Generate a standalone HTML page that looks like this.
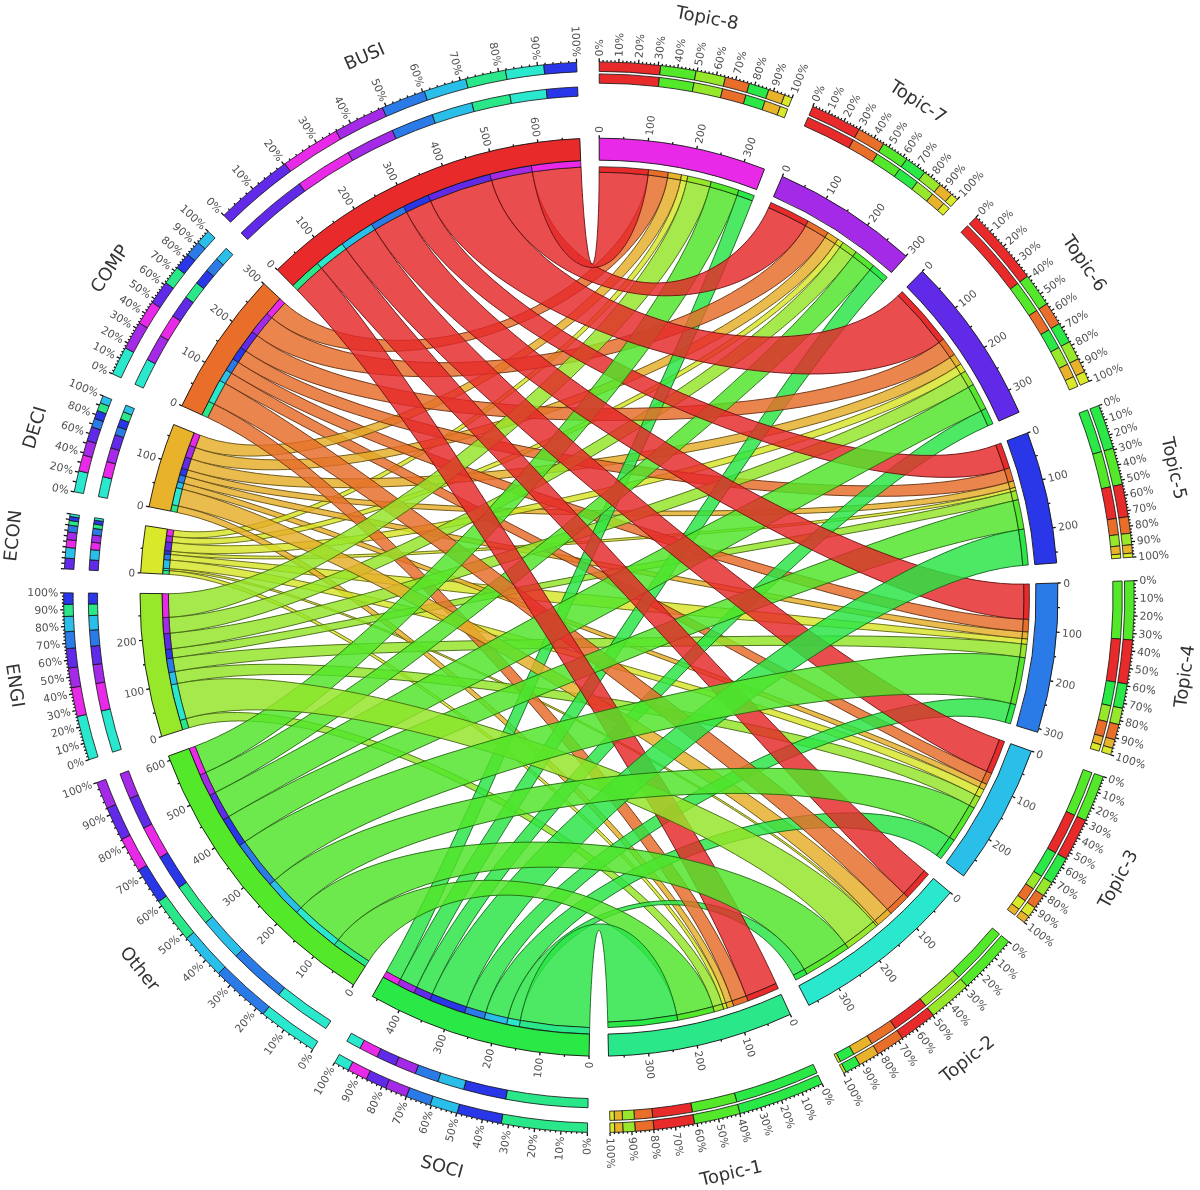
<!DOCTYPE html>
<html><head><meta charset="utf-8"><title>Chord diagram</title><style>html,body{margin:0;padding:0;background:#fff;}svg{display:block;}</style></head><body>
<svg width="1200" height="1190" viewBox="0 0 1200 1190">
<rect width="100%" height="100%" fill="#fff"/>
<g stroke-width="1" stroke-linejoin="round">
<path d="M169.3,570.7 A430.5,430.5 0 0 1 169.4,568.7 L182.5,569.8 195.9,571.5 209.7,573.8 223.7,576.5 238,579.8 252.5,583.5 267.4,587.6 282.5,592.1 297.8,597.1 313.3,602.3 329,607.9 344.9,613.9 361,620.1 377.3,626.6 393.6,633.3 410.1,640.3 426.7,647.5 443.4,654.9 460.1,662.5 476.9,670.3 493.7,678.2 510.6,686.2 527.4,694.4 544.1,702.7 560.9,711.1 577.5,719.7 594,728.3 610.5,736.9 626.7,745.7 642.8,754.5 658.7,763.4 674.4,772.3 689.9,781.3 705.1,790.3 720,799.3 734.5,808.4 748.8,817.6 762.6,826.7 776.1,835.9 789.1,845.2 801.7,854.4 813.8,863.7 825.4,873.1 836.5,882.5 847,891.9 856.8,901.4 866.1,911 L874.7,920.7 A425,425 0 0 1 873.2,921.9 L864.6,912.3 855.5,902.7 845.6,893.2 835.2,883.8 824.2,874.3 812.7,865 800.6,855.7 788.1,846.4 775.1,837.2 761.7,828 747.9,818.8 733.7,809.7 719.1,800.6 704.3,791.5 689.1,782.5 673.7,773.5 658,764.6 642.1,755.7 626,746.9 609.8,738.1 593.4,729.5 576.9,720.9 560.2,712.3 543.5,703.9 526.8,695.6 510,687.5 493.2,679.4 476.4,671.5 459.6,663.8 442.9,656.2 426.2,648.8 409.6,641.6 393.1,634.7 376.8,628 360.6,621.5 344.5,615.3 328.6,609.4 312.9,603.9 297.4,598.6 282.1,593.7 267,589.3 252.2,585.2 237.7,581.5 223.4,578.3 209.4,575.6 195.7,573.4 182.4,571.8Z" fill="#d7e429" fill-opacity="0.83" stroke="#606612" stroke-opacity="0.9"/>
<path d="M170.6,554.5 A430.5,430.5 0 0 1 171,551.2 L186.2,552.7 201.7,553.9 217.5,554.8 233.6,555.5 249.9,555.9 266.5,556.2 283.3,556.2 300.4,556.1 317.6,555.8 335.1,555.4 352.7,554.8 370.5,554.1 388.5,553.4 406.6,552.5 424.8,551.5 443.2,550.5 461.7,549.4 480.2,548.3 498.9,547 517.6,545.8 536.4,544.5 555.2,543.2 574,541.8 592.8,540.4 611.7,539 630.5,537.6 649.3,536.1 668,534.6 686.7,533.1 705.3,531.5 723.8,529.9 742.2,528.2 760.5,526.5 778.7,524.8 796.7,523 814.5,521.1 832.2,519.1 849.6,517.1 866.9,514.9 883.9,512.7 900.7,510.3 917.2,507.7 933.4,505.1 949.4,502.2 965,499.2 980.3,496 995.3,492.5 L1010,488.8 A425,425 0 0 1 1010.8,492 L996,495.6 981,499 965.6,502.1 949.8,505.1 933.8,507.8 917.5,510.4 900.9,512.9 884.1,515.2 867.1,517.4 849.8,519.6 832.3,521.6 814.6,523.5 796.8,525.3 778.7,527.1 760.6,528.8 742.3,530.5 723.9,532.1 705.4,533.7 686.8,535.3 668.1,536.8 649.4,538.3 630.6,539.7 611.8,541.2 593,542.6 574.1,544 555.3,545.3 536.5,546.7 517.8,548 499.1,549.2 480.5,550.5 461.9,551.6 443.4,552.8 425.1,553.8 406.8,554.8 388.7,555.7 370.7,556.5 352.9,557.3 335.3,557.9 317.8,558.4 300.5,558.7 283.4,558.9 266.6,558.9 249.9,558.7 233.6,558.4 217.4,557.8 201.5,557 185.9,555.9Z" fill="#d7e429" fill-opacity="0.83" stroke="#606612" stroke-opacity="0.9"/>
<path d="M169.1,574.4 A430.5,430.5 0 0 1 169.3,570.7 L180.5,571.7 192,573.5 203.8,575.9 215.8,578.9 228.1,582.6 240.7,586.8 253.5,591.6 266.5,597 279.7,602.8 293.1,609.2 306.7,615.9 320.4,623.2 334.2,630.8 348.1,638.8 362.1,647.2 376.2,655.9 390.4,664.9 404.5,674.3 418.7,683.9 432.9,693.7 447,703.8 461,714.1 475,724.6 488.9,735.3 502.7,746.1 516.3,757.1 529.7,768.2 543,779.4 556,790.7 568.8,802 581.3,813.4 593.5,824.9 605.4,836.4 616.9,847.9 628,859.3 638.8,870.8 649.1,882.2 658.9,893.6 668.3,905 677.2,916.3 685.5,927.5 693.2,938.6 700.3,949.6 706.8,960.5 712.6,971.3 717.7,982 722.1,992.5 L725.7,1002.9 A425,425 0 0 1 722.1,1004 L718.6,993.6 714.3,983.1 709.3,972.5 703.6,961.8 697.3,950.9 690.3,939.9 682.6,928.8 674.4,917.6 665.7,906.4 656.4,895.1 646.7,883.7 636.4,872.3 625.8,860.8 614.7,849.4 603.2,837.9 591.4,826.5 579.3,815.1 566.9,803.7 554.2,792.4 541.2,781.1 528.1,770 514.7,758.9 501.1,748 487.4,737.2 473.6,726.6 459.7,716.1 445.7,705.9 431.6,695.8 417.5,686 403.4,676.5 389.2,667.2 375.2,658.3 361.1,649.6 347.1,641.3 333.3,633.4 319.5,625.8 305.8,618.7 292.3,612 279,605.7 265.8,600 252.9,594.7 240.1,590 227.6,585.8 215.3,582.3 203.3,579.3 191.6,577 180.2,575.4Z" fill="#d7e429" fill-opacity="0.83" stroke="#606612" stroke-opacity="0.9"/>
<path d="M170.1,560.1 A430.5,430.5 0 0 1 170.6,554.5 L187.6,556.2 204.5,557.9 221.5,559.5 238.5,561.2 255.6,562.8 272.6,564.5 289.8,566.1 306.9,567.7 324.2,569.4 341.4,571 358.8,572.7 376.2,574.3 393.7,576 411.2,577.6 428.8,579.3 446.5,581 464.2,582.7 482,584.4 499.9,586.2 517.8,587.9 535.8,589.6 553.8,591.4 571.9,593.2 590.1,595 608.3,596.8 626.6,598.6 644.9,600.4 663.2,602.2 681.5,604.1 699.9,605.9 718.3,607.8 736.6,609.6 755,611.5 773.3,613.4 791.7,615.2 810,617.1 828.2,619 846.4,620.8 864.5,622.7 882.5,624.5 900.4,626.4 918.2,628.2 935.9,630 953.5,631.7 970.9,633.5 988.1,635.2 1005.2,636.9 L1022,638.5 A425,425 0 0 1 1021.4,643.9 L1004.7,642.1 987.8,640.4 970.7,638.7 953.5,637.1 936.2,635.6 918.7,634.1 901.1,632.6 883.4,631.2 865.5,629.7 847.7,628.3 829.7,626.8 811.6,625.4 793.5,624 775.4,622.5 757.2,621 739,619.5 720.7,618 702.4,616.4 684.2,614.9 665.9,613.2 647.6,611.6 629.3,609.9 611.1,608.1 592.9,606.4 574.6,604.5 556.5,602.7 538.3,600.8 520.2,598.9 502.2,596.9 484.1,594.9 466.2,592.9 448.3,590.9 430.4,588.8 412.6,586.8 394.9,584.7 377.2,582.6 359.6,580.5 342.1,578.5 324.6,576.4 307.2,574.4 289.8,572.4 272.5,570.4 255.3,568.5 238.1,566.7 221,564.9 204,563.2 187,561.6Z" fill="#d7e429" fill-opacity="0.83" stroke="#606612" stroke-opacity="0.9"/>
<path d="M182.3,489.1 A430.5,430.5 0 0 1 183.8,483.3 L199.5,487.7 215.2,492.3 231.1,497.2 247,502.3 263.1,507.6 279.3,513 295.7,518.6 312.1,524.4 328.6,530.2 345.3,536.2 362,542.3 378.8,548.5 395.7,554.8 412.7,561.1 429.8,567.5 446.9,574 464.1,580.4 481.4,586.9 498.7,593.5 516.1,600 533.5,606.6 550.9,613.1 568.3,619.7 585.8,626.2 603.3,632.8 620.7,639.3 638.2,645.8 655.6,652.3 673,658.7 690.3,665.2 707.6,671.6 724.9,678 742,684.4 759.1,690.8 776.1,697.2 792.9,703.6 809.7,710 826.3,716.3 842.7,722.7 859,729.1 875.1,735.6 891,742 906.7,748.5 922.2,755.1 937.5,761.7 952.5,768.4 967.2,775.2 L981.7,782 A425,425 0 0 1 979.1,787.3 L964.9,780.3 950.3,773.4 935.5,766.6 920.4,759.9 905,753.2 889.4,746.6 873.6,740.1 857.6,733.6 841.4,727.1 825,720.6 808.5,714.1 791.8,707.7 775,701.3 758,694.8 741,688.4 723.8,681.9 706.6,675.4 689.3,669 671.9,662.5 654.5,656 637,649.4 619.5,642.9 602,636.4 584.5,629.8 567,623.2 549.5,616.7 532,610.1 514.6,603.6 497.2,597.1 479.8,590.6 462.5,584.1 445.3,577.6 428.1,571.2 411,564.9 393.9,558.6 377,552.4 360.2,546.3 343.4,540.3 326.8,534.4 310.2,528.7 293.8,523.1 277.5,517.6 261.3,512.3 245.2,507.2 229.3,502.3 213.5,497.7 197.8,493.3Z" fill="#e4af29" fill-opacity="0.83" stroke="#664e12" stroke-opacity="0.9"/>
<path d="M172,542.5 A430.5,430.5 0 0 1 172.8,536.4 L184.3,537.7 196.3,538.4 208.7,538.5 221.5,538.1 234.7,537.2 248.3,535.7 262.2,533.8 276.4,531.4 291,528.6 305.8,525.3 320.9,521.7 336.2,517.7 351.8,513.3 367.5,508.6 383.4,503.6 399.5,498.3 415.6,492.8 431.9,486.9 448.3,480.8 464.7,474.5 481.1,467.9 497.5,461.1 513.9,454.2 530.3,447 546.6,439.7 562.7,432.3 578.8,424.7 594.7,416.9 610.4,409 625.8,401 641.1,393 656.1,384.8 670.7,376.5 685.1,368.1 699.1,359.6 712.7,351.1 725.9,342.5 738.7,333.8 751,325 762.7,316.2 774,307.4 784.6,298.4 794.7,289.5 804.2,280.4 812.9,271.3 821,262.2 828.4,253 L835,243.7 A425,425 0 0 1 840,247.1 L833.2,256.4 825.6,265.6 817.4,274.8 808.4,283.9 798.8,292.9 788.5,301.9 777.7,310.8 766.3,319.7 754.4,328.5 741.9,337.2 729,345.9 715.7,354.5 701.9,363 687.8,371.5 673.3,379.9 658.5,388.2 643.4,396.4 628.1,404.5 612.5,412.5 596.7,420.4 580.7,428.2 564.5,435.9 548.3,443.4 531.9,450.7 515.5,457.9 499,464.9 482.5,471.7 465.9,478.3 449.4,484.7 433,490.9 416.6,496.8 400.4,502.5 384.2,507.9 368.2,513 352.4,517.8 336.8,522.3 321.4,526.4 306.2,530.1 291.2,533.5 276.6,536.4 262.3,538.9 248.2,541 234.6,542.6 221.2,543.6 208.3,544.2 195.8,544.2 183.7,543.7Z" fill="#d7e429" fill-opacity="0.83" stroke="#606612" stroke-opacity="0.9"/>
<path d="M172.8,536.4 A430.5,430.5 0 0 1 173.8,530.2 L183.5,531.3 193.7,531.8 204.2,531.7 215.1,531 226.4,529.6 237.9,527.7 249.8,525.2 261.9,522.2 274.2,518.7 286.7,514.7 299.5,510.2 312.4,505.3 325.5,499.9 338.6,494.1 351.9,488 365.3,481.4 378.7,474.5 392.1,467.2 405.5,459.7 418.9,451.8 432.3,443.6 445.6,435.2 458.8,426.6 471.8,417.7 484.8,408.6 497.5,399.3 510,389.8 522.4,380.2 534.4,370.4 546.2,360.6 557.7,350.6 568.8,340.5 579.6,330.3 590,320.1 600.1,309.9 609.6,299.6 618.7,289.3 627.3,279 635.4,268.8 643,258.6 650,248.4 656.4,238.3 662.1,228.3 667.2,218.4 671.7,208.6 675.4,199 678.4,189.5 L680.6,180.1 A425,425 0 0 1 686.8,181.4 L684.4,190.8 681.3,200.4 677.4,210.1 672.8,220 667.5,230 661.6,240 655,250.2 647.8,260.4 640.1,270.7 631.8,281 623,291.3 613.8,301.7 604,312 593.8,322.3 583.2,332.6 572.3,342.8 561,353 549.3,363.1 537.4,373 525.1,382.9 512.7,392.6 500,402.2 487.1,411.5 474,420.7 460.8,429.7 447.5,438.5 434,447 420.5,455.3 407,463.3 393.4,471 379.9,478.4 366.3,485.4 352.8,492.1 339.4,498.4 326.1,504.3 312.9,509.9 299.9,514.9 287,519.6 274.4,523.7 261.9,527.4 249.7,530.5 237.8,533.1 226.1,535.2 214.7,536.7 203.7,537.6 193,537.8 182.7,537.4Z" fill="#d7e429" fill-opacity="0.83" stroke="#606612" stroke-opacity="0.9"/>
<path d="M176.9,512.4 A430.5,430.5 0 0 1 178.3,505.9 L189.9,508.8 201.8,512.3 213.9,516.6 226.1,521.4 238.6,526.9 251.3,532.9 264.1,539.5 277.1,546.6 290.2,554.2 303.5,562.3 316.9,570.8 330.4,579.7 344,589 357.7,598.6 371.4,608.6 385.2,618.9 399.1,629.5 412.9,640.4 426.7,651.5 440.6,662.8 454.4,674.4 468.1,686.1 481.8,698 495.3,710 508.8,722.2 522.1,734.4 535.3,746.8 548.3,759.2 561,771.7 573.6,784.2 585.9,796.7 597.9,809.3 609.7,821.8 621.1,834.3 632.2,846.8 642.9,859.3 653.2,871.6 663.1,883.9 672.5,896.2 681.4,908.3 689.8,920.3 697.7,932.2 705,944 711.7,955.7 717.8,967.2 723.2,978.6 727.9,989.8 L731.9,1000.9 A425,425 0 0 1 725.7,1002.9 L721.9,991.9 717.4,980.7 712.2,969.4 706.3,958 699.7,946.4 692.6,934.6 684.9,922.8 676.6,910.8 667.9,898.7 658.6,886.5 648.9,874.2 638.7,861.9 628.2,849.5 617.2,837.1 605.9,824.6 594.3,812.1 582.4,799.6 570.2,787.1 557.7,774.6 545,762.2 532.1,749.8 519.1,737.6 505.8,725.4 492.4,713.3 478.9,701.3 465.3,689.5 451.7,677.9 437.9,666.4 424.2,655.1 410.4,644.1 396.6,633.4 382.8,622.9 369.1,612.7 355.4,602.8 341.7,593.3 328.2,584.1 314.7,575.3 301.4,567 288.2,559.1 275.1,551.6 262.2,544.7 249.4,538.3 236.8,532.4 224.4,527.1 212.2,522.4 200.2,518.4 188.5,515.1Z" fill="#e4af29" fill-opacity="0.83" stroke="#664e12" stroke-opacity="0.9"/>
<path d="M185.8,476.4 A430.5,430.5 0 0 1 187.7,469.9 L201.4,473.9 215.5,477.6 230.1,481 245,484.1 260.3,486.9 276,489.5 292,491.9 308.3,494.1 325,496.1 341.9,497.9 359.1,499.6 376.6,501 394.3,502.4 412.1,503.6 430.2,504.7 448.5,505.7 466.9,506.6 485.4,507.5 504.1,508.2 522.8,508.8 541.7,509.3 560.5,509.8 579.5,510.2 598.4,510.5 617.3,510.8 636.3,511 655.1,511.1 674,511.1 692.7,511 711.4,510.8 729.9,510.6 748.3,510.3 766.5,509.8 784.6,509.2 802.5,508.6 820.1,507.7 837.5,506.8 854.7,505.6 871.6,504.3 888.2,502.9 904.5,501.2 920.5,499.3 936.1,497.2 951.3,494.8 966.2,492.1 980.6,489.2 994.6,486 L1008.2,482.4 A425,425 0 0 1 1010,488.8 L996.2,492.2 982,495.3 967.4,498.1 952.4,500.6 937,502.8 921.2,504.8 905.1,506.6 888.7,508.2 872,509.6 855.1,510.8 837.8,511.8 820.3,512.7 802.6,513.4 784.7,514 766.6,514.5 748.3,514.9 729.9,515.2 711.4,515.4 692.7,515.6 673.9,515.6 655.1,515.6 636.2,515.4 617.3,515.3 598.3,515 579.4,514.7 560.5,514.3 541.6,513.9 522.7,513.3 504,512.7 485.3,512.1 466.7,511.3 448.3,510.5 430,509.5 411.9,508.5 393.9,507.3 376.2,506 358.7,504.6 341.4,503.1 324.4,501.4 307.6,499.5 291.2,497.4 275.1,495.2 259.2,492.7 243.8,490 228.7,487 214,483.8 199.7,480.2Z" fill="#e4af29" fill-opacity="0.83" stroke="#664e12" stroke-opacity="0.9"/>
<path d="M183.8,483.3 A430.5,430.5 0 0 1 185.8,476.4 L201.3,480.8 217,485.1 233,489.2 249.2,493.2 265.7,497.1 282.3,500.9 299.1,504.6 316.1,508.2 333.2,511.7 350.5,515.3 368,518.7 385.6,522.1 403.3,525.6 421.1,528.9 439.1,532.3 457.1,535.7 475.2,539 493.3,542.4 511.6,545.8 529.8,549.1 548.1,552.5 566.5,555.9 584.9,559.3 603.2,562.7 621.6,566.1 640,569.5 658.3,572.9 676.6,576.3 694.9,579.8 713.1,583.1 731.3,586.5 749.4,589.9 767.4,593.2 785.3,596.5 803.2,599.7 820.9,602.9 838.5,606 856,609 873.4,611.9 890.7,614.7 907.7,617.4 924.7,620 941.5,622.4 958.1,624.6 974.5,626.7 990.7,628.6 1006.8,630.2 L1022.6,631.6 A425,425 0 0 1 1022,638.5 L1006,636.9 989.8,635 973.5,632.9 957,630.6 940.3,628.2 923.4,625.6 906.4,622.9 889.3,620 872,617.1 854.6,614 837.1,610.9 819.5,607.7 801.8,604.4 784,601.1 766,597.8 748.1,594.4 730,591 711.9,587.6 693.7,584.2 675.5,580.7 657.2,577.3 638.9,573.9 620.6,570.5 602.3,567.1 584,563.7 565.7,560.3 547.4,557 529.1,553.6 510.9,550.3 492.7,547 474.6,543.7 456.5,540.4 438.5,537.1 420.6,533.8 402.8,530.5 385,527.2 367.4,523.9 349.9,520.5 332.6,517.1 315.3,513.7 298.3,510.2 281.4,506.7 264.6,503 248.1,499.3 231.7,495.5 215.5,491.6 199.6,487.5Z" fill="#e4af29" fill-opacity="0.83" stroke="#664e12" stroke-opacity="0.9"/>
<path d="M169.4,568.7 A430.5,430.5 0 0 1 170.1,560.1 L185.3,561.5 200.7,563.4 216.3,565.5 232.2,568 248.2,570.7 264.5,573.7 281,576.9 297.6,580.4 314.5,584 331.5,587.8 348.6,591.8 366,596 383.4,600.3 401,604.7 418.7,609.2 436.5,613.8 454.4,618.6 472.4,623.4 490.4,628.2 508.5,633.2 526.6,638.1 544.8,643.2 563,648.2 581.2,653.3 599.4,658.4 617.6,663.6 635.7,668.8 653.8,674 671.8,679.2 689.7,684.4 707.5,689.7 725.2,695 742.8,700.3 760.3,705.6 777.5,711 794.6,716.4 811.5,721.9 828.2,727.4 844.6,733 860.8,738.6 876.8,744.3 892.4,750.1 907.7,756 922.7,762 937.4,768.1 951.7,774.4 965.6,780.8 L979.1,787.3 A425,425 0 0 1 975.2,794.9 L962,788.1 948.4,781.6 934.4,775.2 919.9,768.9 905.1,762.8 890,756.8 874.5,750.8 858.8,745 842.7,739.3 826.4,733.6 809.8,728 793,722.4 776,716.9 758.7,711.5 741.3,706.1 723.8,700.7 706.1,695.3 688.3,690 670.4,684.7 652.4,679.5 634.3,674.2 616.1,669 597.9,663.9 579.7,658.7 561.5,653.6 543.3,648.6 525.1,643.6 506.9,638.6 488.8,633.7 470.7,628.9 452.7,624.2 434.8,619.5 417,615 399.3,610.6 381.7,606.2 364.2,602.1 346.9,598 329.8,594.2 312.8,590.5 296,587 279.4,583.8 263,580.7 246.9,578 230.9,575.5 215.2,573.3 199.7,571.4 184.4,569.8Z" fill="#d7e429" fill-opacity="0.83" stroke="#606612" stroke-opacity="0.9"/>
<path d="M171,551.2 A430.5,430.5 0 0 1 172,542.5 L185.5,544 199.5,545 213.8,545.6 228.5,545.8 243.6,545.6 259,545.1 274.7,544.2 290.8,543.1 307.1,541.6 323.7,539.9 340.6,537.9 357.7,535.7 375,533.2 392.5,530.6 410.2,527.7 428.1,524.7 446,521.5 464.2,518.2 482.4,514.7 500.7,511 519,507.3 537.4,503.4 555.8,499.5 574.2,495.4 592.6,491.2 611,486.9 629.2,482.6 647.4,478.1 665.5,473.6 683.4,469 701.2,464.3 718.8,459.5 736.2,454.6 753.4,449.7 770.3,444.6 786.9,439.5 803.3,434.2 819.3,428.8 835,423.3 850.3,417.7 865.2,412 879.6,406.1 893.7,400 907.2,393.8 920.3,387.4 932.8,380.8 944.8,374 L956.2,366.9 A425,425 0 0 1 960.7,374.1 L949,381 936.8,387.7 924,394.2 910.7,400.5 896.9,406.7 882.6,412.6 868,418.4 852.9,424.1 837.4,429.6 821.6,435 805.4,440.3 789,445.5 772.2,450.6 755.2,455.6 737.9,460.5 720.5,465.3 702.8,470.1 684.9,474.7 666.9,479.3 648.8,483.8 630.6,488.3 612.3,492.6 593.9,496.9 575.5,501.1 557,505.2 538.6,509.1 520.2,513 501.8,516.8 483.4,520.5 465.2,524.1 447,527.5 429,530.7 411.1,533.9 393.3,536.8 375.8,539.6 358.4,542.1 341.2,544.5 324.3,546.6 307.6,548.5 291.1,550.1 275,551.5 259.1,552.5 243.5,553.2 228.3,553.6 213.4,553.6 198.9,553.2 184.7,552.5Z" fill="#d7e429" fill-opacity="0.83" stroke="#606612" stroke-opacity="0.9"/>
<path d="M172.8,658 A430.5,430.5 0 0 1 171.6,648.8 L188,646.7 204.4,644.5 221.1,642.1 237.8,639.5 254.7,636.7 271.7,633.9 288.8,630.9 306,627.8 323.3,624.7 340.7,621.5 358.2,618.2 375.8,614.8 393.5,611.4 411.3,608 429.2,604.5 447.1,601.1 465.1,597.6 483.1,594.1 501.2,590.6 519.3,587.1 537.5,583.6 555.7,580.2 573.9,576.8 592.1,573.3 610.3,569.9 628.6,566.6 646.8,563.2 665,559.9 683.2,556.6 701.3,553.3 719.4,550 737.5,546.8 755.5,543.6 773.4,540.3 791.2,537.1 808.9,533.9 826.6,530.6 844.1,527.4 861.5,524.1 878.8,520.8 895.9,517.5 912.9,514.1 929.7,510.6 946.3,507.1 962.7,503.5 979,499.8 995,495.9 L1010.8,492 A425,425 0 0 1 1012.9,500.9 L996.9,504.6 980.6,508.1 964.1,511.6 947.5,515 930.6,518.3 913.7,521.6 896.6,524.8 879.3,528 861.9,531.1 844.5,534.2 826.9,537.4 809.2,540.5 791.4,543.6 773.6,546.7 755.7,549.8 737.7,553 719.7,556.2 701.6,559.3 683.5,562.6 665.4,565.8 647.3,569.1 629.1,572.4 611,575.8 592.8,579.1 574.7,582.5 556.6,586 538.5,589.4 520.4,592.9 502.4,596.4 484.4,600 466.4,603.5 448.6,607.1 430.7,610.6 413,614.1 395.2,617.7 377.6,621.2 360.1,624.7 342.6,628.1 325.2,631.5 307.9,634.8 290.6,638.1 273.5,641.3 256.5,644.4 239.5,647.4 222.7,650.2 206,653 189.3,655.6Z" fill="#94e429" fill-opacity="0.83" stroke="#426612" stroke-opacity="0.9"/>
<path d="M188.8,727.9 A430.5,430.5 0 0 1 186,718.6 L195.4,716.2 205.3,714.4 215.7,713.2 226.4,712.6 237.6,712.5 249.2,712.9 261.1,713.9 273.3,715.4 285.8,717.3 298.6,719.7 311.6,722.6 324.9,725.9 338.4,729.6 352,733.7 365.7,738.2 379.6,743.1 393.6,748.3 407.6,753.8 421.7,759.7 435.8,765.9 449.8,772.3 463.8,779.1 477.8,786.1 491.6,793.3 505.3,800.8 518.9,808.5 532.3,816.4 545.4,824.4 558.4,832.7 571,841.1 583.4,849.6 595.5,858.3 607.2,867.1 618.5,876 629.5,885 640,894 650,903.1 659.6,912.3 668.7,921.5 677.2,930.7 685.1,940 692.4,949.2 699.1,958.5 705.1,967.7 710.5,976.8 715.1,985.9 719,995 L722.1,1004 A425,425 0 0 1 712.8,1006.7 L709.9,997.8 706.3,988.8 701.9,979.8 696.9,970.7 691.1,961.6 684.7,952.5 677.6,943.3 670,934.1 661.8,925 653,915.8 643.7,906.7 634,897.7 623.8,888.7 613.1,879.8 602,871 590.6,862.3 578.8,853.7 566.7,845.3 554.3,837 541.7,828.9 528.8,820.9 515.7,813.2 502.4,805.6 488.9,798.3 475.3,791.2 461.7,784.3 447.9,777.7 434.1,771.4 420.3,765.4 406.4,759.7 392.7,754.4 378.9,749.3 365.3,744.7 351.7,740.4 338.4,736.4 325.1,732.9 312.1,729.8 299.3,727.2 286.7,725 274.4,723.2 262.4,721.9 250.7,721.2 239.4,720.9 228.4,721.2 217.8,722 207.7,723.4 198,725.3Z" fill="#94e429" fill-opacity="0.83" stroke="#426612" stroke-opacity="0.9"/>
<path d="M187.7,469.9 A430.5,430.5 0 0 1 191.3,458.8 L203.3,462.6 215.8,465.9 228.8,468.7 242.3,471.2 256.2,473.3 270.6,475 285.5,476.4 300.7,477.4 316.3,478.1 332.2,478.6 348.5,478.8 365.1,478.7 382,478.3 399.1,477.8 416.4,477 434,476 451.7,474.8 469.6,473.4 487.6,471.8 505.8,470.1 524,468.1 542.2,466.1 560.5,463.8 578.8,461.5 597.1,458.9 615.3,456.3 633.5,453.5 651.6,450.5 669.5,447.4 687.3,444.2 704.9,440.9 722.2,437.4 739.4,433.7 756.3,429.9 772.9,426 789.2,421.9 805.1,417.6 820.7,413.2 835.9,408.6 850.7,403.8 865,398.8 878.8,393.6 892.1,388.2 904.9,382.6 917.1,376.7 928.7,370.6 939.6,364.2 L950,357.5 A425,425 0 0 1 956.2,366.9 L945.5,373.5 934.1,379.7 922.2,385.7 909.7,391.5 896.6,397 883,402.3 868.9,407.3 854.3,412.2 839.3,416.9 823.9,421.4 808.1,425.7 792,429.9 775.5,433.9 758.7,437.8 741.6,441.5 724.3,445.1 706.8,448.5 689,451.9 671.1,455.1 653,458.1 634.9,461 616.6,463.9 598.2,466.5 579.8,469.1 561.4,471.5 543,473.7 524.6,475.9 506.3,477.8 488,479.7 469.9,481.3 451.8,482.8 434,484.1 416.3,485.2 398.8,486.2 381.5,486.9 364.5,487.3 347.7,487.6 331.3,487.6 315.1,487.3 299.3,486.8 283.9,485.9 268.8,484.7 254.1,483.2 239.9,481.3 226.1,479.1 212.8,476.5 200,473.4Z" fill="#e4af29" fill-opacity="0.83" stroke="#664e12" stroke-opacity="0.9"/>
<path d="M225.3,383.5 A430.5,430.5 0 0 1 231.4,373.1 L245.6,381.6 259.9,390.1 274.5,398.5 289.3,406.8 304.2,415.1 319.3,423.4 334.6,431.7 350,440 365.5,448.2 381.2,456.5 397,464.8 412.9,473.1 428.8,481.4 444.9,489.7 461,498.1 477.2,506.5 493.5,514.9 509.8,523.4 526.1,531.9 542.5,540.4 558.9,548.9 575.3,557.5 591.7,566.1 608.1,574.8 624.5,583.4 640.9,592.1 657.2,600.8 673.6,609.5 689.8,618.2 706.1,626.9 722.3,635.6 738.5,644.2 754.6,652.9 770.6,661.5 786.6,670 802.5,678.5 818.3,686.9 834.1,695.3 849.7,703.6 865.3,711.7 880.8,719.7 896.2,727.6 911.5,735.4 926.8,743 941.9,750.4 956.9,757.6 971.9,764.6 L986.7,771.3 A425,425 0 0 1 981.7,782 L966.8,774.8 951.8,767.3 936.7,759.6 921.6,751.8 906.3,743.9 891,735.8 875.6,727.6 860.1,719.3 844.5,710.9 828.9,702.4 813.1,693.9 797.4,685.3 781.5,676.7 765.6,668 749.6,659.3 733.6,650.6 717.5,641.9 701.4,633.1 685.3,624.4 669.1,615.7 652.9,607 636.6,598.4 620.3,589.8 604,581.2 587.7,572.6 571.4,564.1 555.1,555.6 538.8,547.1 522.6,538.7 506.3,530.3 490.1,522 473.9,513.7 457.7,505.5 441.6,497.3 425.5,489.1 409.5,481 393.6,472.8 377.7,464.7 361.9,456.7 346.3,448.6 330.7,440.5 315.2,432.4 299.9,424.4 284.7,416.3 269.6,408.1 254.7,400 239.9,391.8Z" fill="#e46c29" fill-opacity="0.83" stroke="#663012" stroke-opacity="0.9"/>
<path d="M191.3,458.8 A430.5,430.5 0 0 1 195.4,447.5 L205.4,450.8 215.9,453.6 227,455.9 238.6,457.6 250.6,458.8 263.1,459.6 276,459.9 289.3,459.8 303,459.3 317,458.3 331.4,457 346,455.2 360.9,453.1 376,450.7 391.3,447.9 406.8,444.9 422.5,441.5 438.3,437.8 454.2,433.8 470.1,429.5 486.1,425 502.1,420.3 518.1,415.3 534,410.1 549.9,404.6 565.6,399 581.3,393.2 596.7,387.1 612,380.9 627,374.6 641.8,368 656.3,361.3 670.5,354.5 684.4,347.5 697.9,340.4 710.9,333.1 723.6,325.7 735.8,318.2 747.5,310.6 758.6,302.9 769.2,295 779.2,287.1 788.6,279 797.3,270.9 805.4,262.6 812.7,254.3 819.3,245.8 L825,237.3 A425,425 0 0 1 835,243.7 L828.8,252.3 821.9,260.8 814.2,269.1 805.8,277.4 796.7,285.6 787,293.6 776.7,301.6 765.7,309.4 754.2,317.1 742.2,324.8 729.7,332.3 716.8,339.7 703.4,346.9 689.6,354.1 675.4,361.1 660.9,367.9 646.1,374.7 631.1,381.3 615.7,387.7 600.2,393.9 584.4,400 568.5,405.9 552.5,411.6 536.4,417.2 520.2,422.5 504,427.6 487.7,432.4 471.4,437.1 455.2,441.5 439.1,445.6 423.1,449.4 407.2,453 391.4,456.2 375.8,459.2 360.4,461.8 345.3,464.1 330.4,466 315.8,467.5 301.5,468.7 287.6,469.5 274,469.8 260.8,469.7 248.1,469.1 235.7,468.1 223.9,466.6 212.5,464.5 201.6,462Z" fill="#e4af29" fill-opacity="0.83" stroke="#664e12" stroke-opacity="0.9"/>
<path d="M177.3,683.6 A430.5,430.5 0 0 1 175,671.5 L188.6,669.3 202.7,667.6 217.2,666.3 232,665.3 247.3,664.6 262.9,664.3 278.8,664.3 295,664.5 311.5,665.1 328.3,665.8 345.4,666.8 362.7,668 380.2,669.4 397.9,671 415.8,672.7 433.9,674.6 452.1,676.7 470.5,678.9 488.9,681.2 507.5,683.6 526.1,686.1 544.7,688.8 563.4,691.5 582.1,694.4 600.7,697.3 619.4,700.3 637.9,703.4 656.4,706.6 674.8,709.9 693.1,713.2 711.2,716.7 729.2,720.2 746.9,723.8 764.5,727.6 781.8,731.4 798.9,735.3 815.7,739.4 832.2,743.6 848.3,747.9 864.1,752.4 879.6,757 894.6,761.8 909.3,766.8 923.4,771.9 937.2,777.3 950.4,782.9 963.1,788.8 L975.2,794.9 A425,425 0 0 1 969.4,805.5 L957.7,799.2 945.4,793.2 932.5,787.4 919.1,781.9 905.3,776.5 890.9,771.4 876.2,766.4 861,761.7 845.4,757 829.4,752.6 813.1,748.3 796.5,744.1 779.6,740.1 762.4,736.1 745,732.3 727.3,728.6 709.5,725 691.4,721.5 673.3,718.1 654.9,714.8 636.5,711.6 618,708.4 599.4,705.4 580.8,702.5 562.2,699.7 543.6,697 525,694.4 506.5,691.9 488,689.5 469.6,687.3 451.3,685.2 433.2,683.2 415.2,681.5 397.4,679.9 379.7,678.4 362.3,677.2 345.1,676.2 328.2,675.4 311.6,674.8 295.2,674.5 279.2,674.5 263.5,674.7 248.1,675.3 233.1,676.2 218.5,677.5 204.3,679.1 190.6,681.2Z" fill="#94e429" fill-opacity="0.83" stroke="#426612" stroke-opacity="0.9"/>
<path d="M520.3,1020.4 A430.5,430.5 0 0 1 507.9,1018 L509.7,1011 511.9,1004.2 514.5,997.4 517.6,990.6 521.1,984 525,977.6 529.3,971.2 533.9,965.1 538.9,959.1 544.2,953.4 549.8,947.9 555.7,942.6 561.9,937.6 568.4,932.9 575.1,928.4 582,924.3 589.1,920.4 596.4,916.9 603.9,913.7 611.5,910.8 619.3,908.3 627.2,906.1 635.1,904.3 643.1,902.8 651.2,901.7 659.3,901 667.5,900.6 675.6,900.6 683.7,900.9 691.7,901.6 699.7,902.7 707.6,904.1 715.3,905.9 723,908.1 730.5,910.6 737.8,913.4 744.9,916.5 751.8,920 758.5,923.7 764.9,927.8 771,932.2 776.9,936.8 782.4,941.7 787.5,946.8 792.3,952.1 796.7,957.7 800.7,963.4 L804.2,969.4 A425,425 0 0 1 793.3,975.2 L790,969.2 786.3,963.5 782.2,957.9 777.8,952.5 773,947.3 767.8,942.3 762.4,937.6 756.7,933.2 750.7,929 744.5,925.1 738.1,921.6 731.5,918.3 724.7,915.4 717.7,912.8 710.6,910.6 703.4,908.7 696.1,907.1 688.7,905.9 681.2,905.1 673.8,904.7 666.2,904.6 658.7,904.8 651.2,905.5 643.8,906.5 636.3,907.9 629,909.6 621.8,911.7 614.6,914.2 607.6,917 600.7,920.1 594,923.6 587.4,927.4 581.1,931.5 575,935.9 569,940.6 563.4,945.6 558,950.8 552.8,956.3 548,962 543.5,967.9 539.3,974 535.4,980.3 531.9,986.7 528.8,993.3 526,1000 523.7,1006.8 521.8,1013.6Z" fill="#29e444" fill-opacity="0.83" stroke="#12661e" stroke-opacity="0.9"/>
<path d="M231.4,373.1 A430.5,430.5 0 0 1 238.3,362.3 L250.5,370 263.2,377.6 276.4,385 290.1,392.2 304.1,399.3 318.6,406.4 333.4,413.3 348.6,420.1 364.1,426.8 379.9,433.4 396,440 412.3,446.5 428.9,453 445.7,459.4 462.8,465.7 480,472 497.3,478.3 514.9,484.5 532.5,490.7 550.3,496.8 568.1,502.9 586,508.9 604,514.9 622,520.8 640,526.7 658,532.4 676,538.2 694,543.8 711.9,549.4 729.8,554.8 747.6,560.1 765.3,565.3 782.8,570.4 800.3,575.4 817.6,580.1 834.7,584.7 851.7,589.1 868.5,593.3 885.1,597.3 901.5,601 917.7,604.4 933.6,607.6 949.3,610.4 964.7,612.9 979.8,615.1 994.6,616.9 1009.2,618.3 L1023.4,619.2 A425,425 0 0 1 1022.6,631.6 L1008.1,630.2 993.3,628.5 978.3,626.3 962.9,623.8 947.4,620.9 931.5,617.8 915.5,614.4 899.2,610.6 882.7,606.7 866.1,602.5 849.2,598.1 832.2,593.6 815,588.8 797.6,583.9 780.2,578.8 762.6,573.7 744.9,568.3 727.1,562.9 709.3,557.4 691.3,551.8 673.4,546.1 655.4,540.4 637.4,534.6 619.3,528.7 601.3,522.8 583.4,516.9 565.5,510.9 547.6,504.9 529.8,498.8 512.1,492.7 494.6,486.6 477.1,480.4 459.8,474.2 442.7,468 425.8,461.7 409,455.4 392.5,449 376.3,442.5 360.3,436 344.6,429.5 329.2,422.8 314.1,416.1 299.3,409.2 284.9,402.3 270.9,395.2 257.3,388 244.1,380.6Z" fill="#e46c29" fill-opacity="0.83" stroke="#663012" stroke-opacity="0.9"/>
<path d="M195.4,447.5 A430.5,430.5 0 0 1 200.1,435.2 L208.5,438.2 217.3,440.7 226.6,442.6 236.2,444 246.3,444.8 256.7,445.2 267.5,445 278.5,444.4 289.9,443.3 301.4,441.7 313.3,439.7 325.3,437.3 337.4,434.4 349.8,431.1 362.2,427.4 374.7,423.3 387.3,418.9 400,414.1 412.6,409 425.3,403.5 437.8,397.7 450.4,391.7 462.8,385.3 475.1,378.7 487.3,371.8 499.2,364.6 511,357.3 522.6,349.7 533.9,341.9 545,334 555.7,325.8 566.1,317.6 576.2,309.1 585.8,300.6 595.1,292 604,283.3 612.4,274.5 620.3,265.6 627.7,256.7 634.6,247.8 640.9,238.9 646.6,230 651.8,221.1 656.3,212.3 660.1,203.5 663.3,194.8 665.8,186.2 L667.5,177.8 A425,425 0 0 1 680.6,180.1 L678.5,188.7 675.7,197.5 672.2,206.3 668,215.2 663.1,224.1 657.6,233.2 651.5,242.2 644.7,251.2 637.5,260.3 629.6,269.3 621.3,278.3 612.5,287.2 603.2,296.1 593.5,304.9 583.4,313.6 572.9,322.2 562.1,330.6 550.9,338.9 539.5,347 527.7,355 515.8,362.8 503.5,370.4 491.1,377.7 478.6,384.8 465.9,391.7 453,398.3 440.1,404.6 427.1,410.6 414.1,416.4 401.1,421.8 388.1,426.8 375.1,431.5 362.2,435.9 349.4,439.8 336.8,443.4 324.2,446.5 311.9,449.3 299.8,451.6 287.8,453.4 276.2,454.8 264.8,455.7 253.7,456.1 243,456 232.6,455.4 222.7,454.3 213.1,452.6 204,450.3Z" fill="#e4af29" fill-opacity="0.83" stroke="#664e12" stroke-opacity="0.9"/>
<path d="M238.3,362.3 A430.5,430.5 0 0 1 245.8,351 L256.3,358 267.4,364.6 279.2,371 291.5,377.2 304.4,383.1 317.8,388.8 331.7,394.3 346,399.6 360.8,404.8 376.1,409.7 391.7,414.5 407.7,419.1 424,423.5 440.6,427.8 457.5,432 474.7,436 492,439.8 509.6,443.6 527.4,447.2 545.3,450.6 563.3,454 581.5,457.2 599.7,460.2 617.9,463.1 636.2,465.9 654.5,468.5 672.7,471 690.9,473.3 709,475.5 727,477.5 744.8,479.3 762.5,480.9 780,482.3 797.4,483.5 814.4,484.4 831.3,485.2 847.8,485.6 864,485.8 880,485.8 895.5,485.4 910.7,484.7 925.5,483.7 939.8,482.4 953.7,480.7 967.2,478.5 980.1,476 992.5,473.1 L1004.4,469.6 A425,425 0 0 1 1008.2,482.4 L995.9,485.5 983.2,488.2 969.9,490.5 956.1,492.4 941.9,493.8 927.3,494.9 912.2,495.7 896.8,496.2 881,496.3 864.9,496.2 848.4,495.8 831.7,495.2 814.7,494.3 797.4,493.1 779.9,491.8 762.3,490.3 744.4,488.6 726.4,486.7 708.3,484.6 690,482.4 671.7,480 653.3,477.5 634.9,474.8 616.5,472 598.1,469.1 579.8,466 561.5,462.9 543.3,459.5 525.3,456.1 507.3,452.6 489.6,448.9 472,445.1 454.7,441.2 437.6,437.1 420.7,432.9 404.2,428.6 388,424.1 372.1,419.4 356.6,414.6 341.5,409.7 326.8,404.5 312.6,399.1 298.9,393.6 285.6,387.8 272.9,381.8 260.8,375.6 249.2,369.1Z" fill="#e46c29" fill-opacity="0.83" stroke="#663012" stroke-opacity="0.9"/>
<path d="M175,671.5 A430.5,430.5 0 0 1 172.8,658 L188.5,655.9 204.5,654 220.7,652.3 237.2,650.8 253.9,649.4 270.7,648.2 287.8,647.1 305.1,646.2 322.5,645.3 340.1,644.6 357.8,643.9 375.7,643.3 393.7,642.7 411.9,642.2 430.2,641.8 448.5,641.3 467,640.9 485.5,640.6 504.1,640.2 522.7,639.9 541.4,639.5 560.1,639.2 578.9,638.9 597.6,638.6 616.4,638.3 635.1,638 653.9,637.7 672.6,637.4 691.2,637.1 709.8,636.9 728.3,636.6 746.7,636.4 765.1,636.2 783.3,636.1 801.5,635.9 819.5,635.9 837.3,635.9 855.1,636 872.6,636.2 890,636.5 907.2,636.9 924.2,637.4 941,638 957.6,638.8 973.9,639.8 990,641 1005.9,642.3 L1021.4,643.9 A425,425 0 0 1 1019.8,657.1 L1004.6,655.1 989,653.3 973.2,651.8 957.2,650.5 940.8,649.4 924.2,648.4 907.4,647.6 890.4,647 873.1,646.5 855.6,646.1 838,645.8 820.2,645.6 802.2,645.5 784.1,645.4 765.8,645.4 747.5,645.5 729,645.6 710.4,645.8 691.8,646 673.1,646.2 654.3,646.4 635.5,646.7 616.7,647 597.9,647.3 579,647.6 560.2,648 541.4,648.4 522.6,648.7 503.9,649.2 485.3,649.6 466.7,650.1 448.2,650.6 429.9,651.1 411.6,651.7 393.5,652.4 375.5,653.1 357.6,653.9 339.9,654.8 322.4,655.8 305.1,656.9 288,658.1 271.1,659.5 254.4,661 238,662.7 221.8,664.6 205.9,666.6 190.3,668.9Z" fill="#94e429" fill-opacity="0.83" stroke="#426612" stroke-opacity="0.9"/>
<path d="M207.7,417.6 A430.5,430.5 0 0 1 214.3,404.1 L226.1,410.3 238,417.2 250,424.6 262,432.6 274.2,441.2 286.4,450.2 298.7,459.8 311.1,469.8 323.5,480.2 336.1,491 348.6,502.2 361.3,513.7 374,525.6 386.7,537.7 399.5,550.2 412.2,562.8 425.1,575.7 437.9,588.9 450.7,602.2 463.5,615.6 476.2,629.2 488.9,643 501.6,656.8 514.2,670.8 526.7,684.8 539.1,698.9 551.4,713 563.6,727.1 575.6,741.3 587.4,755.4 599.1,769.5 610.5,783.6 621.7,797.7 632.7,811.6 643.4,825.5 653.7,839.4 663.8,853.1 673.5,866.8 682.9,880.3 691.9,893.7 700.4,907 708.5,920.2 716.1,933.2 723.2,946 729.8,958.8 735.8,971.3 741.3,983.7 L746.1,995.9 A425,425 0 0 1 731.9,1000.9 L727.7,988.8 722.7,976.6 717.2,964.1 711.1,951.6 704.4,938.8 697.2,925.9 689.4,912.8 681.3,899.6 672.6,886.2 663.6,872.8 654.1,859.2 644.4,845.5 634.2,831.7 623.8,817.8 613,803.9 602,789.9 590.7,775.8 579.3,761.8 567.6,747.7 555.7,733.6 543.6,719.5 531.5,705.4 519.1,691.5 506.7,677.5 494.2,663.7 481.6,649.9 468.9,636.3 456.2,622.8 443.4,609.5 430.6,596.3 417.9,583.4 405.1,570.6 392.3,558.2 379.6,546 366.8,534 354.2,522.4 341.5,511.2 329,500.3 316.5,489.8 304,479.7 291.7,470.1 279.4,461 267.2,452.3 255.1,444.2 243.2,436.6 231.2,429.7 219.4,423.3Z" fill="#e46c29" fill-opacity="0.83" stroke="#663012" stroke-opacity="0.9"/>
<path d="M171.6,648.8 A430.5,430.5 0 0 1 170,633.2 L184.7,631.7 199.7,629.9 214.9,627.7 230.4,625.2 246.1,622.3 262,619.1 278.2,615.6 294.5,611.9 311.1,607.9 327.8,603.7 344.7,599.3 361.8,594.7 379.1,589.9 396.4,585 413.9,579.9 431.5,574.7 449.2,569.4 467,563.9 484.9,558.4 502.8,552.8 520.8,547.1 538.8,541.3 556.8,535.5 574.8,529.6 592.8,523.7 610.8,517.7 628.7,511.7 646.6,505.7 664.3,499.6 682,493.5 699.5,487.3 716.9,481.1 734.2,474.9 751.2,468.7 768.1,462.4 784.8,456.1 801.2,449.7 817.4,443.3 833.3,436.8 848.9,430.2 864.2,423.6 879.2,416.8 893.8,410 908.1,403.1 921.9,396.1 935.3,388.9 948.3,381.6 L960.7,374.1 A425,425 0 0 1 968.5,387.3 L955.5,394.5 942,401.5 928.1,408.5 913.8,415.3 899.2,422 884.2,428.6 868.9,435.1 853.4,441.6 837.5,447.9 821.3,454.3 805,460.5 788.4,466.8 771.6,472.9 754.6,479.1 737.4,485.2 720.1,491.3 702.6,497.4 685.1,503.5 667.4,509.5 649.6,515.5 631.8,521.5 613.9,527.5 595.9,533.4 578,539.4 560,545.2 542,551.1 524.1,556.9 506.1,562.6 488.3,568.3 470.4,573.9 452.7,579.5 435,584.9 417.4,590.3 399.9,595.5 382.5,600.7 365.3,605.7 348.2,610.5 331.2,615.2 314.4,619.7 297.7,624 281.3,628 265,631.9 248.9,635.5 233,638.8 217.3,641.8 201.9,644.5 186.6,646.8Z" fill="#94e429" fill-opacity="0.83" stroke="#426612" stroke-opacity="0.9"/>
<path d="M170,633.2 A430.5,430.5 0 0 1 169,617.3 L181.5,616.4 194.3,614.9 207.5,612.8 221,610.2 234.8,607 248.8,603.3 263.2,599.2 277.7,594.7 292.6,589.7 307.6,584.3 322.9,578.5 338.3,572.4 353.9,565.9 369.6,559.2 385.5,552.1 401.5,544.8 417.6,537.2 433.8,529.4 450,521.4 466.3,513.2 482.6,504.8 498.9,496.2 515.1,487.5 531.3,478.7 547.5,469.7 563.5,460.6 579.4,451.4 595.2,442.1 610.8,432.7 626.2,423.2 641.4,413.7 656.3,404.2 671,394.5 685.4,384.9 699.5,375.2 713.2,365.5 726.5,355.7 739.4,345.9 751.9,336.1 764,326.3 775.5,316.5 786.6,306.6 797,296.8 806.9,286.9 816.2,277 824.8,267.1 832.8,257.1 L840,247.1 A425,425 0 0 1 852.8,256.3 L845,266.3 836.5,276.3 827.4,286.2 817.6,296.1 807.3,305.9 796.4,315.8 784.9,325.6 773,335.4 760.6,345.2 747.7,355 734.5,364.7 720.8,374.5 706.8,384.2 692.5,393.9 677.8,403.5 662.9,413.1 647.7,422.7 632.3,432.2 616.7,441.7 600.9,451.1 585,460.5 568.9,469.7 552.7,478.9 536.4,488 520.1,496.9 503.7,505.7 487.3,514.4 470.9,522.9 454.5,531.3 438.2,539.5 421.9,547.5 405.7,555.2 389.5,562.8 373.5,570 357.6,577 341.9,583.7 326.3,590.1 310.9,596.2 295.7,601.9 280.7,607.2 266,612.2 251.4,616.7 237.2,620.7 223.1,624.3 209.4,627.3 196,629.8 182.8,631.8Z" fill="#94e429" fill-opacity="0.83" stroke="#426612" stroke-opacity="0.9"/>
<path d="M400.5,979.2 A430.5,430.5 0 0 1 386.4,971.5 L394.3,957.4 402.1,943 409.8,928.3 417.5,913.4 425.1,898.3 432.7,883 440.3,867.5 447.8,851.8 455.3,835.9 462.8,819.9 470.2,803.7 477.7,787.5 485.2,771.1 492.7,754.5 500.2,737.9 507.8,721.2 515.3,704.5 522.9,687.6 530.5,670.8 538.1,653.8 545.7,636.9 553.3,619.9 561,602.9 568.7,585.9 576.4,568.9 584,551.9 591.7,534.9 599.4,518 607.1,501.1 614.8,484.2 622.4,467.4 630,450.7 637.5,434 645,417.4 652.5,400.9 659.8,384.4 667.1,368 674.3,351.8 681.3,335.6 688.2,319.5 695,303.6 701.7,287.7 708.1,272 714.4,256.4 720.4,240.9 726.2,225.6 731.8,210.3 L737.1,195.3 A425,425 0 0 1 752.3,200.8 L746.3,216 740.1,231.4 733.7,246.9 727.1,262.4 720.4,278.1 713.5,293.9 706.4,309.7 699.3,325.7 692,341.7 684.7,357.9 677.3,374.1 669.8,390.4 662.2,406.8 654.6,423.2 647,439.7 639.3,456.3 631.6,472.9 623.9,489.6 616.2,506.3 608.5,523.1 600.8,539.9 593.2,556.7 585.5,573.6 577.9,590.4 570.3,607.3 562.7,624.2 555.1,641 547.6,657.9 540.1,674.7 532.7,691.5 525.3,708.3 517.9,725 510.5,741.7 503.2,758.3 495.9,774.8 488.6,791.3 481.3,807.7 474.1,823.9 466.8,840.1 459.6,856.2 452.3,872.1 445,887.9 437.7,903.5 430.4,919 423,934.4 415.6,949.5 408.1,964.5Z" fill="#29e444" fill-opacity="0.83" stroke="#12661e" stroke-opacity="0.9"/>
<path d="M432.3,994.1 A430.5,430.5 0 0 1 416.7,987.2 L422.8,974.9 429.4,962.5 436.6,949.9 444.3,937.3 452.5,924.6 461.2,911.7 470.3,898.8 479.8,885.8 489.8,872.6 500.1,859.4 510.7,846.1 521.7,832.8 533,819.3 544.5,805.9 556.3,792.3 568.3,778.7 580.6,765.1 593,751.5 605.6,737.8 618.3,724.2 631.2,710.5 644.2,696.9 657.3,683.4 670.4,669.8 683.7,656.4 697,643 710.3,629.8 723.7,616.6 737,603.6 750.4,590.8 763.8,578.1 777.1,565.6 790.4,553.3 803.7,541.3 816.9,529.5 830,518 843.1,506.8 856.1,495.9 869,485.4 881.9,475.3 894.6,465.5 907.3,456.2 919.8,447.4 932.3,439 944.6,431.1 956.9,423.8 969,417.1 L981,410.9 A425,425 0 0 1 987.9,425.9 L976.1,431.4 964.1,437.6 951.9,444.4 939.7,451.7 927.3,459.6 914.8,468 902.2,476.9 889.5,486.3 876.7,496.1 863.8,506.2 850.8,516.8 837.7,527.7 824.6,538.9 811.4,550.5 798.2,562.3 784.9,574.4 771.6,586.7 758.2,599.2 744.9,611.9 731.6,624.8 718.2,637.9 705,651 691.7,664.3 678.5,677.7 665.5,691.2 652.5,704.7 639.6,718.3 626.8,731.9 614.2,745.5 601.8,759.1 589.5,772.8 577.5,786.4 565.7,800 554.1,813.5 542.8,827 531.9,840.4 521.2,853.8 510.9,867 500.9,880.2 491.3,893.3 482.2,906.3 473.5,919.2 465.3,932 457.6,944.7 450.4,957.2 443.8,969.6 437.8,982Z" fill="#29e444" fill-opacity="0.83" stroke="#12661e" stroke-opacity="0.9"/>
<path d="M178.3,505.9 A430.5,430.5 0 0 1 182.3,489.1 L196,492.9 210,497.2 224.1,502 238.5,507.2 253,512.8 267.7,518.8 282.6,525.2 297.7,532 312.9,539 328.2,546.4 343.8,554 359.4,561.9 375.2,570 391,578.4 407,587 423.1,595.7 439.2,604.6 455.4,613.6 471.7,622.8 487.9,632.1 504.3,641.6 520.6,651.1 536.9,660.7 553.2,670.4 569.4,680.1 585.6,689.9 601.7,699.7 617.8,709.6 633.7,719.5 649.5,729.4 665.1,739.3 680.6,749.3 695.9,759.2 711,769.2 725.8,779.1 740.4,789.1 754.8,799.1 768.8,809.1 782.5,819 795.9,829 808.9,839 821.5,849 833.7,859 845.4,869 856.7,879 867.5,889.1 877.7,899.2 L887.4,909.4 A425,425 0 0 1 874.7,920.7 L865.7,910.4 856,900.3 845.8,890.1 835.1,880 823.8,869.9 812.1,859.8 799.9,849.7 787.3,839.7 774.3,829.6 760.9,819.5 747.2,809.5 733.1,799.4 718.7,789.4 704.1,779.3 689.2,769.3 674.1,759.3 658.7,749.3 643.2,739.3 627.5,729.4 611.7,719.4 595.7,709.5 579.7,699.7 563.5,689.9 547.3,680.2 531.1,670.6 514.8,661 498.5,651.6 482.2,642.3 465.9,633.1 449.7,624 433.5,615.1 417.3,606.3 401.3,597.8 385.3,589.4 369.5,581.3 353.8,573.4 338.2,565.8 322.7,558.5 307.4,551.5 292.3,544.8 277.3,538.4 262.6,532.5 248,526.9 233.6,521.7 219.4,517 205.5,512.8 191.8,509.1Z" fill="#e4af29" fill-opacity="0.83" stroke="#664e12" stroke-opacity="0.9"/>
<path d="M416.7,987.2 A430.5,430.5 0 0 1 400.5,979.2 L408,965 415.8,950.7 423.9,936.4 432.2,921.9 440.8,907.4 449.6,892.8 458.5,878.2 467.7,863.4 477,848.6 486.5,833.7 496.1,818.7 505.8,803.7 515.6,788.6 525.6,773.4 535.6,758.1 545.7,742.8 555.8,727.5 566,712 576.3,696.6 586.5,681.1 596.8,665.5 607.2,650 617.5,634.4 627.8,618.8 638.1,603.2 648.4,587.6 658.7,572 669,556.5 679.3,541 689.5,525.5 699.7,510.1 709.9,494.8 720,479.5 730.2,464.3 740.3,449.3 750.3,434.3 760.4,419.5 770.4,404.8 780.4,390.3 790.3,376 800.3,361.9 810.2,348 820.2,334.3 830.1,320.8 840.1,307.7 850,294.7 860,282.1 L870,269.9 A425,425 0 0 1 883.5,281.5 L873.3,293 863.1,305 852.9,317.3 842.8,329.9 832.6,342.8 822.5,356.1 812.4,369.6 802.2,383.4 792.1,397.4 781.9,411.6 771.7,426.1 761.5,440.7 751.3,455.5 741,470.4 730.8,485.5 720.5,500.7 710.1,516 699.8,531.4 689.4,546.9 679.1,562.5 668.7,578.1 658.3,593.7 647.9,609.4 637.5,625.1 627.1,640.8 616.8,656.5 606.4,672.2 596.1,687.8 585.9,703.5 575.7,719.1 565.6,734.6 555.5,750.1 545.5,765.6 535.7,780.9 525.9,796.2 516.3,811.5 506.8,826.6 497.5,841.7 488.3,856.7 479.3,871.6 470.6,886.4 462.1,901.1 453.8,915.7 445.7,930.2 438,944.6 430.6,958.9 423.5,973.1Z" fill="#29e444" fill-opacity="0.83" stroke="#12661e" stroke-opacity="0.9"/>
<path d="M245.8,351 A430.5,430.5 0 0 1 257.2,335.5 L266,341.8 275.5,347.8 285.6,353.4 296.4,358.7 307.8,363.7 319.8,368.3 332.3,372.7 345.3,376.8 358.8,380.6 372.8,384.2 387.1,387.4 401.9,390.5 417,393.2 432.5,395.7 448.2,398 464.3,400.1 480.5,401.9 497,403.5 513.7,404.9 530.5,406 547.4,406.9 564.4,407.6 581.5,408.1 598.6,408.4 615.7,408.4 632.8,408.3 649.8,407.9 666.7,407.3 683.6,406.4 700.2,405.4 716.7,404.1 732.9,402.6 748.9,400.9 764.7,398.9 780.1,396.7 795.2,394.2 809.9,391.5 824.3,388.5 838.2,385.2 851.6,381.7 864.6,377.9 877.1,373.8 889,369.4 900.3,364.6 911,359.6 921.1,354.2 930.5,348.5 L939.2,342.4 A425,425 0 0 1 950,357.5 L940.7,363.4 930.7,369 920.1,374.2 908.9,379 897,383.6 884.6,387.8 871.7,391.7 858.2,395.3 844.3,398.7 829.9,401.8 815.1,404.6 800,407.2 784.4,409.5 768.6,411.6 752.4,413.4 736,415.1 719.3,416.5 702.4,417.7 685.4,418.6 668.1,419.4 650.8,420 633.4,420.3 615.9,420.5 598.4,420.4 580.9,420.2 563.4,419.7 546,419.1 528.7,418.2 511.5,417.1 494.4,415.9 477.5,414.4 460.8,412.7 444.4,410.8 428.2,408.7 412.3,406.3 396.7,403.7 381.5,400.8 366.7,397.7 352.3,394.4 338.3,390.8 324.8,386.9 311.8,382.7 299.3,378.2 287.4,373.4 276,368.4 265.3,362.9 255.2,357.2Z" fill="#e46c29" fill-opacity="0.83" stroke="#663012" stroke-opacity="0.9"/>
<path d="M271.6,317.7 A430.5,430.5 0 0 1 284.7,303.1 L290.4,308 296.7,312.7 303.3,317 310.4,321 317.9,324.6 325.7,327.8 333.9,330.7 342.3,333.2 351,335.4 360,337.1 369.2,338.5 378.6,339.5 388.2,340.2 397.9,340.4 407.8,340.3 417.7,339.9 427.7,339 437.8,337.8 447.8,336.2 457.9,334.3 467.9,332 477.9,329.3 487.9,326.4 497.7,323.1 507.4,319.4 516.9,315.5 526.3,311.2 535.5,306.7 544.5,301.8 553.3,296.7 561.8,291.4 570.1,285.7 578,279.9 585.6,273.8 592.9,267.5 599.8,261.1 606.4,254.4 612.6,247.6 618.3,240.7 623.6,233.6 628.5,226.4 632.8,219.2 636.7,211.8 640.1,204.5 642.9,197.1 645.2,189.7 646.9,182.4 L648.1,175 A425,425 0 0 1 667.5,177.8 L666,185.2 663.8,192.8 661.1,200.3 657.7,207.9 653.8,215.4 649.3,222.9 644.3,230.3 638.9,237.6 632.9,244.8 626.5,252 619.6,258.9 612.3,265.8 604.6,272.4 596.6,278.9 588.1,285.2 579.4,291.2 570.4,297.1 561.1,302.7 551.5,308.1 541.7,313.1 531.6,318 521.4,322.5 511,326.7 500.5,330.6 489.9,334.3 479.1,337.5 468.3,340.5 457.5,343.1 446.6,345.4 435.8,347.3 424.9,348.9 414.2,350.1 403.5,350.9 392.9,351.3 382.5,351.4 372.2,351.1 362.1,350.4 352.3,349.4 342.7,347.9 333.3,346.1 324.3,343.9 315.5,341.3 307.2,338.3 299.2,334.9 291.6,331.2 284.5,327 277.8,322.5Z" fill="#e46c29" fill-opacity="0.83" stroke="#663012" stroke-opacity="0.9"/>
<path d="M485.8,1012.6 A430.5,430.5 0 0 1 466.4,1006.8 L469.8,997.4 474,988 478.9,978.6 484.6,969.1 490.9,959.6 497.8,950 505.4,940.5 513.6,930.9 522.4,921.4 531.6,911.8 541.4,902.3 551.7,892.9 562.5,883.5 573.6,874.2 585.2,865 597.1,855.9 609.4,846.8 621.9,837.9 634.8,829.2 647.9,820.6 661.3,812.1 674.8,803.9 688.5,795.8 702.4,787.9 716.4,780.3 730.5,772.9 744.7,765.8 758.9,758.9 773.1,752.3 787.3,746 801.4,740 815.5,734.4 829.5,729.1 843.4,724.1 857.1,719.6 870.6,715.4 884,711.7 897.1,708.4 910,705.6 922.6,703.2 934.9,701.3 946.9,699.9 958.5,699.1 969.8,698.8 980.6,699 991.1,699.9 1001,701.3 L1010.5,703.4 A425,425 0 0 1 1005.2,722.3 L996.1,719.9 986.6,718.1 976.6,716.9 966.2,716.3 955.4,716.2 944.2,716.7 932.7,717.6 920.8,719.1 908.6,721.1 896.2,723.5 883.5,726.4 870.6,729.8 857.5,733.5 844.2,737.7 830.8,742.2 817.3,747.1 803.7,752.4 790,758 776.3,764 762.6,770.3 748.9,776.8 735.2,783.7 721.7,790.8 708.2,798.1 694.8,805.7 681.6,813.5 668.6,821.5 655.8,829.7 643.3,838.1 631,846.7 619,855.4 607.3,864.2 595.9,873.2 584.9,882.2 574.4,891.4 564.2,900.6 554.5,909.9 545.3,919.2 536.6,928.6 528.5,938 520.9,947.4 513.9,956.8 507.5,966.2 501.7,975.6 496.7,984.9 492.3,994.2 488.7,1003.4Z" fill="#29e444" fill-opacity="0.83" stroke="#12661e" stroke-opacity="0.9"/>
<path d="M215.3,792.5 A430.5,430.5 0 0 1 205.8,772.4 L219,766.3 232.3,759.7 245.8,752.6 259.3,745.1 273,737.2 286.8,728.9 300.7,720.2 314.8,711.2 328.9,701.9 343.1,692.3 357.4,682.4 371.9,672.3 386.4,661.9 400.9,651.3 415.6,640.5 430.3,629.6 445.1,618.5 459.9,607.2 474.7,595.8 489.6,584.4 504.4,572.8 519.3,561.1 534.2,549.4 549,537.6 563.8,525.7 578.5,513.8 593.2,501.9 607.8,490 622.3,478.1 636.7,466.2 650.9,454.2 665,442.3 678.9,430.4 692.6,418.6 706.2,406.8 719.4,395 732.5,383.2 745.3,371.5 757.7,359.8 769.9,348.1 781.7,336.5 793.2,325 804.2,313.4 814.9,302 825.1,290.5 834.8,279.1 844.1,267.7 L852.8,256.3 A425,425 0 0 1 870,269.9 L860.4,281.2 850.4,292.5 839.9,303.9 828.9,315.3 817.7,326.7 806,338.1 794,349.5 781.7,361 769.1,372.6 756.2,384.1 743.1,395.8 729.8,407.4 716.2,419.1 702.5,430.8 688.5,442.6 674.5,454.3 660.2,466.1 645.9,478 631.4,489.8 616.9,501.7 602.3,513.5 587.6,525.4 572.8,537.2 558.1,549 543.3,560.8 528.5,572.6 513.6,584.3 498.8,595.9 484.1,607.5 469.3,619 454.6,630.3 439.9,641.6 425.3,652.8 410.7,663.8 396.2,674.6 381.8,685.3 367.4,695.7 353.1,706 338.9,716 324.8,725.8 310.8,735.3 296.9,744.5 283.1,753.4 269.3,762 255.7,770.2 242.1,778.1 228.7,785.5Z" fill="#51e429" fill-opacity="0.83" stroke="#246612" stroke-opacity="0.9"/>
<path d="M507.9,1018 A430.5,430.5 0 0 1 485.8,1012.6 L488.4,1004.5 491.7,996.3 495.6,988.2 500.2,980.1 505.4,972.1 511.2,964.1 517.5,956.1 524.4,948.3 531.9,940.5 539.8,932.8 548.2,925.3 557.1,917.9 566.4,910.7 576.1,903.6 586.1,896.7 596.5,890 607.2,883.5 618.2,877.3 629.5,871.2 641,865.4 652.7,859.8 664.6,854.5 676.7,849.5 688.9,844.7 701.2,840.3 713.6,836.1 726,832.3 738.5,828.8 751,825.6 763.4,822.7 775.8,820.2 788,818.1 800.2,816.3 812.2,814.9 824.1,813.8 835.7,813.2 847.2,812.9 858.3,813 869.2,813.6 879.8,814.5 890,815.9 899.9,817.6 909.4,819.8 918.4,822.5 927,825.5 935.1,829 942.6,833 L949.6,837.4 A425,425 0 0 1 936.6,855.4 L930.1,850.8 923,846.7 915.5,842.9 907.5,839.6 899.1,836.7 890.2,834.2 881,832.1 871.4,830.4 861.5,829.1 851.3,828.2 840.8,827.7 830.1,827.5 819.1,827.8 808,828.5 796.7,829.5 785.3,830.9 773.8,832.7 762.3,834.8 750.6,837.3 739,840.2 727.4,843.3 715.8,846.9 704.2,850.7 692.8,854.8 681.4,859.3 670.2,864 659.1,869 648.3,874.4 637.6,879.9 627.2,885.7 617.1,891.8 607.2,898.1 597.6,904.6 588.4,911.3 579.6,918.2 571.1,925.2 563,932.5 555.4,939.8 548.2,947.3 541.5,955 535.3,962.7 529.7,970.5 524.5,978.3 520,986.2 516,994.2 512.7,1002.1 510,1010Z" fill="#29e444" fill-opacity="0.83" stroke="#12661e" stroke-opacity="0.9"/>
<path d="M257.2,335.5 A430.5,430.5 0 0 1 271.6,317.7 L278.6,323.2 286.3,328.4 294.6,333.2 303.4,337.6 312.8,341.6 322.7,345.3 333,348.6 343.8,351.6 355.1,354.2 366.7,356.4 378.7,358.3 391,359.9 403.6,361.1 416.5,361.9 429.7,362.5 443,362.7 456.5,362.5 470.2,362.1 484,361.3 497.9,360.3 511.9,358.9 525.9,357.2 539.9,355.2 553.9,352.9 567.8,350.3 581.7,347.5 595.4,344.4 609,341 622.4,337.3 635.7,333.4 648.7,329.2 661.4,324.8 673.8,320.1 685.9,315.2 697.7,310.1 709.1,304.7 720.1,299.2 730.7,293.4 740.7,287.4 750.3,281.3 759.4,274.9 767.9,268.4 775.8,261.7 783.1,254.8 789.8,247.8 795.8,240.6 801.1,233.3 L805.6,225.8 A425,425 0 0 1 825,237.3 L819.9,244.8 814,252.2 807.4,259.4 800,266.4 792.1,273.3 783.5,280 774.3,286.6 764.5,292.9 754.2,299 743.4,305 732.1,310.8 720.4,316.3 708.2,321.7 695.7,326.8 682.8,331.7 669.6,336.4 656.1,340.9 642.4,345.1 628.4,349.1 614.2,352.8 599.8,356.3 585.3,359.5 570.7,362.5 556,365.2 541.3,367.7 526.5,369.8 511.7,371.7 497,373.3 482.4,374.5 467.8,375.5 453.4,376.2 439.1,376.6 425.1,376.6 411.2,376.4 397.6,375.8 384.3,374.8 371.3,373.6 358.6,371.9 346.3,370 334.4,367.7 323,365 311.9,361.9 301.4,358.5 291.4,354.7 281.9,350.5 273.1,345.9 264.8,340.9Z" fill="#e46c29" fill-opacity="0.83" stroke="#663012" stroke-opacity="0.9"/>
<path d="M214.3,404.1 A430.5,430.5 0 0 1 225.3,383.5 L239,391.5 252.8,399.8 266.6,408.4 280.5,417.3 294.5,426.5 308.6,435.9 322.7,445.5 336.9,455.3 351.2,465.4 365.6,475.6 380,485.9 394.5,496.4 409.1,507.1 423.7,517.8 438.4,528.7 453.1,539.6 467.9,550.6 482.8,561.7 497.7,572.8 512.6,584 527.6,595.2 542.5,606.5 557.5,617.7 572.5,629 587.5,640.3 602.5,651.6 617.5,662.8 632.4,674.1 647.3,685.3 662.1,696.5 676.9,707.7 691.6,718.8 706.2,729.9 720.7,741 735,752.1 749.3,763.1 763.4,774.1 777.3,785 791,795.9 804.6,806.8 817.9,817.7 831,828.5 843.9,839.4 856.5,850.2 868.8,861 880.8,871.8 892.5,882.6 L903.8,893.4 A425,425 0 0 1 887.4,909.4 L877,898.4 866.2,887.4 855,876.4 843.4,865.5 831.5,854.5 819.3,843.5 806.7,832.4 793.8,821.4 780.7,810.3 767.3,799.2 753.7,788.1 739.9,776.9 725.9,765.7 711.7,754.5 697.3,743.2 682.8,731.9 668.2,720.6 653.5,709.3 638.7,697.9 623.8,686.6 608.8,675.2 593.8,663.8 578.7,652.5 563.6,641.1 548.5,629.8 533.4,618.5 518.3,607.2 503.2,596 488.1,584.9 473,573.8 458,562.8 443.1,551.9 428.2,541.1 413.3,530.5 398.6,520 383.9,509.6 369.2,499.4 354.7,489.4 340.2,479.6 325.9,470.1 311.6,460.7 297.4,451.7 283.3,442.9 269.3,434.4 255.4,426.3 241.6,418.5 227.9,411.1Z" fill="#e46c29" fill-opacity="0.83" stroke="#663012" stroke-opacity="0.9"/>
<path d="M169,617.3 A430.5,430.5 0 0 1 168.5,593.7 L179,593.4 189.9,592.4 201,590.8 212.5,588.5 224.2,585.5 236.2,582 248.4,577.9 260.8,573.3 273.5,568.1 286.3,562.4 299.3,556.3 312.4,549.7 325.7,542.6 339,535.2 352.5,527.4 366,519.2 379.5,510.6 393,501.8 406.6,492.6 420.1,483.2 433.5,473.5 446.9,463.6 460.2,453.4 473.3,443.1 486.4,432.6 499.2,421.9 511.9,411.1 524.3,400.1 536.5,389.1 548.4,377.9 560,366.7 571.3,355.5 582.3,344.2 592.9,332.9 603.1,321.6 612.8,310.3 622.2,299.1 631,287.8 639.3,276.7 647.1,265.6 654.3,254.6 661,243.7 667,233 672.4,222.3 677.1,211.8 681.1,201.5 684.3,191.3 L686.8,181.4 A425,425 0 0 1 709.9,186.9 L706.8,197.2 702.9,207.7 698.2,218.3 692.8,229 686.8,239.9 680.1,250.9 672.9,262 665,273.2 656.6,284.5 647.6,295.9 638.2,307.3 628.3,318.8 617.9,330.3 607.2,341.8 596,353.3 584.5,364.8 572.7,376.3 560.6,387.8 548.1,399.2 535.5,410.5 522.6,421.7 509.5,432.8 496.2,443.8 482.7,454.7 469.1,465.3 455.5,475.9 441.7,486.2 427.8,496.2 414,506.1 400,515.7 386.1,524.9 372.3,533.9 358.4,542.6 344.6,550.9 331,558.9 317.4,566.4 303.9,573.5 290.6,580.2 277.4,586.4 264.4,592.2 251.6,597.4 239,602.1 226.7,606.2 214.6,609.7 202.7,612.6 191.2,614.8 179.9,616.4Z" fill="#94e429" fill-opacity="0.83" stroke="#426612" stroke-opacity="0.9"/>
<path d="M406.5,212.1 A430.5,430.5 0 0 1 430.6,201 L434.7,209.9 439.7,218.8 445.4,227.7 451.8,236.5 458.9,245.4 466.6,254.1 475,262.9 483.9,271.5 493.4,280.1 503.5,288.6 514,297.1 525.1,305.4 536.5,313.6 548.4,321.7 560.7,329.7 573.3,337.5 586.3,345.2 599.6,352.8 613.1,360.2 626.9,367.4 640.9,374.4 655,381.2 669.4,387.7 683.8,394.1 698.4,400.2 713,406.1 727.7,411.7 742.4,417 757,422.1 771.7,426.8 786.2,431.3 800.7,435.4 815,439.2 829.2,442.6 843.2,445.6 856.9,448.3 870.5,450.6 883.8,452.4 896.7,453.8 909.4,454.8 921.7,455.4 933.7,455.4 945.2,455 956.3,454.1 966.9,452.6 977.1,450.7 986.7,448.1 L995.8,445 A425,425 0 0 1 1004.4,469.6 L994.7,472.3 984.4,474.4 973.6,475.9 962.3,476.9 950.6,477.4 938.5,477.3 925.9,476.8 913,475.8 899.8,474.3 886.2,472.4 872.3,470.1 858.2,467.3 843.8,464.2 829.2,460.7 814.4,456.9 799.5,452.7 784.4,448.2 769.3,443.4 754,438.2 738.7,432.8 723.4,427.1 708.1,421.2 692.8,415 677.6,408.6 662.4,402 647.4,395.2 632.6,388.1 617.9,380.9 603.4,373.5 589.2,366 575.2,358.3 561.5,350.4 548.1,342.5 535.1,334.3 522.5,326.1 510.3,317.8 498.5,309.4 487.2,300.9 476.3,292.3 466.1,283.6 456.3,274.8 447.2,266 438.7,257.1 430.8,248.2 423.7,239.3 417.2,230.2 411.5,221.2Z" fill="#e42929" fill-opacity="0.83" stroke="#661212" stroke-opacity="0.9"/>
<path d="M228.7,816.7 A430.5,430.5 0 0 1 215.3,792.5 L230.4,784.8 245.4,776.9 260.5,768.9 275.7,760.8 290.9,752.5 306.1,744.2 321.4,735.8 336.7,727.3 352.1,718.7 367.5,710.1 383,701.4 398.6,692.7 414.2,683.9 429.9,675.1 445.6,666.3 461.4,657.5 477.2,648.7 493.1,639.9 509.1,631.1 525.1,622.3 541.1,613.5 557.2,604.7 573.3,596 589.5,587.3 605.7,578.6 621.9,569.9 638.1,561.3 654.3,552.7 670.6,544.2 686.8,535.7 703.1,527.2 719.3,518.8 735.5,510.4 751.6,502 767.7,493.7 783.8,485.4 799.8,477.2 815.7,468.9 831.6,460.7 847.3,452.5 863,444.4 878.5,436.2 893.9,428.1 909.2,419.9 924.3,411.8 939.2,403.6 954,395.5 L968.5,387.3 A425,425 0 0 1 981,410.9 L966.2,418.2 951.3,425.7 936.3,433.4 921.2,441.3 906,449.3 890.8,457.5 875.4,465.8 860,474.2 844.5,482.7 829,491.2 813.3,499.9 797.6,508.6 781.9,517.4 766,526.1 750.1,535 734.2,543.8 718.2,552.7 702.1,561.6 686,570.4 669.9,579.3 653.8,588.1 637.6,596.9 621.4,605.7 605.1,614.5 588.9,623.3 572.6,632 556.4,640.6 540.2,649.3 523.9,657.8 507.7,666.4 491.6,674.9 475.4,683.4 459.3,691.8 443.3,700.2 427.3,708.6 411.4,716.9 395.5,725.2 379.8,733.5 364.1,741.8 348.5,750.1 333.1,758.3 317.7,766.6 302.5,774.9 287.4,783.1 272.5,791.5 257.7,799.8 243.1,808.2Z" fill="#51e429" fill-opacity="0.83" stroke="#246612" stroke-opacity="0.9"/>
<path d="M205.8,772.4 A430.5,430.5 0 0 1 195.1,746.3 L206.6,741.7 218.3,736.4 230.1,730.5 242,723.9 254,716.7 266.1,709 278.4,700.7 290.7,691.9 303.2,682.7 315.7,672.9 328.3,662.8 341,652.2 353.7,641.3 366.5,630 379.3,618.4 392.1,606.5 404.9,594.3 417.8,581.8 430.6,569.2 443.4,556.3 456.1,543.2 468.8,530 481.4,516.7 493.9,503.2 506.2,489.6 518.5,475.9 530.6,462.2 542.5,448.4 554.3,434.6 565.8,420.8 577.1,407 588.1,393.2 598.9,379.5 609.4,365.8 619.5,352.2 629.3,338.7 638.7,325.2 647.8,311.9 656.4,298.7 664.5,285.6 672.2,272.6 679.3,259.9 685.9,247.2 692,234.8 697.4,222.5 702.3,210.5 706.4,198.6 L709.9,186.9 A425,425 0 0 1 737.1,195.3 L732.7,207.3 727.6,219.5 721.9,231.8 715.6,244.3 708.7,257 701.3,269.9 693.5,282.8 685.1,296 676.3,309.2 667.1,322.6 657.5,336.1 647.5,349.6 637.2,363.3 626.6,377 615.7,390.9 604.5,404.7 593.1,418.6 581.4,432.6 569.6,446.5 557.5,460.5 545.3,474.4 532.9,488.3 520.4,502.2 507.8,516 495.2,529.7 482.4,543.3 469.6,556.7 456.7,570.1 443.8,583.3 430.8,596.3 417.9,609.1 404.9,621.6 392,634 379.1,646 366.3,657.8 353.5,669.3 340.7,680.4 328,691.1 315.4,701.5 302.8,711.4 290.4,720.9 278,729.9 265.7,738.4 253.5,746.4 241.4,753.8 229.4,760.6 217.6,766.9Z" fill="#51e429" fill-opacity="0.83" stroke="#246612" stroke-opacity="0.9"/>
<path d="M244.8,841.9 A430.5,430.5 0 0 1 228.7,816.7 L242.1,808.9 256,801.2 270.2,793.6 284.6,786.1 299.4,778.6 314.5,771.3 329.8,764 345.4,756.8 361.2,749.6 377.2,742.4 393.4,735.3 409.8,728.1 426.4,721 443.1,714 459.9,706.9 476.9,699.8 494,692.7 511.1,685.7 528.4,678.6 545.7,671.5 563.1,664.5 580.5,657.4 598,650.4 615.4,643.3 632.9,636.3 650.4,629.3 667.8,622.3 685.2,615.4 702.6,608.5 719.9,601.6 737.2,594.8 754.4,588.1 771.5,581.4 788.6,574.9 805.5,568.4 822.3,562.1 839,555.9 855.6,549.8 872,543.9 888.4,538.2 904.5,532.6 920.5,527.3 936.4,522.2 952,517.4 967.6,512.8 982.9,508.5 998,504.5 L1012.9,500.9 A425,425 0 0 1 1018.6,529.9 L1004.2,532.4 989.5,535.3 974.5,538.6 959.4,542.3 944,546.3 928.3,550.7 912.5,555.3 896.5,560.2 880.3,565.3 863.9,570.7 847.4,576.3 830.7,582 813.9,588 796.9,594.1 779.8,600.4 762.6,606.8 745.4,613.3 728,620 710.5,626.7 693.1,633.5 675.5,640.4 658,647.3 640.4,654.3 622.8,661.4 605.3,668.5 587.7,675.6 570.3,682.8 552.8,690 535.5,697.2 518.3,704.5 501.1,711.8 484.1,719.1 467.3,726.4 450.6,733.7 434.1,741.1 417.8,748.5 401.7,755.9 385.8,763.4 370.2,770.9 354.9,778.5 339.9,786.1 325.2,793.8 310.8,801.6 296.8,809.4 283.2,817.4 270,825.4 257.2,833.6Z" fill="#51e429" fill-opacity="0.83" stroke="#246612" stroke-opacity="0.9"/>
<path d="M321.4,268.1 A430.5,430.5 0 0 1 345.9,248.9 L355.4,261.7 365.2,274.6 375.3,287.4 385.6,300.3 396.2,313.3 407.1,326.3 418.2,339.3 429.5,352.4 441,365.5 452.7,378.7 464.5,392 476.5,405.3 488.6,418.7 500.9,432.1 513.2,445.5 525.6,459 538.1,472.6 550.7,486.2 563.3,499.8 576,513.5 588.7,527.2 601.5,540.9 614.2,554.6 627,568.3 639.8,582.1 652.5,595.8 665.3,609.5 678,623.1 690.7,636.8 703.4,650.3 716.1,663.9 728.7,677.3 741.2,690.7 753.8,703.9 766.2,717.1 778.7,730.1 791.1,743 803.4,755.8 815.7,768.3 827.9,780.7 840.1,792.9 852.2,804.8 864.3,816.5 876.4,828 888.4,839.1 900.4,850 912.4,860.5 L924.3,870.7 A425,425 0 0 1 903.8,893.4 L892.1,881.9 880.3,870.1 868.5,858.2 856.7,846 844.9,833.7 833.1,821.2 821.2,808.5 809.2,795.7 797.2,782.7 785.2,769.7 773.1,756.5 761,743.3 748.8,730 736.6,716.6 724.4,703.2 712.1,689.7 699.7,676.2 687.3,662.6 674.9,649.1 662.4,635.5 649.9,621.9 637.4,608.4 624.8,594.8 612.2,581.3 599.6,567.8 587,554.3 574.4,540.8 561.8,527.4 549.1,514 536.5,500.7 523.9,487.4 511.3,474.2 498.8,461 486.3,447.8 473.9,434.7 461.5,421.7 449.1,408.7 436.9,395.7 424.8,382.8 412.7,370 400.8,357.1 389,344.3 377.3,331.6 365.8,318.9 354.4,306.2 343.2,293.5 332.2,280.8Z" fill="#e42929" fill-opacity="0.83" stroke="#661212" stroke-opacity="0.9"/>
<path d="M297.3,290.1 A430.5,430.5 0 0 1 321.4,268.1 L331.5,280.3 341.5,292.8 351.5,305.6 361.4,318.7 371.3,332.1 381.2,345.7 391.1,359.6 401,373.8 410.9,388.1 420.7,402.7 430.6,417.4 440.5,432.3 450.5,447.3 460.4,462.5 470.4,477.8 480.4,493.3 490.4,508.8 500.4,524.4 510.4,540.1 520.5,555.8 530.6,571.6 540.6,587.4 550.7,603.2 560.8,619.1 570.9,634.9 580.9,650.8 591,666.6 601,682.4 610.9,698.2 620.9,714 630.7,729.7 640.5,745.3 650.2,760.9 659.9,776.4 669.4,791.8 678.8,807.2 688,822.4 697.1,837.6 706.1,852.7 714.9,867.6 723.4,882.5 731.8,897.3 739.9,911.9 747.7,926.5 755.3,940.9 762.6,955.2 769.5,969.4 L776.1,983.5 A425,425 0 0 1 746.1,995.9 L740.8,982.1 735,968.2 728.9,954 722.4,939.8 715.5,925.3 708.3,910.7 700.7,896 692.9,881.1 684.8,866.2 676.4,851 667.9,835.8 659.1,820.4 650.1,805 640.9,789.4 631.6,773.8 622.1,758 612.5,742.3 602.8,726.4 593,710.5 583.1,694.5 573.1,678.6 563.1,662.6 553,646.6 542.9,630.6 532.7,614.6 522.5,598.7 512.3,582.8 502,567 491.8,551.3 481.5,535.6 471.3,520.1 461.1,504.7 450.8,489.4 440.6,474.3 430.4,459.4 420.1,444.6 409.9,430.1 399.7,415.8 389.6,401.8 379.4,388 369.2,374.5 359,361.4 348.8,348.5 338.5,336 328.3,323.9 318,312.2 307.6,301Z" fill="#e42929" fill-opacity="0.83" stroke="#661212" stroke-opacity="0.9"/>
<path d="M345.9,248.9 A430.5,430.5 0 0 1 374.9,229.6 L382.2,241.2 390.2,252.8 398.7,264.5 407.8,276.2 417.3,287.9 427.4,299.7 437.9,311.6 448.8,323.5 460.1,335.4 471.8,347.4 483.9,359.4 496.2,371.5 508.9,383.6 521.9,395.7 535.1,407.9 548.5,420 562.2,432.2 576.1,444.4 590.1,456.5 604.3,468.7 618.6,480.8 633,492.9 647.5,504.9 662.1,516.9 676.7,528.8 691.4,540.6 706.1,552.3 720.9,563.9 735.6,575.3 750.3,586.6 765,597.8 779.6,608.7 794.2,619.4 808.7,629.9 823.2,640.1 837.5,650.1 851.7,659.8 865.9,669.1 879.9,678.1 893.8,686.8 907.5,695.1 921.1,702.9 934.6,710.3 947.9,717.2 961,723.7 974,729.6 986.8,734.9 L999.4,739.7 A425,425 0 0 1 986.7,771.3 L973.7,765.3 960.6,758.7 947.4,751.7 934.1,744.2 920.6,736.3 907,728 893.3,719.3 879.4,710.2 865.5,700.8 851.4,691.1 837.3,681.2 823,671 808.6,660.5 794.2,649.8 779.7,638.9 765.1,627.9 750.5,616.6 735.8,605.3 721.1,593.7 706.4,582.1 691.7,570.4 676.9,558.6 662.2,546.7 647.5,534.7 632.8,522.7 618.2,510.7 603.6,498.6 589.1,486.6 574.8,474.5 560.5,462.4 546.4,450.3 532.4,438.2 518.6,426.1 505,414.1 491.6,402.1 478.4,390.1 465.5,378.1 452.8,366.2 440.4,354.4 428.4,342.5 416.6,330.7 405.3,318.9 394.3,307.2 383.7,295.5 373.5,283.8 363.8,272.2 354.6,260.6Z" fill="#e42929" fill-opacity="0.83" stroke="#661212" stroke-opacity="0.9"/>
<path d="M374.9,229.6 A430.5,430.5 0 0 1 406.5,212.1 L412,222.3 418.2,232.5 425.1,242.7 432.7,252.9 441,263.1 449.9,273.4 459.4,283.7 469.5,293.9 480,304.2 491.1,314.5 502.7,324.7 514.7,334.9 527.2,345.2 540,355.3 553.1,365.5 566.7,375.5 580.5,385.5 594.6,395.5 608.9,405.3 623.5,415.1 638.2,424.8 653.1,434.3 668.2,443.7 683.4,452.9 698.7,462 714.1,471 729.5,479.7 744.9,488.2 760.3,496.5 775.7,504.5 791.1,512.3 806.3,519.8 821.5,527 836.6,533.8 851.5,540.4 866.3,546.6 880.9,552.3 895.3,557.7 909.5,562.7 923.4,567.2 937,571.2 950.4,574.8 963.5,577.8 976.3,580.3 988.7,582.1 1000.8,583.4 1012.5,584.1 L1023.8,584.1 A425,425 0 0 1 1023.4,619.2 L1011.4,618.3 999,616.7 986.3,614.5 973.2,611.7 959.9,608.4 946.2,604.6 932.3,600.2 918.1,595.4 903.7,590.2 889.1,584.5 874.3,578.4 859.2,572 844,565.2 828.7,558.1 813.2,550.6 797.6,542.9 781.9,534.9 766.2,526.7 750.3,518.2 734.5,509.5 718.6,500.7 702.8,491.6 687,482.4 671.2,473 655.5,463.5 640,453.9 624.5,444.2 609.2,434.3 594.1,424.4 579.1,414.4 564.4,404.4 550,394.3 535.8,384.1 521.9,373.9 508.3,363.7 495.1,353.4 482.3,343.2 469.9,332.9 457.9,322.6 446.4,312.2 435.4,301.9 425,291.6 415.1,281.3 405.7,271 397,260.6 388.9,250.3 381.6,240Z" fill="#e42929" fill-opacity="0.83" stroke="#661212" stroke-opacity="0.9"/>
<path d="M186,718.6 A430.5,430.5 0 0 1 177.3,683.6 L188.9,681.6 201.1,680.1 213.7,679.1 226.7,678.7 240.2,678.7 254,679.2 268.3,680.1 282.9,681.5 297.8,683.3 313.1,685.4 328.6,687.9 344.4,690.7 360.4,693.9 376.7,697.4 393.2,701.2 409.8,705.2 426.5,709.5 443.4,714.1 460.4,718.8 477.5,723.8 494.6,729.1 511.7,734.5 528.8,740.1 545.9,745.8 562.9,751.8 579.8,757.8 596.7,764.1 613.3,770.5 629.8,777 646.2,783.6 662.3,790.4 678.1,797.2 693.7,804.2 708.9,811.3 723.8,818.5 738.4,825.9 752.5,833.3 766.2,840.8 779.5,848.4 792.3,856.1 804.5,864 816.2,871.9 827.4,879.9 837.9,888.1 847.7,896.4 856.9,904.8 865.4,913.3 L873.2,921.9 A425,425 0 0 1 845.1,943.7 L838.5,935.1 831.2,926.5 823.1,918.1 814.3,909.8 804.8,901.6 794.7,893.5 784,885.4 772.7,877.5 760.9,869.7 748.5,862.1 735.6,854.5 722.3,847 708.6,839.7 694.5,832.4 680,825.3 665.2,818.3 650.1,811.5 634.7,804.8 619.1,798.2 603.3,791.8 587.2,785.5 571.1,779.4 554.8,773.5 538.4,767.8 521.9,762.3 505.4,756.9 488.9,751.8 472.3,747 455.9,742.3 439.5,737.9 423.2,733.8 407,729.9 391,726.4 375.1,723.1 359.4,720.1 344,717.5 328.8,715.3 314,713.4 299.4,711.9 285.1,710.8 271.2,710.1 257.7,709.8 244.6,710 231.9,710.7 219.7,711.9 207.9,713.6 196.7,715.8Z" fill="#94e429" fill-opacity="0.83" stroke="#426612" stroke-opacity="0.9"/>
<path d="M466.4,1006.8 A430.5,430.5 0 0 1 432.3,994.1 L437.3,983.1 443,972 449.4,960.8 456.4,949.5 464.1,938.1 472.4,926.6 481.2,915.1 490.5,903.5 500.4,891.8 510.7,880.1 521.5,868.3 532.7,856.5 544.3,844.6 556.2,832.8 568.5,820.9 581.2,809.1 594,797.2 607.2,785.4 620.6,773.6 634.2,761.9 648,750.3 662,738.7 676.1,727.2 690.3,715.8 704.6,704.6 719.1,693.5 733.5,682.6 748,671.9 762.6,661.4 777.1,651 791.6,641 806,631.2 820.4,621.7 834.8,612.5 849,603.6 863.1,595.1 877.1,586.9 891,579.2 904.7,571.9 918.2,565 931.6,558.7 944.7,552.8 957.6,547.5 970.3,542.7 982.8,538.5 995,535 1007,532.1 L1018.6,529.9 A425,425 0 0 1 1022.8,565.4 L1011.8,566.6 1000.4,568.5 988.8,571 976.8,574.2 964.6,578.1 952.1,582.5 939.4,587.5 926.5,593 913.4,599 900.1,605.6 886.6,612.5 873,619.9 859.3,627.8 845.4,636 831.4,644.5 817.4,653.5 803.3,662.7 789.2,672.2 775.1,682 761,692 746.9,702.3 732.8,712.8 718.9,723.5 705,734.3 691.3,745.4 677.7,756.5 664.2,767.8 651,779.2 637.9,790.6 625.2,802.2 612.6,813.7 600.4,825.4 588.5,837 576.9,848.7 565.7,860.4 554.9,872 544.5,883.6 534.6,895.2 525.1,906.8 516.2,918.3 507.8,929.7 499.9,941 492.7,952.2 486.1,963.4 480.1,974.4 474.8,985.3 470.2,996.1Z" fill="#29e444" fill-opacity="0.83" stroke="#12661e" stroke-opacity="0.9"/>
<path d="M368.8,961 A430.5,430.5 0 0 1 338.3,939.8 L343.1,933.9 348.4,928.3 354.2,922.9 360.5,917.9 367.2,913.1 374.3,908.6 381.8,904.4 389.7,900.6 397.9,897 406.4,893.8 415.1,890.9 424.1,888.4 433.4,886.2 442.8,884.3 452.4,882.8 462.2,881.6 472.1,880.8 482.1,880.4 492.2,880.3 502.3,880.6 512.5,881.2 522.7,882.1 532.8,883.5 542.9,885.1 552.9,887.1 562.9,889.5 572.7,892.1 582.4,895.1 592,898.4 601.3,902 610.5,906 619.4,910.2 628.1,914.6 636.4,919.4 644.5,924.4 652.3,929.7 659.7,935.2 666.8,940.9 673.5,946.8 679.8,952.9 685.6,959.2 691,965.7 696,972.3 700.4,979 704.3,985.8 707.7,992.7 710.5,999.7 L712.8,1006.7 A425,425 0 0 1 676.7,1015 L675.2,1008.2 673.2,1001.5 670.7,994.7 667.8,988.1 664.4,981.5 660.6,975.1 656.4,968.7 651.8,962.6 646.9,956.6 641.6,950.8 635.9,945.3 630,939.9 623.7,934.8 617.2,930 610.4,925.4 603.3,921.1 596,917.1 588.6,913.4 580.9,910 573.1,907 565.1,904.3 557,901.9 548.7,899.9 540.4,898.2 532,896.9 523.6,895.9 515.1,895.3 506.7,895.1 498.2,895.2 489.8,895.7 481.4,896.6 473.1,897.8 464.9,899.3 456.9,901.3 448.9,903.5 441.2,906.2 433.6,909.1 426.2,912.4 419,916 412.1,919.9 405.5,924.1 399.2,928.6 393.2,933.4 387.5,938.5 382.2,943.7 377.3,949.3 372.8,955Z" fill="#51e429" fill-opacity="0.83" stroke="#246612" stroke-opacity="0.9"/>
<path d="M301,907.8 A430.5,430.5 0 0 1 274.6,880.2 L283.2,873.2 292.5,866.4 302.5,859.9 313.2,853.7 324.4,847.7 336.3,842 348.7,836.6 361.6,831.3 375.1,826.3 389,821.6 403.3,817 418.1,812.7 433.2,808.5 448.7,804.6 464.5,800.9 480.6,797.3 496.9,794 513.5,790.9 530.2,787.9 547.2,785.2 564.2,782.6 581.4,780.3 598.7,778.1 616,776.2 633.3,774.4 650.6,772.9 667.9,771.6 685.1,770.5 702.2,769.6 719.2,768.9 736,768.5 752.6,768.3 769.1,768.3 785.2,768.6 801.1,769.2 816.7,770.1 832,771.2 846.9,772.6 861.4,774.3 875.4,776.4 889.1,778.7 902.2,781.4 914.9,784.5 927,787.9 938.5,791.7 949.4,795.9 959.8,800.5 L969.4,805.5 A425,425 0 0 1 949.6,837.4 L941.1,832 931.8,826.9 921.9,822.3 911.4,818.1 900.3,814.2 888.7,810.7 876.5,807.5 863.9,804.7 850.7,802.3 837.2,800.1 823.2,798.3 808.8,796.7 794.1,795.5 779.1,794.5 763.9,793.9 748.3,793.5 732.6,793.4 716.6,793.6 700.5,794 684.2,794.7 667.9,795.6 651.5,796.8 635,798.2 618.6,799.8 602.1,801.7 585.8,803.8 569.5,806.2 553.3,808.8 537.2,811.6 521.4,814.6 505.7,817.8 490.3,821.3 475.1,825 460.3,828.9 445.7,833.1 431.6,837.4 417.8,842 404.5,846.8 391.6,851.8 379.1,857.1 367.2,862.6 355.9,868.3 345.1,874.3 334.9,880.5 325.4,887 316.5,893.7 308.4,900.6Z" fill="#51e429" fill-opacity="0.83" stroke="#246612" stroke-opacity="0.9"/>
<path d="M491.5,180.3 A430.5,430.5 0 0 1 532.4,171.9 L533.7,178.6 535.3,185.3 537.3,192 539.6,198.6 542.3,205 545.3,211.3 548.6,217.5 552.2,223.5 556.1,229.3 560.3,234.8 564.7,240.2 569.4,245.2 574.3,250.1 579.4,254.6 584.7,258.8 590.2,262.7 595.9,266.3 601.7,269.6 607.7,272.5 613.8,275.1 619.9,277.3 626.2,279.2 632.6,280.7 639,281.8 645.5,282.6 652,283 658.6,283 665.1,282.6 671.6,281.9 678.1,280.8 684.5,279.3 690.9,277.4 697.1,275.3 703.3,272.7 709.3,269.9 715.2,266.6 721,263.1 726.6,259.3 731.9,255.2 737.1,250.8 742.1,246.1 746.8,241.2 751.2,236.1 755.4,230.7 759.2,225.2 762.7,219.4 765.9,213.6 L768.7,207.6 A425,425 0 0 1 805.6,225.8 L802,231.8 797.9,237.6 793.4,243.2 788.5,248.6 783.1,253.8 777.5,258.7 771.4,263.4 765,267.8 758.4,271.9 751.4,275.7 744.2,279.2 736.8,282.4 729.2,285.3 721.3,287.8 713.3,290 705.2,291.8 696.9,293.3 688.5,294.5 680.1,295.3 671.5,295.7 663,295.8 654.4,295.5 645.9,294.8 637.3,293.8 628.8,292.4 620.4,290.7 612,288.6 603.8,286.2 595.7,283.4 587.7,280.3 579.9,276.8 572.3,273.1 564.9,269 557.7,264.7 550.8,260 544.1,255.1 537.7,249.9 531.6,244.5 525.9,238.8 520.4,232.9 515.4,226.9 510.7,220.6 506.4,214.2 502.5,207.6 499.1,200.9 496.1,194.1 493.6,187.3Z" fill="#e42929" fill-opacity="0.83" stroke="#661212" stroke-opacity="0.9"/>
<path d="M274.6,880.2 A430.5,430.5 0 0 1 244.8,841.9 L256,834.5 267.7,827.4 280.1,820.4 292.9,813.7 306.3,807.1 320.1,800.7 334.4,794.4 349.1,788.3 364.2,782.4 379.7,776.6 395.6,770.9 411.8,765.3 428.3,759.8 445,754.4 462.1,749.2 479.3,744 496.8,738.9 514.5,733.9 532.3,729 550.2,724.2 568.3,719.5 586.4,714.9 604.7,710.4 622.9,706 641.2,701.7 659.5,697.5 677.8,693.4 696.1,689.5 714.2,685.7 732.3,682 750.3,678.5 768.1,675.2 785.8,672 803.4,669.1 820.7,666.3 837.8,663.8 854.7,661.5 871.4,659.4 887.8,657.6 903.8,656.1 919.6,655 935.1,654.1 950.2,653.6 964.9,653.5 979.2,653.7 993.2,654.4 1006.7,655.5 L1019.8,657.1 A425,425 0 0 1 1010.5,703.4 L998.7,700.7 986.4,698.5 973.6,696.7 960.3,695.5 946.6,694.6 932.4,694.2 917.9,694.2 902.9,694.5 887.6,695.2 871.9,696.2 855.9,697.6 839.6,699.2 823.1,701.1 806.3,703.3 789.3,705.7 772.1,708.4 754.7,711.3 737.2,714.5 719.6,717.8 701.9,721.3 684.1,725 666.2,728.9 648.4,732.9 630.5,737.1 612.7,741.5 594.9,746 577.3,750.6 559.7,755.4 542.3,760.3 525.1,765.3 508,770.5 491.2,775.8 474.6,781.2 458.3,786.8 442.3,792.4 426.6,798.3 411.3,804.2 396.3,810.3 381.8,816.5 367.7,822.9 354.1,829.4 341,836.1 328.5,843 316.5,850.1 305,857.3 294.2,864.7 284.1,872.3Z" fill="#51e429" fill-opacity="0.83" stroke="#246612" stroke-opacity="0.9"/>
<path d="M532.4,171.9 A430.5,430.5 0 0 1 581,167.1 L581.3,173.5 581.6,179.8 581.9,186.2 582.3,192.4 582.7,198.5 583.1,204.4 583.5,210.2 583.9,215.7 584.4,221.1 584.9,226.2 585.3,231.1 585.8,235.7 586.3,239.9 586.9,243.9 587.4,247.6 587.9,250.9 588.4,253.8 588.9,256.4 589.5,258.6 590,260.5 590.5,262 591,263.1 591.5,263.7 592,264 592.5,264 593,263.5 593.5,262.6 594,261.3 594.4,259.7 594.9,257.7 595.3,255.3 595.7,252.5 596.1,249.4 596.4,246 596.8,242.2 597.1,238.2 597.4,233.8 597.7,229.2 598,224.3 598.2,219.1 598.4,213.8 598.6,208.2 598.8,202.5 598.9,196.6 599,190.6 599.1,184.5 599.1,178.4 L599.1,172.2 A425,425 0 0 1 648.1,175 L647.3,181.3 646.3,187.5 645.1,193.6 643.7,199.6 642.2,205.5 640.5,211.2 638.7,216.8 636.7,222.2 634.6,227.3 632.4,232.2 630,236.9 627.6,241.3 625,245.4 622.3,249.1 619.6,252.6 616.8,255.7 613.9,258.5 610.9,260.9 607.9,262.9 604.8,264.6 601.7,265.9 598.6,266.8 595.4,267.4 592.3,267.5 589.1,267.3 585.9,266.6 582.7,265.6 579.6,264.2 576.4,262.4 573.3,260.3 570.3,257.8 567.2,254.9 564.3,251.6 561.4,248.1 558.6,244.2 555.8,240 553.2,235.5 550.7,230.7 548.2,225.6 545.9,220.3 543.7,214.8 541.6,209.1 539.7,203.2 537.9,197.1 536.3,191 534.8,184.7 533.5,178.3Z" fill="#e42929" fill-opacity="0.83" stroke="#661212" stroke-opacity="0.9"/>
<path d="M338.3,939.8 A430.5,430.5 0 0 1 301,907.8 L307.4,901.6 314.6,895.7 322.4,890.1 330.8,884.8 339.7,879.8 349.2,875.1 359.3,870.7 369.8,866.7 380.7,862.9 392.1,859.5 403.9,856.4 416.1,853.6 428.6,851.1 441.4,848.9 454.5,847 467.8,845.4 481.4,844.2 495.1,843.2 509,842.5 523,842.2 537.1,842.1 551.3,842.3 565.5,842.8 579.7,843.7 593.9,844.8 608.1,846.1 622.2,847.8 636.1,849.8 649.9,852 663.6,854.6 677,857.3 690.2,860.4 703.1,863.7 715.8,867.4 728.1,871.2 740.1,875.3 751.7,879.7 762.8,884.4 773.5,889.2 783.8,894.4 793.5,899.7 802.8,905.3 811.4,911.2 819.5,917.2 826.9,923.5 833.6,930 839.7,936.8 L845.1,943.7 A425,425 0 0 1 804.2,969.4 L800.1,962.5 795.2,955.8 789.8,949.3 783.7,943 777.1,936.8 769.9,930.9 762.2,925.2 754,919.7 745.4,914.4 736.3,909.4 726.8,904.6 716.9,900.1 706.6,895.8 696,891.8 685.1,888.1 674,884.7 662.6,881.6 650.9,878.8 639.1,876.2 627.1,874 615,872.1 602.8,870.5 590.5,869.2 578.2,868.2 565.8,867.6 553.4,867.2 541,867.2 528.8,867.5 516.6,868.2 504.5,869.1 492.5,870.4 480.7,872.1 469.2,874 457.8,876.3 446.7,878.8 435.9,881.7 425.4,884.9 415.2,888.5 405.4,892.3 396,896.4 387,900.9 378.5,905.6 370.4,910.6 362.9,915.9 355.8,921.5 349.4,927.3 343.5,933.4Z" fill="#51e429" fill-opacity="0.83" stroke="#246612" stroke-opacity="0.9"/>
<path d="M430.6,201 A430.5,430.5 0 0 1 491.5,180.3 L493.8,187.9 496.7,195.4 500.2,202.9 504.2,210.4 508.8,217.8 514,225 519.7,232.2 525.8,239.3 532.5,246.2 539.5,252.9 547,259.5 554.9,265.9 563.2,272 571.8,278 580.8,283.8 590.1,289.3 599.6,294.5 609.4,299.5 619.4,304.2 629.7,308.6 640.1,312.8 650.7,316.6 661.5,320.2 672.3,323.4 683.2,326.3 694.2,328.8 705.2,331 716.3,332.9 727.3,334.5 738.3,335.6 749.2,336.5 760,336.9 770.7,337.1 781.3,336.8 791.6,336.2 801.8,335.2 811.8,333.9 821.5,332.2 830.9,330.1 840,327.7 848.8,324.9 857.2,321.7 865.2,318.2 872.8,314.3 879.9,310.1 886.5,305.6 892.7,300.7 L898.3,295.5 A425,425 0 0 1 939.2,342.4 L932.1,347.3 924.4,351.7 916.2,355.8 907.4,359.4 898.1,362.6 888.3,365.4 878.1,367.8 867.4,369.8 856.4,371.4 845,372.6 833.2,373.4 821.2,373.9 808.9,374 796.3,373.7 783.5,373.1 770.6,372.1 757.5,370.8 744.2,369.2 730.9,367.2 717.5,364.9 704.1,362.2 690.6,359.3 677.2,356 663.8,352.5 650.5,348.7 637.3,344.6 624.2,340.2 611.3,335.5 598.6,330.6 586.1,325.5 573.8,320.1 561.8,314.5 550.2,308.6 538.8,302.6 527.9,296.3 517.3,289.8 507.1,283.2 497.3,276.4 488.1,269.4 479.3,262.3 471.1,255 463.4,247.6 456.3,240.1 449.8,232.5 444,224.7 438.8,216.9 434.3,209Z" fill="#e42929" fill-opacity="0.83" stroke="#661212" stroke-opacity="0.9"/>
<path d="M589.7,1027.6 A430.5,430.5 0 0 1 520.3,1020.4 L521.6,1014 523.2,1007.6 525,1001.2 527,995 529.3,988.9 531.7,983 534.4,977.3 537.2,971.7 540.2,966.4 543.4,961.3 546.7,956.5 550.2,952 553.8,947.8 557.5,943.9 561.3,940.3 565.2,937 569.2,934.1 573.3,931.5 577.4,929.3 581.6,927.5 585.8,926 590.1,924.9 594.4,924.3 598.7,924 603,924 607.3,924.5 611.5,925.3 615.7,926.6 619.9,928.2 624.1,930.2 628.1,932.5 632.1,935.2 636,938.2 639.8,941.6 643.5,945.3 647.1,949.3 650.5,953.6 653.8,958.2 657,963 660,968.1 662.8,973.4 665.4,979 667.9,984.7 670.1,990.5 672.1,996.5 673.9,1002.6 675.4,1008.8 L676.7,1015 A425,425 0 0 1 607.8,1022.1 L607.6,1015.9 607.4,1009.8 607.2,1003.7 607,997.7 606.8,991.8 606.5,986.1 606.2,980.6 605.9,975.2 605.5,970.1 605.2,965.2 604.8,960.6 604.4,956.2 604,952.1 603.5,948.4 603.1,945 602.7,941.9 602.2,939.1 601.7,936.7 601.3,934.7 600.8,933.1 600.3,931.8 599.8,931 599.3,930.5 598.8,930.4 598.3,930.7 597.8,931.4 597.3,932.5 596.8,934 596.3,935.9 595.8,938.1 595.4,940.7 594.9,943.7 594.5,947 594,950.7 593.6,954.7 593.2,958.9 592.8,963.5 592.4,968.4 592,973.5 591.7,978.9 591.3,984.5 591,990.2 590.7,996.2 590.5,1002.3 590.2,1008.5 590,1014.8 589.8,1021.2Z" fill="#29e444" fill-opacity="0.83" stroke="#12661e" stroke-opacity="0.9"/>
</g>
<g stroke="#111" stroke-width="0.8" stroke-opacity="0.85">
<path d="M292.7,285.5 A437,437 0 0 1 317.2,263.2 L321.4,268.1 A430.5,430.5 0 0 0 297.3,290.1 Z" fill="#2ae889"/>
<path d="M778.4,988.5 A430.5,430.5 0 0 1 748,1001.1 L746.1,995.9 A425,425 0 0 0 776.1,983.5 Z" fill="#e82a2a"/>
<path d="M317.2,263.2 A437,437 0 0 1 342.1,243.7 L345.9,248.9 A430.5,430.5 0 0 0 321.4,268.1 Z" fill="#2ae8cd"/>
<path d="M928.5,874.3 A430.5,430.5 0 0 1 907.7,897.2 L903.8,893.4 A425,425 0 0 0 924.3,870.7 Z" fill="#e82a2a"/>
<path d="M342.1,243.7 A437,437 0 0 1 371.5,224.1 L374.9,229.6 A430.5,430.5 0 0 0 345.9,248.9 Z" fill="#2abfe8"/>
<path d="M1004.6,741.5 A430.5,430.5 0 0 1 991.7,773.6 L986.7,771.3 A425,425 0 0 0 999.4,739.7 Z" fill="#e82a2a"/>
<path d="M371.5,224.1 A437,437 0 0 1 403.6,206.3 L406.5,212.1 A430.5,430.5 0 0 0 374.9,229.6 Z" fill="#2a7be8"/>
<path d="M1029.3,583.9 A430.5,430.5 0 0 1 1028.9,619.5 L1023.4,619.2 A425,425 0 0 0 1023.8,584.1 Z" fill="#e82a2a"/>
<path d="M403.6,206.3 A437,437 0 0 1 428,195 L430.6,201 A430.5,430.5 0 0 0 406.5,212.1 Z" fill="#2a37e8"/>
<path d="M1001,443.1 A430.5,430.5 0 0 1 1009.7,468 L1004.4,469.6 A425,425 0 0 0 995.8,445 Z" fill="#e82a2a"/>
<path d="M428,195 A437,437 0 0 1 489.9,174 L491.5,180.3 A430.5,430.5 0 0 0 430.6,201 Z" fill="#602ae8"/>
<path d="M902.2,291.6 A430.5,430.5 0 0 1 943.6,339.1 L939.2,342.4 A425,425 0 0 0 898.3,295.5 Z" fill="#e82a2a"/>
<path d="M489.9,174 A437,437 0 0 1 531.4,165.5 L532.4,171.9 A430.5,430.5 0 0 0 491.5,180.3 Z" fill="#a42ae8"/>
<path d="M770.9,202.5 A430.5,430.5 0 0 1 808.3,221 L805.6,225.8 A425,425 0 0 0 768.7,207.6 Z" fill="#e82a2a"/>
<path d="M531.4,165.5 A437,437 0 0 1 580.7,160.6 L581,167.1 A430.5,430.5 0 0 0 532.4,171.9 Z" fill="#e82ae8"/>
<path d="M599.2,166.7 A430.5,430.5 0 0 1 648.7,169.6 L648.1,175 A425,425 0 0 0 599.1,172.2 Z" fill="#e82a2a"/>
<path d="M201.8,414.9 A437,437 0 0 1 208.4,401.2 L214.3,404.1 A430.5,430.5 0 0 0 207.7,417.6 Z" fill="#2ae889"/>
<path d="M748,1001.1 A430.5,430.5 0 0 1 733.7,1006.1 L731.9,1000.9 A425,425 0 0 0 746.1,995.9 Z" fill="#e86e2a"/>
<path d="M208.4,401.2 A437,437 0 0 1 219.6,380.3 L225.3,383.5 A430.5,430.5 0 0 0 214.3,404.1 Z" fill="#2ae8cd"/>
<path d="M907.7,897.2 A430.5,430.5 0 0 1 891.1,913.4 L887.4,909.4 A425,425 0 0 0 903.8,893.4 Z" fill="#e86e2a"/>
<path d="M219.6,380.3 A437,437 0 0 1 225.9,369.7 L231.4,373.1 A430.5,430.5 0 0 0 225.3,383.5 Z" fill="#2abfe8"/>
<path d="M991.7,773.6 A430.5,430.5 0 0 1 986.7,784.4 L981.7,782 A425,425 0 0 0 986.7,771.3 Z" fill="#e86e2a"/>
<path d="M225.9,369.7 A437,437 0 0 1 232.8,358.7 L238.3,362.3 A430.5,430.5 0 0 0 231.4,373.1 Z" fill="#2a7be8"/>
<path d="M1028.9,619.5 A430.5,430.5 0 0 1 1028.1,632.1 L1022.6,631.6 A425,425 0 0 0 1023.4,619.2 Z" fill="#e86e2a"/>
<path d="M232.8,358.7 A437,437 0 0 1 240.5,347.3 L245.8,351 A430.5,430.5 0 0 0 238.3,362.3 Z" fill="#2a37e8"/>
<path d="M1009.7,468 A430.5,430.5 0 0 1 1013.5,480.9 L1008.2,482.4 A425,425 0 0 0 1004.4,469.6 Z" fill="#e86e2a"/>
<path d="M240.5,347.3 A437,437 0 0 1 252,331.6 L257.2,335.5 A430.5,430.5 0 0 0 245.8,351 Z" fill="#602ae8"/>
<path d="M943.6,339.1 A430.5,430.5 0 0 1 954.5,354.4 L950,357.5 A425,425 0 0 0 939.2,342.4 Z" fill="#e86e2a"/>
<path d="M252,331.6 A437,437 0 0 1 266.7,313.4 L271.6,317.7 A430.5,430.5 0 0 0 257.2,335.5 Z" fill="#a42ae8"/>
<path d="M808.3,221 A430.5,430.5 0 0 1 828,232.6 L825,237.3 A425,425 0 0 0 805.6,225.8 Z" fill="#e86e2a"/>
<path d="M266.7,313.4 A437,437 0 0 1 279.9,298.6 L284.7,303.1 A430.5,430.5 0 0 0 271.6,317.7 Z" fill="#e82ae8"/>
<path d="M648.7,169.6 A430.5,430.5 0 0 1 668.4,172.3 L667.5,177.8 A425,425 0 0 0 648.1,175 Z" fill="#e86e2a"/>
<path d="M170.6,511.1 A437,437 0 0 1 171.9,504.5 L178.3,505.9 A430.5,430.5 0 0 0 176.9,512.4 Z" fill="#2ae889"/>
<path d="M733.7,1006.1 A430.5,430.5 0 0 1 727.3,1008.1 L725.7,1002.9 A425,425 0 0 0 731.9,1000.9 Z" fill="#e8b22a"/>
<path d="M171.9,504.5 A437,437 0 0 1 176,487.5 L182.3,489.1 A430.5,430.5 0 0 0 178.3,505.9 Z" fill="#2ae8cd"/>
<path d="M891.1,913.4 A430.5,430.5 0 0 1 878.3,924.8 L874.7,920.7 A425,425 0 0 0 887.4,909.4 Z" fill="#e8b22a"/>
<path d="M176,487.5 A437,437 0 0 1 177.6,481.6 L183.8,483.3 A430.5,430.5 0 0 0 182.3,489.1 Z" fill="#2abfe8"/>
<path d="M986.7,784.4 A430.5,430.5 0 0 1 984,789.8 L979.1,787.3 A425,425 0 0 0 981.7,782 Z" fill="#e8b22a"/>
<path d="M177.6,481.6 A437,437 0 0 1 179.6,474.6 L185.8,476.4 A430.5,430.5 0 0 0 183.8,483.3 Z" fill="#2a7be8"/>
<path d="M1028.1,632.1 A430.5,430.5 0 0 1 1027.5,639.1 L1022,638.5 A425,425 0 0 0 1022.6,631.6 Z" fill="#e8b22a"/>
<path d="M179.6,474.6 A437,437 0 0 1 181.5,468 L187.7,469.9 A430.5,430.5 0 0 0 185.8,476.4 Z" fill="#2a37e8"/>
<path d="M1013.5,480.9 A430.5,430.5 0 0 1 1015.3,487.4 L1010,488.8 A425,425 0 0 0 1008.2,482.4 Z" fill="#e8b22a"/>
<path d="M181.5,468 A437,437 0 0 1 185.2,456.8 L191.3,458.8 A430.5,430.5 0 0 0 187.7,469.9 Z" fill="#602ae8"/>
<path d="M954.5,354.4 A430.5,430.5 0 0 1 960.8,363.9 L956.2,366.9 A425,425 0 0 0 950,357.5 Z" fill="#e8b22a"/>
<path d="M185.2,456.8 A437,437 0 0 1 189.3,445.2 L195.4,447.5 A430.5,430.5 0 0 0 191.3,458.8 Z" fill="#a42ae8"/>
<path d="M828,232.6 A430.5,430.5 0 0 1 838,239.2 L835,243.7 A425,425 0 0 0 825,237.3 Z" fill="#e8b22a"/>
<path d="M189.3,445.2 A437,437 0 0 1 194.1,432.8 L200.1,435.2 A430.5,430.5 0 0 0 195.4,447.5 Z" fill="#e82ae8"/>
<path d="M668.4,172.3 A430.5,430.5 0 0 1 681.6,174.7 L680.6,180.1 A425,425 0 0 0 667.5,177.8 Z" fill="#e8b22a"/>
<path d="M162.6,574.1 A437,437 0 0 1 162.8,570.3 L169.3,570.7 A430.5,430.5 0 0 0 169.1,574.4 Z" fill="#2ae889"/>
<path d="M727.3,1008.1 A430.5,430.5 0 0 1 723.7,1009.2 L722.1,1004 A425,425 0 0 0 725.7,1002.9 Z" fill="#dae82a"/>
<path d="M162.8,570.3 A437,437 0 0 1 163,568.2 L169.4,568.7 A430.5,430.5 0 0 0 169.3,570.7 Z" fill="#2ae8cd"/>
<path d="M878.3,924.8 A430.5,430.5 0 0 1 876.7,926.1 L873.2,921.9 A425,425 0 0 0 874.7,920.7 Z" fill="#dae82a"/>
<path d="M163,568.2 A437,437 0 0 1 163.6,559.5 L170.1,560.1 A430.5,430.5 0 0 0 169.4,568.7 Z" fill="#2abfe8"/>
<path d="M984,789.8 A430.5,430.5 0 0 1 980.1,797.4 L975.2,794.9 A425,425 0 0 0 979.1,787.3 Z" fill="#dae82a"/>
<path d="M163.6,559.5 A437,437 0 0 1 164.2,553.9 L170.6,554.5 A430.5,430.5 0 0 0 170.1,560.1 Z" fill="#2a7be8"/>
<path d="M1027.5,639.1 A430.5,430.5 0 0 1 1026.9,644.5 L1021.4,643.9 A425,425 0 0 0 1022,638.5 Z" fill="#dae82a"/>
<path d="M164.2,553.9 A437,437 0 0 1 164.5,550.5 L171,551.2 A430.5,430.5 0 0 0 170.6,554.5 Z" fill="#2a37e8"/>
<path d="M1015.3,487.4 A430.5,430.5 0 0 1 1016.1,490.6 L1010.8,492 A425,425 0 0 0 1010,488.8 Z" fill="#dae82a"/>
<path d="M164.5,550.5 A437,437 0 0 1 165.5,541.7 L172,542.5 A430.5,430.5 0 0 0 171,551.2 Z" fill="#602ae8"/>
<path d="M960.8,363.9 A430.5,430.5 0 0 1 965.4,371.2 L960.7,374.1 A425,425 0 0 0 956.2,366.9 Z" fill="#dae82a"/>
<path d="M165.5,541.7 A437,437 0 0 1 166.4,535.5 L172.8,536.4 A430.5,430.5 0 0 0 172,542.5 Z" fill="#a42ae8"/>
<path d="M838,239.2 A430.5,430.5 0 0 1 843.1,242.6 L840,247.1 A425,425 0 0 0 835,243.7 Z" fill="#dae82a"/>
<path d="M166.4,535.5 A437,437 0 0 1 167.3,529.1 L173.8,530.2 A430.5,430.5 0 0 0 172.8,536.4 Z" fill="#e82ae8"/>
<path d="M681.6,174.7 A430.5,430.5 0 0 1 687.9,176 L686.8,181.4 A425,425 0 0 0 680.6,180.1 Z" fill="#dae82a"/>
<path d="M182.6,729.8 A437,437 0 0 1 179.7,720.4 L186,718.6 A430.5,430.5 0 0 0 188.8,727.9 Z" fill="#2ae889"/>
<path d="M723.7,1009.2 A430.5,430.5 0 0 1 714.2,1012 L712.8,1006.7 A425,425 0 0 0 722.1,1004 Z" fill="#97e82a"/>
<path d="M179.7,720.4 A437,437 0 0 1 170.9,684.9 L177.3,683.6 A430.5,430.5 0 0 0 186,718.6 Z" fill="#2ae8cd"/>
<path d="M876.7,926.1 A430.5,430.5 0 0 1 848.3,948.2 L845.1,943.7 A425,425 0 0 0 873.2,921.9 Z" fill="#97e82a"/>
<path d="M170.9,684.9 A437,437 0 0 1 168.6,672.6 L175,671.5 A430.5,430.5 0 0 0 177.3,683.6 Z" fill="#2abfe8"/>
<path d="M980.1,797.4 A430.5,430.5 0 0 1 974.2,808.2 L969.4,805.5 A425,425 0 0 0 975.2,794.9 Z" fill="#97e82a"/>
<path d="M168.6,672.6 A437,437 0 0 1 166.4,658.9 L172.8,658 A430.5,430.5 0 0 0 175,671.5 Z" fill="#2a7be8"/>
<path d="M1026.9,644.5 A430.5,430.5 0 0 1 1025.2,657.9 L1019.8,657.1 A425,425 0 0 0 1021.4,643.9 Z" fill="#97e82a"/>
<path d="M166.4,658.9 A437,437 0 0 1 165.2,649.6 L171.6,648.8 A430.5,430.5 0 0 0 172.8,658 Z" fill="#2a37e8"/>
<path d="M1016.1,490.6 A430.5,430.5 0 0 1 1018.3,499.7 L1012.9,500.9 A425,425 0 0 0 1010.8,492 Z" fill="#97e82a"/>
<path d="M165.2,649.6 A437,437 0 0 1 163.5,633.7 L170,633.2 A430.5,430.5 0 0 0 171.6,648.8 Z" fill="#602ae8"/>
<path d="M965.4,371.2 A430.5,430.5 0 0 1 973.3,384.5 L968.5,387.3 A425,425 0 0 0 960.7,374.1 Z" fill="#97e82a"/>
<path d="M163.5,633.7 A437,437 0 0 1 162.5,617.6 L169,617.3 A430.5,430.5 0 0 0 170,633.2 Z" fill="#a42ae8"/>
<path d="M843.1,242.6 A430.5,430.5 0 0 1 856.1,251.9 L852.8,256.3 A425,425 0 0 0 840,247.1 Z" fill="#97e82a"/>
<path d="M162.5,617.6 A437,437 0 0 1 162,593.6 L168.5,593.7 A430.5,430.5 0 0 0 169,617.3 Z" fill="#e82ae8"/>
<path d="M687.9,176 A430.5,430.5 0 0 1 711.4,181.6 L709.9,186.9 A425,425 0 0 0 686.8,181.4 Z" fill="#97e82a"/>
<path d="M365.3,966.5 A437,437 0 0 1 334.3,944.9 L338.3,939.8 A430.5,430.5 0 0 0 368.8,961 Z" fill="#2ae889"/>
<path d="M714.2,1012 A430.5,430.5 0 0 1 677.7,1020.4 L676.7,1015 A425,425 0 0 0 712.8,1006.7 Z" fill="#53e82a"/>
<path d="M334.3,944.9 A437,437 0 0 1 296.5,912.5 L301,907.8 A430.5,430.5 0 0 0 338.3,939.8 Z" fill="#2ae8cd"/>
<path d="M848.3,948.2 A430.5,430.5 0 0 1 806.9,974.2 L804.2,969.4 A425,425 0 0 0 845.1,943.7 Z" fill="#53e82a"/>
<path d="M296.5,912.5 A437,437 0 0 1 269.7,884.5 L274.6,880.2 A430.5,430.5 0 0 0 301,907.8 Z" fill="#2abfe8"/>
<path d="M974.2,808.2 A430.5,430.5 0 0 1 954.2,840.5 L949.6,837.4 A425,425 0 0 0 969.4,805.5 Z" fill="#53e82a"/>
<path d="M269.7,884.5 A437,437 0 0 1 239.5,845.6 L244.8,841.9 A430.5,430.5 0 0 0 274.6,880.2 Z" fill="#2a7be8"/>
<path d="M1025.2,657.9 A430.5,430.5 0 0 1 1015.8,704.8 L1010.5,703.4 A425,425 0 0 0 1019.8,657.1 Z" fill="#53e82a"/>
<path d="M239.5,845.6 A437,437 0 0 1 223.1,820 L228.7,816.7 A430.5,430.5 0 0 0 244.8,841.9 Z" fill="#2a37e8"/>
<path d="M1018.3,499.7 A430.5,430.5 0 0 1 1024.1,529 L1018.6,529.9 A425,425 0 0 0 1012.9,500.9 Z" fill="#53e82a"/>
<path d="M223.1,820 A437,437 0 0 1 209.5,795.4 L215.3,792.5 A430.5,430.5 0 0 0 228.7,816.7 Z" fill="#602ae8"/>
<path d="M973.3,384.5 A430.5,430.5 0 0 1 985.9,408.5 L981,410.9 A425,425 0 0 0 968.5,387.3 Z" fill="#53e82a"/>
<path d="M209.5,795.4 A437,437 0 0 1 199.8,775.1 L205.8,772.4 A430.5,430.5 0 0 0 215.3,792.5 Z" fill="#a42ae8"/>
<path d="M856.1,251.9 A430.5,430.5 0 0 1 873.6,265.6 L870,269.9 A425,425 0 0 0 852.8,256.3 Z" fill="#53e82a"/>
<path d="M199.8,775.1 A437,437 0 0 1 189,748.5 L195.1,746.3 A430.5,430.5 0 0 0 205.8,772.4 Z" fill="#e82ae8"/>
<path d="M711.4,181.6 A430.5,430.5 0 0 1 738.9,190.1 L737.1,195.3 A425,425 0 0 0 709.9,186.9 Z" fill="#53e82a"/>
<path d="M589.5,1034.1 A437,437 0 0 1 519.1,1026.8 L520.3,1020.4 A430.5,430.5 0 0 0 589.7,1027.6 Z" fill="#2ae889"/>
<path d="M677.7,1020.4 A430.5,430.5 0 0 1 607.9,1027.6 L607.8,1022.1 A425,425 0 0 0 676.7,1015 Z" fill="#2ae845"/>
<path d="M519.1,1026.8 A437,437 0 0 1 506.6,1024.3 L507.9,1018 A430.5,430.5 0 0 0 520.3,1020.4 Z" fill="#2ae8cd"/>
<path d="M806.9,974.2 A430.5,430.5 0 0 1 795.8,980.1 L793.3,975.2 A425,425 0 0 0 804.2,969.4 Z" fill="#2ae845"/>
<path d="M506.6,1024.3 A437,437 0 0 1 484.1,1018.8 L485.8,1012.6 A430.5,430.5 0 0 0 507.9,1018 Z" fill="#2abfe8"/>
<path d="M954.2,840.5 A430.5,430.5 0 0 1 940.9,858.7 L936.6,855.4 A425,425 0 0 0 949.6,837.4 Z" fill="#2ae845"/>
<path d="M484.1,1018.8 A437,437 0 0 1 464.4,1013 L466.4,1006.8 A430.5,430.5 0 0 0 485.8,1012.6 Z" fill="#2a7be8"/>
<path d="M1015.8,704.8 A430.5,430.5 0 0 1 1010.4,723.9 L1005.2,722.3 A425,425 0 0 0 1010.5,703.4 Z" fill="#2ae845"/>
<path d="M464.4,1013 A437,437 0 0 1 429.8,1000.1 L432.3,994.1 A430.5,430.5 0 0 0 466.4,1006.8 Z" fill="#2a37e8"/>
<path d="M1024.1,529 A430.5,430.5 0 0 1 1028.3,565 L1022.8,565.4 A425,425 0 0 0 1018.6,529.9 Z" fill="#2ae845"/>
<path d="M429.8,1000.1 A437,437 0 0 1 414,993.1 L416.7,987.2 A430.5,430.5 0 0 0 432.3,994.1 Z" fill="#602ae8"/>
<path d="M985.9,408.5 A430.5,430.5 0 0 1 993,423.7 L987.9,425.9 A425,425 0 0 0 981,410.9 Z" fill="#2ae845"/>
<path d="M414,993.1 A437,437 0 0 1 397.5,985 L400.5,979.2 A430.5,430.5 0 0 0 416.7,987.2 Z" fill="#a42ae8"/>
<path d="M873.6,265.6 A430.5,430.5 0 0 1 887.2,277.4 L883.5,281.5 A425,425 0 0 0 870,269.9 Z" fill="#2ae845"/>
<path d="M397.5,985 A437,437 0 0 1 383.1,977.2 L386.4,971.5 A430.5,430.5 0 0 0 400.5,979.2 Z" fill="#e82ae8"/>
<path d="M738.9,190.1 A430.5,430.5 0 0 1 754.3,195.7 L752.3,200.8 A425,425 0 0 0 737.1,195.3 Z" fill="#2ae845"/>
</g>
<g stroke="#111" stroke-width="0.9">
<path d="M277.3,269.8 A459,459 0 0 1 579.8,138.6 L580.7,160.6 A437,437 0 0 0 292.7,285.5 Z" fill="#e82a2a"/>
<path d="M181.8,405.8 A459,459 0 0 1 263.9,283.6 L279.9,298.6 A437,437 0 0 0 201.8,414.9 Z" fill="#e86e2a"/>
<path d="M149,506.8 A459,459 0 0 1 173.7,424.5 L194.1,432.8 A437,437 0 0 0 170.6,511.1 Z" fill="#e8b22a"/>
<path d="M140.6,572.9 A459,459 0 0 1 145.6,525.7 L167.3,529.1 A437,437 0 0 0 162.6,574.1 Z" fill="#dae82a"/>
<path d="M161.7,736.5 A459,459 0 0 1 140,593.4 L162,593.6 A437,437 0 0 0 182.6,729.8 Z" fill="#97e82a"/>
<path d="M353.5,985 A459,459 0 0 1 168.4,756.1 L189,748.5 A437,437 0 0 0 365.3,966.5 Z" fill="#53e82a"/>
<path d="M589.1,1056.1 A459,459 0 0 1 372.3,996.3 L383.1,977.2 A437,437 0 0 0 589.5,1034.1 Z" fill="#2ae845"/>
<path d="M790.3,1014.4 A459,459 0 0 1 608.5,1056.1 L608,1034.1 A437,437 0 0 0 781.1,994.4 Z" fill="#2ae889"/>
<path d="M950.3,892.6 A459,459 0 0 1 808.9,1005.4 L798.8,985.8 A437,437 0 0 0 933.5,878.4 Z" fill="#2ae8cd"/>
<path d="M1031.4,751.1 A459,459 0 0 1 963.6,876 L946.1,862.7 A437,437 0 0 0 1010.7,743.7 Z" fill="#2abfe8"/>
<path d="M1057.8,583 A459,459 0 0 1 1037.7,732.3 L1016.6,725.8 A437,437 0 0 0 1035.8,583.7 Z" fill="#2a7be8"/>
<path d="M1027.6,432.9 A459,459 0 0 1 1056.7,562.9 L1034.8,564.5 A437,437 0 0 0 1007,440.7 Z" fill="#2a37e8"/>
<path d="M922.3,271.3 A459,459 0 0 1 1019.1,412.2 L998.9,421.1 A437,437 0 0 0 906.8,287 Z" fill="#602ae8"/>
<path d="M782.3,176.4 A459,459 0 0 1 906.2,256.2 L891.5,272.5 A437,437 0 0 0 773.5,196.6 Z" fill="#a42ae8"/>
<path d="M599.2,138.2 A459,459 0 0 1 764.5,169.1 L756.6,189.6 A437,437 0 0 0 599.2,160.2 Z" fill="#e82ae8"/>
</g>
<g stroke="#111" stroke-width="0.8">
<path d="M223.8,215.4 A535.3,535.3 0 0 1 284.9,163.7 L290.5,171.4 A525.8,525.8 0 0 0 230.5,222.2 Z" fill="#602ae8"/>
<path d="M284.9,163.7 A535.3,535.3 0 0 1 336,131 L340.6,139.2 A525.8,525.8 0 0 0 290.5,171.4 Z" fill="#e82ae8"/>
<path d="M336,131 A535.3,535.3 0 0 1 382.4,107.7 L386.3,116.4 A525.8,525.8 0 0 0 340.6,139.2 Z" fill="#a42ae8"/>
<path d="M382.4,107.7 A535.3,535.3 0 0 1 424.3,91.2 L427.4,100.2 A525.8,525.8 0 0 0 386.3,116.4 Z" fill="#2a7be8"/>
<path d="M424.3,91.2 A535.3,535.3 0 0 1 465.7,78.8 L468.1,88 A525.8,525.8 0 0 0 427.4,100.2 Z" fill="#2abfe8"/>
<path d="M465.7,78.8 A535.3,535.3 0 0 1 505.4,70.1 L507.1,79.5 A525.8,525.8 0 0 0 468.1,88 Z" fill="#2ae889"/>
<path d="M505.4,70.1 A535.3,535.3 0 0 1 543.8,64.8 L544.7,74.2 A525.8,525.8 0 0 0 507.1,79.5 Z" fill="#2ae8cd"/>
<path d="M543.8,64.8 A535.3,535.3 0 0 1 576.6,62.4 L577,71.9 A525.8,525.8 0 0 0 544.7,74.2 Z" fill="#2a37e8"/>
<path d="M241.1,233 A510.6,510.6 0 0 1 299.4,183.7 L304.8,191.2 A501.4,501.4 0 0 0 247.6,239.6 Z" fill="#602ae8"/>
<path d="M299.4,183.7 A510.6,510.6 0 0 1 348.1,152.5 L352.6,160.5 A501.4,501.4 0 0 0 304.8,191.2 Z" fill="#e82ae8"/>
<path d="M348.1,152.5 A510.6,510.6 0 0 1 392.4,130.3 L396.1,138.7 A501.4,501.4 0 0 0 352.6,160.5 Z" fill="#a42ae8"/>
<path d="M392.4,130.3 A510.6,510.6 0 0 1 432.3,114.6 L435.3,123.3 A501.4,501.4 0 0 0 396.1,138.7 Z" fill="#2a7be8"/>
<path d="M432.3,114.6 A510.6,510.6 0 0 1 471.9,102.7 L474.1,111.6 A501.4,501.4 0 0 0 435.3,123.3 Z" fill="#2abfe8"/>
<path d="M471.9,102.7 A510.6,510.6 0 0 1 509.8,94.5 L511.4,103.5 A501.4,501.4 0 0 0 474.1,111.6 Z" fill="#2ae889"/>
<path d="M509.8,94.5 A510.6,510.6 0 0 1 546.3,89.3 L547.3,98.5 A501.4,501.4 0 0 0 511.4,103.5 Z" fill="#2ae8cd"/>
<path d="M546.3,89.3 A510.6,510.6 0 0 1 577.6,87 L578,96.2 A501.4,501.4 0 0 0 547.3,98.5 Z" fill="#2a37e8"/>
<path d="M112.5,373.9 A535.3,535.3 0 0 1 125.3,347.9 L133.7,352.3 A525.8,525.8 0 0 0 121.1,377.9 Z" fill="#2ae8cd"/>
<path d="M125.3,347.9 A535.3,535.3 0 0 1 139.3,323 L147.4,327.8 A525.8,525.8 0 0 0 133.7,352.3 Z" fill="#a42ae8"/>
<path d="M139.3,323 A535.3,535.3 0 0 1 152.2,302.3 L160.2,307.6 A525.8,525.8 0 0 0 147.4,327.8 Z" fill="#e82ae8"/>
<path d="M152.2,302.3 A535.3,535.3 0 0 1 165.8,282.7 L173.5,288.3 A525.8,525.8 0 0 0 160.2,307.6 Z" fill="#602ae8"/>
<path d="M165.8,282.7 A535.3,535.3 0 0 1 177.1,267.7 L184.6,273.6 A525.8,525.8 0 0 0 173.5,288.3 Z" fill="#2ae889"/>
<path d="M177.1,267.7 A535.3,535.3 0 0 1 187.7,254.6 L195,260.7 A525.8,525.8 0 0 0 184.6,273.6 Z" fill="#2a37e8"/>
<path d="M187.7,254.6 A535.3,535.3 0 0 1 198.1,242.5 L205.2,248.8 A525.8,525.8 0 0 0 195,260.7 Z" fill="#2a7be8"/>
<path d="M198.1,242.5 A535.3,535.3 0 0 1 208.1,231.4 L215.1,237.9 A525.8,525.8 0 0 0 205.2,248.8 Z" fill="#2abfe8"/>
<path d="M134.9,384.2 A510.6,510.6 0 0 1 147.2,359.4 L155.3,363.7 A501.4,501.4 0 0 0 143.3,388.1 Z" fill="#2ae8cd"/>
<path d="M147.2,359.4 A510.6,510.6 0 0 1 160.5,335.6 L168.4,340.3 A501.4,501.4 0 0 0 155.3,363.7 Z" fill="#a42ae8"/>
<path d="M160.5,335.6 A510.6,510.6 0 0 1 172.8,315.9 L180.5,321 A501.4,501.4 0 0 0 168.4,340.3 Z" fill="#e82ae8"/>
<path d="M172.8,315.9 A510.6,510.6 0 0 1 185.8,297.2 L193.3,302.6 A501.4,501.4 0 0 0 180.5,321 Z" fill="#602ae8"/>
<path d="M185.8,297.2 A510.6,510.6 0 0 1 196.6,282.9 L203.8,288.6 A501.4,501.4 0 0 0 193.3,302.6 Z" fill="#2ae889"/>
<path d="M196.6,282.9 A510.6,510.6 0 0 1 206.7,270.4 L213.7,276.3 A501.4,501.4 0 0 0 203.8,288.6 Z" fill="#2a37e8"/>
<path d="M206.7,270.4 A510.6,510.6 0 0 1 216.6,258.9 L223.4,265 A501.4,501.4 0 0 0 213.7,276.3 Z" fill="#2a7be8"/>
<path d="M216.6,258.9 A510.6,510.6 0 0 1 226.2,248.3 L232.9,254.6 A501.4,501.4 0 0 0 223.4,265 Z" fill="#2abfe8"/>
<path d="M74.2,491.8 A535.3,535.3 0 0 1 78.8,470.8 L88.1,473 A525.8,525.8 0 0 0 83.5,493.6 Z" fill="#2ae8cd"/>
<path d="M78.8,470.8 A535.3,535.3 0 0 1 83,454.9 L92.1,457.4 A525.8,525.8 0 0 0 88.1,473 Z" fill="#e82ae8"/>
<path d="M83,454.9 A535.3,535.3 0 0 1 87.1,440.6 L96.2,443.3 A525.8,525.8 0 0 0 92.1,457.4 Z" fill="#a42ae8"/>
<path d="M87.1,440.6 A535.3,535.3 0 0 1 91.6,426.8 L100.6,429.8 A525.8,525.8 0 0 0 96.2,443.3 Z" fill="#602ae8"/>
<path d="M91.6,426.8 A535.3,535.3 0 0 1 94.5,418.4 L103.4,421.5 A525.8,525.8 0 0 0 100.6,429.8 Z" fill="#2a7be8"/>
<path d="M94.5,418.4 A535.3,535.3 0 0 1 97.3,410.4 L106.2,413.8 A525.8,525.8 0 0 0 103.4,421.5 Z" fill="#2a37e8"/>
<path d="M97.3,410.4 A535.3,535.3 0 0 1 100.3,402.8 L109.1,406.2 A525.8,525.8 0 0 0 106.2,413.8 Z" fill="#2ae889"/>
<path d="M100.3,402.8 A535.3,535.3 0 0 1 103,395.8 L111.8,399.4 A525.8,525.8 0 0 0 109.1,406.2 Z" fill="#2abfe8"/>
<path d="M98.4,496.6 A510.6,510.6 0 0 1 102.8,476.6 L111.8,478.8 A501.4,501.4 0 0 0 107.4,498.4 Z" fill="#2ae8cd"/>
<path d="M102.8,476.6 A510.6,510.6 0 0 1 106.8,461.5 L115.6,463.9 A501.4,501.4 0 0 0 111.8,478.8 Z" fill="#e82ae8"/>
<path d="M106.8,461.5 A510.6,510.6 0 0 1 110.8,447.8 L119.5,450.5 A501.4,501.4 0 0 0 115.6,463.9 Z" fill="#a42ae8"/>
<path d="M110.8,447.8 A510.6,510.6 0 0 1 115,434.6 L123.7,437.5 A501.4,501.4 0 0 0 119.5,450.5 Z" fill="#602ae8"/>
<path d="M115,434.6 A510.6,510.6 0 0 1 117.7,426.6 L126.4,429.7 A501.4,501.4 0 0 0 123.7,437.5 Z" fill="#2a7be8"/>
<path d="M117.7,426.6 A510.6,510.6 0 0 1 120.5,419.1 L129.1,422.3 A501.4,501.4 0 0 0 126.4,429.7 Z" fill="#2a37e8"/>
<path d="M120.5,419.1 A510.6,510.6 0 0 1 123.3,411.7 L131.8,415.1 A501.4,501.4 0 0 0 129.1,422.3 Z" fill="#2ae889"/>
<path d="M123.3,411.7 A510.6,510.6 0 0 1 125.9,405.1 L134.4,408.6 A501.4,501.4 0 0 0 131.8,415.1 Z" fill="#2abfe8"/>
<path d="M64.4,568.9 A535.3,535.3 0 0 1 65.1,558 L74.6,558.7 A525.8,525.8 0 0 0 73.9,569.4 Z" fill="#602ae8"/>
<path d="M65.1,558 A535.3,535.3 0 0 1 66,547.3 L75.5,548.2 A525.8,525.8 0 0 0 74.6,558.7 Z" fill="#2abfe8"/>
<path d="M66,547.3 A535.3,535.3 0 0 1 66.8,539.5 L76.3,540.5 A525.8,525.8 0 0 0 75.5,548.2 Z" fill="#e82ae8"/>
<path d="M66.8,539.5 A535.3,535.3 0 0 1 67.7,531.9 L77.1,533 A525.8,525.8 0 0 0 76.3,540.5 Z" fill="#a42ae8"/>
<path d="M67.7,531.9 A535.3,535.3 0 0 1 68.6,525 L78,526.3 A525.8,525.8 0 0 0 77.1,533 Z" fill="#2a7be8"/>
<path d="M68.6,525 A535.3,535.3 0 0 1 69.2,520.4 L78.6,521.8 A525.8,525.8 0 0 0 78,526.3 Z" fill="#2ae889"/>
<path d="M69.2,520.4 A535.3,535.3 0 0 1 69.8,516.3 L79.2,517.8 A525.8,525.8 0 0 0 78.6,521.8 Z" fill="#2a37e8"/>
<path d="M69.8,516.3 A535.3,535.3 0 0 1 70.2,513.8 L79.6,515.3 A525.8,525.8 0 0 0 79.2,517.8 Z" fill="#2ae8cd"/>
<path d="M89.1,570.2 A510.6,510.6 0 0 1 89.8,559.8 L98.9,560.5 A501.4,501.4 0 0 0 98.3,570.7 Z" fill="#602ae8"/>
<path d="M89.8,559.8 A510.6,510.6 0 0 1 90.6,549.6 L99.8,550.4 A501.4,501.4 0 0 0 98.9,560.5 Z" fill="#2abfe8"/>
<path d="M90.6,549.6 A510.6,510.6 0 0 1 91.4,542.1 L100.5,543.1 A501.4,501.4 0 0 0 99.8,550.4 Z" fill="#e82ae8"/>
<path d="M91.4,542.1 A510.6,510.6 0 0 1 92.2,534.9 L101.3,536 A501.4,501.4 0 0 0 100.5,543.1 Z" fill="#a42ae8"/>
<path d="M92.2,534.9 A510.6,510.6 0 0 1 93.1,528.3 L102.2,529.6 A501.4,501.4 0 0 0 101.3,536 Z" fill="#2a7be8"/>
<path d="M93.1,528.3 A510.6,510.6 0 0 1 93.7,523.9 L102.8,525.3 A501.4,501.4 0 0 0 102.2,529.6 Z" fill="#2ae889"/>
<path d="M93.7,523.9 A510.6,510.6 0 0 1 94.3,520.1 L103.4,521.4 A501.4,501.4 0 0 0 102.8,525.3 Z" fill="#2a37e8"/>
<path d="M94.3,520.1 A510.6,510.6 0 0 1 94.6,517.7 L103.7,519.1 A501.4,501.4 0 0 0 103.4,521.4 Z" fill="#2ae8cd"/>
<path d="M89,759.7 A535.3,535.3 0 0 1 77.2,716.5 L86.4,714.4 A525.8,525.8 0 0 0 98,756.8 Z" fill="#2ae8cd"/>
<path d="M77.2,716.5 A535.3,535.3 0 0 1 71.4,687.7 L80.8,686.1 A525.8,525.8 0 0 0 86.4,714.4 Z" fill="#e82ae8"/>
<path d="M71.4,687.7 A535.3,535.3 0 0 1 68.4,668.1 L77.8,666.9 A525.8,525.8 0 0 0 80.8,686.1 Z" fill="#a42ae8"/>
<path d="M68.4,668.1 A535.3,535.3 0 0 1 66.2,648.7 L75.6,647.8 A525.8,525.8 0 0 0 77.8,666.9 Z" fill="#602ae8"/>
<path d="M66.2,648.7 A535.3,535.3 0 0 1 64.8,631.8 L74.3,631.2 A525.8,525.8 0 0 0 75.6,647.8 Z" fill="#2a7be8"/>
<path d="M64.8,631.8 A535.3,535.3 0 0 1 64,616.5 L73.5,616.1 A525.8,525.8 0 0 0 74.3,631.2 Z" fill="#2abfe8"/>
<path d="M64,616.5 A535.3,535.3 0 0 1 63.7,604.4 L73.2,604.2 A525.8,525.8 0 0 0 73.5,616.1 Z" fill="#2ae889"/>
<path d="M63.7,604.4 A535.3,535.3 0 0 1 63.7,592.8 L73.2,592.9 A525.8,525.8 0 0 0 73.2,604.2 Z" fill="#2a37e8"/>
<path d="M112.5,752.2 A510.6,510.6 0 0 1 101.2,711 L110.2,708.9 A501.4,501.4 0 0 0 121.3,749.4 Z" fill="#2ae8cd"/>
<path d="M101.2,711 A510.6,510.6 0 0 1 95.8,683.5 L104.8,682 A501.4,501.4 0 0 0 110.2,708.9 Z" fill="#e82ae8"/>
<path d="M95.8,683.5 A510.6,510.6 0 0 1 92.9,664.8 L102,663.6 A501.4,501.4 0 0 0 104.8,682 Z" fill="#a42ae8"/>
<path d="M92.9,664.8 A510.6,510.6 0 0 1 90.8,646.3 L99.9,645.4 A501.4,501.4 0 0 0 102,663.6 Z" fill="#602ae8"/>
<path d="M90.8,646.3 A510.6,510.6 0 0 1 89.5,630.2 L98.6,629.6 A501.4,501.4 0 0 0 99.9,645.4 Z" fill="#2a7be8"/>
<path d="M89.5,630.2 A510.6,510.6 0 0 1 88.7,615.6 L97.9,615.2 A501.4,501.4 0 0 0 98.6,629.6 Z" fill="#2abfe8"/>
<path d="M88.7,615.6 A510.6,510.6 0 0 1 88.4,604 L97.6,603.9 A501.4,501.4 0 0 0 97.9,615.2 Z" fill="#2ae889"/>
<path d="M88.4,604 A510.6,510.6 0 0 1 88.4,593 L97.6,593.1 A501.4,501.4 0 0 0 97.6,603.9 Z" fill="#2a37e8"/>
<path d="M312.7,1049.5 A535.3,535.3 0 0 1 263.1,1014 L269.1,1006.6 A525.8,525.8 0 0 0 317.8,1041.5 Z" fill="#2ae8cd"/>
<path d="M263.1,1014 A535.3,535.3 0 0 1 218.4,973.6 L225.1,966.9 A525.8,525.8 0 0 0 269.1,1006.6 Z" fill="#2a7be8"/>
<path d="M218.4,973.6 A535.3,535.3 0 0 1 186.5,938.3 L193.8,932.3 A525.8,525.8 0 0 0 225.1,966.9 Z" fill="#2abfe8"/>
<path d="M186.5,938.3 A535.3,535.3 0 0 1 158.6,901.5 L166.4,896.1 A525.8,525.8 0 0 0 193.8,932.3 Z" fill="#2ae889"/>
<path d="M158.6,901.5 A535.3,535.3 0 0 1 138.5,870.1 L146.7,865.3 A525.8,525.8 0 0 0 166.4,896.1 Z" fill="#2a37e8"/>
<path d="M138.5,870.1 A535.3,535.3 0 0 1 121.6,839.4 L130.1,835.1 A525.8,525.8 0 0 0 146.7,865.3 Z" fill="#e82ae8"/>
<path d="M121.6,839.4 A535.3,535.3 0 0 1 107.1,808.2 L115.8,804.5 A525.8,525.8 0 0 0 130.1,835.1 Z" fill="#602ae8"/>
<path d="M107.1,808.2 A535.3,535.3 0 0 1 96.8,782.6 L105.7,779.3 A525.8,525.8 0 0 0 115.8,804.5 Z" fill="#a42ae8"/>
<path d="M325.9,1028.6 A510.6,510.6 0 0 1 278.6,994.8 L284.4,987.6 A501.4,501.4 0 0 0 330.9,1020.9 Z" fill="#2ae8cd"/>
<path d="M278.6,994.8 A510.6,510.6 0 0 1 235.9,956.2 L242.5,949.7 A501.4,501.4 0 0 0 284.4,987.6 Z" fill="#2a7be8"/>
<path d="M235.9,956.2 A510.6,510.6 0 0 1 205.5,922.6 L212.6,916.7 A501.4,501.4 0 0 0 242.5,949.7 Z" fill="#2abfe8"/>
<path d="M205.5,922.6 A510.6,510.6 0 0 1 178.9,887.5 L186.5,882.2 A501.4,501.4 0 0 0 212.6,916.7 Z" fill="#2ae889"/>
<path d="M178.9,887.5 A510.6,510.6 0 0 1 159.8,857.5 L167.7,852.8 A501.4,501.4 0 0 0 186.5,882.2 Z" fill="#2a37e8"/>
<path d="M159.8,857.5 A510.6,510.6 0 0 1 143.6,828.2 L151.8,824 A501.4,501.4 0 0 0 167.7,852.8 Z" fill="#e82ae8"/>
<path d="M143.6,828.2 A510.6,510.6 0 0 1 129.8,798.5 L138.2,794.9 A501.4,501.4 0 0 0 151.8,824 Z" fill="#602ae8"/>
<path d="M129.8,798.5 A510.6,510.6 0 0 1 120,774 L128.6,770.8 A501.4,501.4 0 0 0 138.2,794.9 Z" fill="#a42ae8"/>
<path d="M587.4,1132.4 A535.3,535.3 0 0 1 501.1,1123.5 L502.8,1114.1 A525.8,525.8 0 0 0 587.6,1122.9 Z" fill="#2ae889"/>
<path d="M501.1,1123.5 A535.3,535.3 0 0 1 457,1113.3 L459.5,1104.2 A525.8,525.8 0 0 0 502.8,1114.1 Z" fill="#2a37e8"/>
<path d="M457,1113.3 A535.3,535.3 0 0 1 430,1105.1 L433,1096.1 A525.8,525.8 0 0 0 459.5,1104.2 Z" fill="#2abfe8"/>
<path d="M430,1105.1 A535.3,535.3 0 0 1 406.3,1096.6 L409.7,1087.7 A525.8,525.8 0 0 0 433,1096.1 Z" fill="#2a7be8"/>
<path d="M406.3,1096.6 A535.3,535.3 0 0 1 385.5,1088.1 L389.3,1079.4 A525.8,525.8 0 0 0 409.7,1087.7 Z" fill="#a42ae8"/>
<path d="M385.5,1088.1 A535.3,535.3 0 0 1 366.2,1079.2 L370.3,1070.7 A525.8,525.8 0 0 0 389.3,1079.4 Z" fill="#602ae8"/>
<path d="M366.2,1079.2 A535.3,535.3 0 0 1 348.3,1070.2 L352.7,1061.8 A525.8,525.8 0 0 0 370.3,1070.7 Z" fill="#e82ae8"/>
<path d="M348.3,1070.2 A535.3,535.3 0 0 1 334.6,1062.6 L339.3,1054.4 A525.8,525.8 0 0 0 352.7,1061.8 Z" fill="#2ae8cd"/>
<path d="M588,1107.7 A510.6,510.6 0 0 1 505.6,1099.2 L507.3,1090.1 A501.4,501.4 0 0 0 588.1,1098.5 Z" fill="#2ae889"/>
<path d="M505.6,1099.2 A510.6,510.6 0 0 1 463.6,1089.5 L466,1080.6 A501.4,501.4 0 0 0 507.3,1090.1 Z" fill="#2a37e8"/>
<path d="M463.6,1089.5 A510.6,510.6 0 0 1 437.8,1081.7 L440.7,1072.9 A501.4,501.4 0 0 0 466,1080.6 Z" fill="#2abfe8"/>
<path d="M437.8,1081.7 A510.6,510.6 0 0 1 415.2,1073.6 L418.5,1065 A501.4,501.4 0 0 0 440.7,1072.9 Z" fill="#2a7be8"/>
<path d="M415.2,1073.6 A510.6,510.6 0 0 1 395.3,1065.4 L399,1057 A501.4,501.4 0 0 0 418.5,1065 Z" fill="#a42ae8"/>
<path d="M395.3,1065.4 A510.6,510.6 0 0 1 376.9,1057 L380.9,1048.7 A501.4,501.4 0 0 0 399,1057 Z" fill="#602ae8"/>
<path d="M376.9,1057 A510.6,510.6 0 0 1 359.9,1048.3 L364.2,1040.2 A501.4,501.4 0 0 0 380.9,1048.7 Z" fill="#e82ae8"/>
<path d="M359.9,1048.3 A510.6,510.6 0 0 1 346.8,1041.2 L351.3,1033.2 A501.4,501.4 0 0 0 364.2,1040.2 Z" fill="#2ae8cd"/>
<path d="M822.1,1083.8 A535.3,535.3 0 0 1 740,1113.6 L737.5,1104.4 A525.8,525.8 0 0 0 818.1,1075.2 Z" fill="#2ae845"/>
<path d="M740,1113.6 A535.3,535.3 0 0 1 694.6,1123.9 L692.9,1114.6 A525.8,525.8 0 0 0 737.5,1104.4 Z" fill="#53e82a"/>
<path d="M694.6,1123.9 A535.3,535.3 0 0 1 654,1129.7 L653,1120.2 A525.8,525.8 0 0 0 692.9,1114.6 Z" fill="#e82a2a"/>
<path d="M654,1129.7 A535.3,535.3 0 0 1 635.2,1131.3 L634.6,1121.8 A525.8,525.8 0 0 0 653,1120.2 Z" fill="#e86e2a"/>
<path d="M635.2,1131.3 A535.3,535.3 0 0 1 623,1132 L622.6,1122.5 A525.8,525.8 0 0 0 634.6,1121.8 Z" fill="#97e82a"/>
<path d="M623,1132 A535.3,535.3 0 0 1 614.7,1132.3 L614.5,1122.8 A525.8,525.8 0 0 0 622.6,1122.5 Z" fill="#e8b22a"/>
<path d="M614.7,1132.3 A535.3,535.3 0 0 1 610,1132.4 L609.8,1122.9 A525.8,525.8 0 0 0 614.5,1122.8 Z" fill="#dae82a"/>
<path d="M817.1,1072.9 A523.3,523.3 0 0 1 736.9,1102 L734.4,1093 A514,514 0 0 0 813.2,1064.4 Z" fill="#2ae845"/>
<path d="M736.9,1102 A523.3,523.3 0 0 1 692.4,1112.1 L690.8,1102.9 A514,514 0 0 0 734.4,1093 Z" fill="#53e82a"/>
<path d="M692.4,1112.1 A523.3,523.3 0 0 1 652.8,1117.7 L651.8,1108.5 A514,514 0 0 0 690.8,1102.9 Z" fill="#e82a2a"/>
<path d="M652.8,1117.7 A523.3,523.3 0 0 1 634.4,1119.3 L633.8,1110 A514,514 0 0 0 651.8,1108.5 Z" fill="#e86e2a"/>
<path d="M634.4,1119.3 A523.3,523.3 0 0 1 622.5,1120 L622.1,1110.7 A514,514 0 0 0 633.8,1110 Z" fill="#97e82a"/>
<path d="M622.5,1120 A523.3,523.3 0 0 1 614.4,1120.3 L614.1,1111 A514,514 0 0 0 622.1,1110.7 Z" fill="#e8b22a"/>
<path d="M614.4,1120.3 A523.3,523.3 0 0 1 609.8,1120.4 L609.6,1111.1 A514,514 0 0 0 614.1,1111 Z" fill="#dae82a"/>
<path d="M1008.7,941.7 A535.3,535.3 0 0 1 967,986 L960.5,979.1 A525.8,525.8 0 0 0 1001.4,935.6 Z" fill="#53e82a"/>
<path d="M967,986 A535.3,535.3 0 0 1 933.3,1015.3 L927.3,1007.9 A525.8,525.8 0 0 0 960.5,979.1 Z" fill="#97e82a"/>
<path d="M933.3,1015.3 A535.3,535.3 0 0 1 902.3,1038.3 L897,1030.4 A525.8,525.8 0 0 0 927.3,1007.9 Z" fill="#e82a2a"/>
<path d="M902.3,1038.3 A535.3,535.3 0 0 1 878.1,1054 L873.2,1045.8 A525.8,525.8 0 0 0 897,1030.4 Z" fill="#e86e2a"/>
<path d="M878.1,1054 A535.3,535.3 0 0 1 859.7,1064.7 L855,1056.4 A525.8,525.8 0 0 0 873.2,1045.8 Z" fill="#e8b22a"/>
<path d="M859.7,1064.7 A535.3,535.3 0 0 1 846,1072.1 L841.6,1063.7 A525.8,525.8 0 0 0 855,1056.4 Z" fill="#2ae845"/>
<path d="M846,1072.1 A535.3,535.3 0 0 1 843.8,1073.3 L839.4,1064.8 A525.8,525.8 0 0 0 841.6,1063.7 Z" fill="#dae82a"/>
<path d="M999.5,934 A523.3,523.3 0 0 1 958.7,977.2 L952.3,970.5 A514,514 0 0 0 992.4,928 Z" fill="#53e82a"/>
<path d="M958.7,977.2 A523.3,523.3 0 0 1 925.8,1005.9 L920,998.7 A514,514 0 0 0 952.3,970.5 Z" fill="#97e82a"/>
<path d="M925.8,1005.9 A523.3,523.3 0 0 1 895.5,1028.4 L890.3,1020.7 A514,514 0 0 0 920,998.7 Z" fill="#e82a2a"/>
<path d="M895.5,1028.4 A523.3,523.3 0 0 1 871.9,1043.7 L867,1035.8 A514,514 0 0 0 890.3,1020.7 Z" fill="#e86e2a"/>
<path d="M871.9,1043.7 A523.3,523.3 0 0 1 853.8,1054.3 L849.3,1046.1 A514,514 0 0 0 867,1035.8 Z" fill="#e8b22a"/>
<path d="M853.8,1054.3 A523.3,523.3 0 0 1 840.5,1061.5 L836.2,1053.2 A514,514 0 0 0 849.3,1046.1 Z" fill="#2ae845"/>
<path d="M840.5,1061.5 A523.3,523.3 0 0 1 838.3,1062.6 L834,1054.3 A514,514 0 0 0 836.2,1053.2 Z" fill="#dae82a"/>
<path d="M1103.3,776.7 A535.3,535.3 0 0 1 1085.5,820.4 L1076.9,816.5 A525.8,525.8 0 0 0 1094.4,773.5 Z" fill="#53e82a"/>
<path d="M1085.5,820.4 A535.3,535.3 0 0 1 1066.1,858.7 L1057.8,854.1 A525.8,525.8 0 0 0 1076.9,816.5 Z" fill="#e82a2a"/>
<path d="M1066.1,858.7 A535.3,535.3 0 0 1 1051.7,882.8 L1043.7,877.7 A525.8,525.8 0 0 0 1057.8,854.1 Z" fill="#2ae845"/>
<path d="M1051.7,882.8 A535.3,535.3 0 0 1 1043.4,895.6 L1035.5,890.3 A525.8,525.8 0 0 0 1043.7,877.7 Z" fill="#97e82a"/>
<path d="M1043.4,895.6 A535.3,535.3 0 0 1 1034.9,907.8 L1027.2,902.3 A525.8,525.8 0 0 0 1035.5,890.3 Z" fill="#e86e2a"/>
<path d="M1034.9,907.8 A535.3,535.3 0 0 1 1028.7,916.5 L1021,910.8 A525.8,525.8 0 0 0 1027.2,902.3 Z" fill="#dae82a"/>
<path d="M1028.7,916.5 A535.3,535.3 0 0 1 1024.2,922.4 L1016.6,916.6 A525.8,525.8 0 0 0 1021,910.8 Z" fill="#e8b22a"/>
<path d="M1092,772.7 A523.3,523.3 0 0 1 1074.6,815.4 L1066.2,811.5 A514,514 0 0 0 1083.2,769.5 Z" fill="#53e82a"/>
<path d="M1074.6,815.4 A523.3,523.3 0 0 1 1055.6,852.9 L1047.5,848.3 A514,514 0 0 0 1066.2,811.5 Z" fill="#e82a2a"/>
<path d="M1055.6,852.9 A523.3,523.3 0 0 1 1041.6,876.4 L1033.7,871.4 A514,514 0 0 0 1047.5,848.3 Z" fill="#2ae845"/>
<path d="M1041.6,876.4 A523.3,523.3 0 0 1 1033.4,888.9 L1025.7,883.8 A514,514 0 0 0 1033.7,871.4 Z" fill="#97e82a"/>
<path d="M1033.4,888.9 A523.3,523.3 0 0 1 1025.2,900.9 L1017.6,895.5 A514,514 0 0 0 1025.7,883.8 Z" fill="#e86e2a"/>
<path d="M1025.2,900.9 A523.3,523.3 0 0 1 1019,909.3 L1011.6,903.8 A514,514 0 0 0 1017.6,895.5 Z" fill="#dae82a"/>
<path d="M1019,909.3 A523.3,523.3 0 0 1 1014.7,915.1 L1007.3,909.5 A514,514 0 0 0 1011.6,903.8 Z" fill="#e8b22a"/>
<path d="M1134,580.7 A535.3,535.3 0 0 1 1132.6,640.1 L1123.1,639.3 A525.8,525.8 0 0 0 1124.5,581 Z" fill="#53e82a"/>
<path d="M1132.6,640.1 A535.3,535.3 0 0 1 1127.2,684 L1117.8,682.5 A525.8,525.8 0 0 0 1123.1,639.3 Z" fill="#e82a2a"/>
<path d="M1127.2,684 A535.3,535.3 0 0 1 1122.6,708.4 L1113.3,706.4 A525.8,525.8 0 0 0 1117.8,682.5 Z" fill="#2ae845"/>
<path d="M1122.6,708.4 A535.3,535.3 0 0 1 1118.9,724.7 L1109.7,722.4 A525.8,525.8 0 0 0 1113.3,706.4 Z" fill="#97e82a"/>
<path d="M1118.9,724.7 A535.3,535.3 0 0 1 1114.9,739.8 L1105.8,737.3 A525.8,525.8 0 0 0 1109.7,722.4 Z" fill="#e86e2a"/>
<path d="M1114.9,739.8 A535.3,535.3 0 0 1 1112.5,748.3 L1103.4,745.6 A525.8,525.8 0 0 0 1105.8,737.3 Z" fill="#e8b22a"/>
<path d="M1112.5,748.3 A535.3,535.3 0 0 1 1110.6,754.8 L1101.5,752 A525.8,525.8 0 0 0 1103.4,745.6 Z" fill="#dae82a"/>
<path d="M1122.1,581 A523.3,523.3 0 0 1 1120.6,639.1 L1111.3,638.4 A514,514 0 0 0 1112.8,581.3 Z" fill="#53e82a"/>
<path d="M1120.6,639.1 A523.3,523.3 0 0 1 1115.4,682.1 L1106.2,680.6 A514,514 0 0 0 1111.3,638.4 Z" fill="#e82a2a"/>
<path d="M1115.4,682.1 A523.3,523.3 0 0 1 1110.9,705.9 L1101.8,703.9 A514,514 0 0 0 1106.2,680.6 Z" fill="#2ae845"/>
<path d="M1110.9,705.9 A523.3,523.3 0 0 1 1107.2,721.8 L1098.2,719.6 A514,514 0 0 0 1101.8,703.9 Z" fill="#97e82a"/>
<path d="M1107.2,721.8 A523.3,523.3 0 0 1 1103.4,736.6 L1094.4,734.2 A514,514 0 0 0 1098.2,719.6 Z" fill="#e86e2a"/>
<path d="M1103.4,736.6 A523.3,523.3 0 0 1 1101,744.9 L1092.1,742.2 A514,514 0 0 0 1094.4,734.2 Z" fill="#e8b22a"/>
<path d="M1101,744.9 A523.3,523.3 0 0 1 1099.1,751.2 L1090.2,748.5 A514,514 0 0 0 1092.1,742.2 Z" fill="#dae82a"/>
<path d="M1098.8,405.5 A535.3,535.3 0 0 1 1113.2,448.2 L1104,450.9 A525.8,525.8 0 0 0 1089.9,408.9 Z" fill="#2ae845"/>
<path d="M1113.2,448.2 A535.3,535.3 0 0 1 1122.3,484.3 L1113,486.3 A525.8,525.8 0 0 0 1104,450.9 Z" fill="#53e82a"/>
<path d="M1122.3,484.3 A535.3,535.3 0 0 1 1128.2,516.6 L1118.8,518 A525.8,525.8 0 0 0 1113,486.3 Z" fill="#e82a2a"/>
<path d="M1128.2,516.6 A535.3,535.3 0 0 1 1130.5,533.2 L1121,534.3 A525.8,525.8 0 0 0 1118.8,518 Z" fill="#e86e2a"/>
<path d="M1130.5,533.2 A535.3,535.3 0 0 1 1131.7,544.7 L1122.3,545.6 A525.8,525.8 0 0 0 1121,534.3 Z" fill="#97e82a"/>
<path d="M1131.7,544.7 A535.3,535.3 0 0 1 1132.5,553.1 L1123,553.8 A525.8,525.8 0 0 0 1122.3,545.6 Z" fill="#e8b22a"/>
<path d="M1132.5,553.1 A535.3,535.3 0 0 1 1132.8,557.2 L1123.3,557.9 A525.8,525.8 0 0 0 1123,553.8 Z" fill="#dae82a"/>
<path d="M1087.6,409.8 A523.3,523.3 0 0 1 1101.6,451.6 L1092.7,454.2 A514,514 0 0 0 1078.9,413.2 Z" fill="#2ae845"/>
<path d="M1101.6,451.6 A523.3,523.3 0 0 1 1110.5,486.8 L1101.4,488.8 A514,514 0 0 0 1092.7,454.2 Z" fill="#53e82a"/>
<path d="M1110.5,486.8 A523.3,523.3 0 0 1 1116.3,518.4 L1107.1,519.8 A514,514 0 0 0 1101.4,488.8 Z" fill="#e82a2a"/>
<path d="M1116.3,518.4 A523.3,523.3 0 0 1 1118.5,534.6 L1109.3,535.8 A514,514 0 0 0 1107.1,519.8 Z" fill="#e86e2a"/>
<path d="M1118.5,534.6 A523.3,523.3 0 0 1 1119.8,545.9 L1110.5,546.8 A514,514 0 0 0 1109.3,535.8 Z" fill="#97e82a"/>
<path d="M1119.8,545.9 A523.3,523.3 0 0 1 1120.5,554.1 L1111.3,554.8 A514,514 0 0 0 1110.5,546.8 Z" fill="#e8b22a"/>
<path d="M1120.5,554.1 A523.3,523.3 0 0 1 1120.8,558.1 L1111.6,558.8 A514,514 0 0 0 1111.3,554.8 Z" fill="#dae82a"/>
<path d="M976,217.2 A535.3,535.3 0 0 1 1027.5,276.3 L1019.9,282 A525.8,525.8 0 0 0 969.3,223.9 Z" fill="#e82a2a"/>
<path d="M1027.5,276.3 A535.3,535.3 0 0 1 1046.8,303.9 L1038.9,309.1 A525.8,525.8 0 0 0 1019.9,282 Z" fill="#53e82a"/>
<path d="M1046.8,303.9 A535.3,535.3 0 0 1 1059.2,323.7 L1051,328.6 A525.8,525.8 0 0 0 1038.9,309.1 Z" fill="#e86e2a"/>
<path d="M1059.2,323.7 A535.3,535.3 0 0 1 1069.5,341.8 L1061.1,346.3 A525.8,525.8 0 0 0 1051,328.6 Z" fill="#2ae845"/>
<path d="M1069.5,341.8 A535.3,535.3 0 0 1 1078.3,358.9 L1069.8,363.1 A525.8,525.8 0 0 0 1061.1,346.3 Z" fill="#97e82a"/>
<path d="M1078.3,358.9 A535.3,535.3 0 0 1 1084.5,371.7 L1075.9,375.7 A525.8,525.8 0 0 0 1069.8,363.1 Z" fill="#e8b22a"/>
<path d="M1084.5,371.7 A535.3,535.3 0 0 1 1088.9,381.4 L1080.2,385.3 A525.8,525.8 0 0 0 1075.9,375.7 Z" fill="#dae82a"/>
<path d="M967.5,225.7 A523.3,523.3 0 0 1 1017.9,283.5 L1010.4,289.1 A514,514 0 0 0 961,232.3 Z" fill="#e82a2a"/>
<path d="M1017.9,283.5 A523.3,523.3 0 0 1 1036.8,310.5 L1029,315.6 A514,514 0 0 0 1010.4,289.1 Z" fill="#53e82a"/>
<path d="M1036.8,310.5 A523.3,523.3 0 0 1 1048.9,329.9 L1040.9,334.6 A514,514 0 0 0 1029,315.6 Z" fill="#e86e2a"/>
<path d="M1048.9,329.9 A523.3,523.3 0 0 1 1058.9,347.5 L1050.7,352 A514,514 0 0 0 1040.9,334.6 Z" fill="#2ae845"/>
<path d="M1058.9,347.5 A523.3,523.3 0 0 1 1067.6,364.2 L1059.2,368.4 A514,514 0 0 0 1050.7,352 Z" fill="#97e82a"/>
<path d="M1067.6,364.2 A523.3,523.3 0 0 1 1073.6,376.7 L1065.2,380.6 A514,514 0 0 0 1059.2,368.4 Z" fill="#e8b22a"/>
<path d="M1073.6,376.7 A523.3,523.3 0 0 1 1077.9,386.3 L1069.4,390 A514,514 0 0 0 1065.2,380.6 Z" fill="#dae82a"/>
<path d="M812.8,106.4 A535.3,535.3 0 0 1 859.2,129.4 L854.6,137.7 A525.8,525.8 0 0 0 809,115.2 Z" fill="#e82a2a"/>
<path d="M859.2,129.4 A535.3,535.3 0 0 1 883.7,143.9 L878.7,151.9 A525.8,525.8 0 0 0 854.6,137.7 Z" fill="#e86e2a"/>
<path d="M883.7,143.9 A535.3,535.3 0 0 1 906.7,159.2 L901.2,166.9 A525.8,525.8 0 0 0 878.7,151.9 Z" fill="#53e82a"/>
<path d="M906.7,159.2 A535.3,535.3 0 0 1 924.7,172.4 L918.9,179.9 A525.8,525.8 0 0 0 901.2,166.9 Z" fill="#2ae845"/>
<path d="M924.7,172.4 A535.3,535.3 0 0 1 940.3,184.8 L934.2,192.1 A525.8,525.8 0 0 0 918.9,179.9 Z" fill="#97e82a"/>
<path d="M940.3,184.8 A535.3,535.3 0 0 1 951.6,194.4 L945.4,201.6 A525.8,525.8 0 0 0 934.2,192.1 Z" fill="#e8b22a"/>
<path d="M951.6,194.4 A535.3,535.3 0 0 1 957.3,199.5 L951,206.6 A525.8,525.8 0 0 0 945.4,201.6 Z" fill="#dae82a"/>
<path d="M808,117.4 A523.3,523.3 0 0 1 853.4,139.9 L848.9,148 A514,514 0 0 0 804.3,126 Z" fill="#e82a2a"/>
<path d="M853.4,139.9 A523.3,523.3 0 0 1 877.3,154.1 L872.4,161.9 A514,514 0 0 0 848.9,148 Z" fill="#e86e2a"/>
<path d="M877.3,154.1 A523.3,523.3 0 0 1 899.8,169 L894.4,176.6 A514,514 0 0 0 872.4,161.9 Z" fill="#53e82a"/>
<path d="M899.8,169 A523.3,523.3 0 0 1 917.4,181.9 L911.8,189.3 A514,514 0 0 0 894.4,176.6 Z" fill="#2ae845"/>
<path d="M917.4,181.9 A523.3,523.3 0 0 1 932.6,194 L926.7,201.2 A514,514 0 0 0 911.8,189.3 Z" fill="#97e82a"/>
<path d="M932.6,194 A523.3,523.3 0 0 1 943.7,203.5 L937.6,210.5 A514,514 0 0 0 926.7,201.2 Z" fill="#e8b22a"/>
<path d="M943.7,203.5 A523.3,523.3 0 0 1 949.3,208.4 L943.1,215.3 A514,514 0 0 0 937.6,210.5 Z" fill="#dae82a"/>
<path d="M599.2,61.9 A535.3,535.3 0 0 1 660.8,65.5 L659.7,74.9 A525.8,525.8 0 0 0 599.2,71.4 Z" fill="#e82a2a"/>
<path d="M660.8,65.5 A535.3,535.3 0 0 1 696.2,70.8 L694.5,80.1 A525.8,525.8 0 0 0 659.7,74.9 Z" fill="#53e82a"/>
<path d="M696.2,70.8 A535.3,535.3 0 0 1 725.5,77.1 L723.3,86.3 A525.8,525.8 0 0 0 694.5,80.1 Z" fill="#97e82a"/>
<path d="M725.5,77.1 A535.3,535.3 0 0 1 749.4,83.5 L746.8,92.6 A525.8,525.8 0 0 0 723.3,86.3 Z" fill="#e86e2a"/>
<path d="M749.4,83.5 A535.3,535.3 0 0 1 768.9,89.6 L765.8,98.6 A525.8,525.8 0 0 0 746.8,92.6 Z" fill="#2ae845"/>
<path d="M768.9,89.6 A535.3,535.3 0 0 1 784.6,95.1 L781.3,104 A525.8,525.8 0 0 0 765.8,98.6 Z" fill="#e8b22a"/>
<path d="M784.6,95.1 A535.3,535.3 0 0 1 792.1,97.9 L788.6,106.8 A525.8,525.8 0 0 0 781.3,104 Z" fill="#dae82a"/>
<path d="M599.2,73.9 A523.3,523.3 0 0 1 659.4,77.4 L658.4,86.6 A514,514 0 0 0 599.2,83.2 Z" fill="#e82a2a"/>
<path d="M659.4,77.4 A523.3,523.3 0 0 1 694,82.6 L692.3,91.7 A514,514 0 0 0 658.4,86.6 Z" fill="#53e82a"/>
<path d="M694,82.6 A523.3,523.3 0 0 1 722.7,88.7 L720.5,97.8 A514,514 0 0 0 692.3,91.7 Z" fill="#97e82a"/>
<path d="M722.7,88.7 A523.3,523.3 0 0 1 746.1,95 L743.4,103.9 A514,514 0 0 0 720.5,97.8 Z" fill="#e86e2a"/>
<path d="M746.1,95 A523.3,523.3 0 0 1 765.1,100.9 L762.1,109.8 A514,514 0 0 0 743.4,103.9 Z" fill="#2ae845"/>
<path d="M765.1,100.9 A523.3,523.3 0 0 1 780.4,106.4 L777.2,115.1 A514,514 0 0 0 762.1,109.8 Z" fill="#e8b22a"/>
<path d="M780.4,106.4 A523.3,523.3 0 0 1 787.7,109.1 L784.4,117.8 A514,514 0 0 0 777.2,115.1 Z" fill="#dae82a"/>
</g>
<path d="M277.3,269.8L275.2,267.7 M295.3,253.1L294,251.6 M314.1,237.3L312.3,234.9 M333.8,222.5L332.7,220.9 M354.3,208.9L352.7,206.3 M375.4,196.3L374.4,194.6 M397.2,184.9L395.9,182.2 M419.6,174.7L418.8,172.9 M442.5,165.7L441.4,162.9 M465.8,158L465.2,156 M489.5,151.4L488.8,148.5 M513.5,146.2L513.2,144.3 M537.8,142.3L537.4,139.3 M562.3,139.7L562.1,137.7 M181.8,405.8L179.1,404.5 M192.7,383.7L190.9,382.8 M204.7,362.2L202.1,360.7 M217.8,341.5L216.2,340.3 M232.1,321.4L229.7,319.6 M247.4,302.2L245.9,300.9 M263.7,283.8L261.5,281.7 M149,506.8L146.1,506.2 M154.5,482.8L152.5,482.3 M161.2,459.2L158.4,458.3 M169.3,435.9L167.4,435.2 M140.6,572.9L137.6,572.8 M142.6,548.4L140.6,548.2 M161.7,736.5L158.8,737.4 M154.8,712.9L152.9,713.4 M149.3,688.9L146.3,689.5 M145,664.7L143,665 M142,640.3L139,640.6 M140.4,615.8L138.4,615.9 M353.5,985L351.9,987.6 M333.1,971.3L332,973 M313.5,956.6L311.6,958.9 M294.6,940.8L293.3,942.3 M276.7,924L274.5,926.1 M259.6,906.2L258.1,907.6 M243.6,887.6L241.2,889.5 M228.5,868.2L226.9,869.3 M214.5,847.9L212,849.6 M201.7,827L199.9,828 M189.9,805.4L187.2,806.7 M179.4,783.2L177.5,784 M170,760.4L167.2,761.5 M589.1,1056.1L589,1059.1 M564.5,1054.9L564.4,1056.9 M540,1052.4L539.7,1055.4 M515.7,1048.6L515.4,1050.6 M491.7,1043.5L491,1046.4 M467.9,1037.1L467.4,1039 M444.6,1029.4L443.6,1032.3 M421.6,1020.6L420.9,1022.4 M399.2,1010.4L397.9,1013.1 M377.4,999.2L376.4,1000.9 M790.3,1014.4L791.5,1017.2 M767.7,1024.1L768.4,1025.9 M744.6,1032.5L745.5,1035.4 M721,1039.7L721.6,1041.6 M697.2,1045.6L697.8,1048.5 M673,1050.2L673.3,1052.2 M648.7,1053.5L649,1056.5 M624.1,1055.5L624.3,1057.5 M950.3,892.6L952.6,894.5 M934,911L935.4,912.4 M916.7,928.5L918.8,930.7 M898.5,945L899.8,946.5 M879.4,960.6L881.3,962.9 M859.6,975.1L860.7,976.7 M839,988.5L840.5,991 M817.7,1000.8L818.6,1002.5 M1031.4,751.1L1034.3,752.1 M1022.6,774L1024.4,774.8 M1012.5,796.5L1015.2,797.8 M1001.2,818.3L1003,819.3 M988.8,839.5L991.4,841.1 M975.3,860.1L976.9,861.2 M1057.8,583L1060.8,582.9 M1057.9,607.6L1059.9,607.7 M1056.7,632.2L1059.7,632.4 M1054.1,656.6L1056.1,656.9 M1050.3,680.9L1053.2,681.5 M1045.2,705L1047.1,705.4 M1038.8,728.7L1041.6,729.6 M1027.6,432.9L1030.4,431.8 M1035.8,456L1037.7,455.4 M1042.7,479.6L1045.6,478.9 M1048.3,503.6L1050.3,503.2 M1052.7,527.8L1055.7,527.3 M1055.8,552.2L1057.8,552 M922.3,271.3L924.4,269.2 M939.2,289.1L940.7,287.8 M955.3,307.8L957.6,305.9 M970.2,327.3L971.9,326.1 M984.2,347.5L986.7,345.9 M997,368.5L998.7,367.5 M1008.7,390.2L1011.3,388.8 M782.3,176.4L783.5,173.6 M804.6,186.8L805.5,185 M826.3,198.4L827.8,195.8 M847.3,211.2L848.4,209.5 M867.6,225L869.4,222.6 M887.2,239.9L888.4,238.4 M905.9,255.9L907.9,253.7 M599.2,138.2L599.2,135.2 M623.7,138.9L623.8,136.9 M648.3,140.9L648.6,137.9 M672.6,144.1L672.9,142.2 M696.8,148.7L697.4,145.8 M720.7,154.6L721.2,152.7 M744.2,161.8L745.1,158.9 M223.8,215.4L221.3,212.8 M229.5,209.9L228.2,208.6 M235.2,204.5L234,203.2 M241,199.2L239.8,197.9 M246.9,194L245.7,192.7 M252.8,188.9L250.5,186.1 M258.9,183.8L257.7,182.5 M265,178.9L263.9,177.5 M271.2,174L270.1,172.6 M277.4,169.3L276.3,167.8 M283.8,164.6L281.6,161.7 M290.1,160L289.1,158.5 M296.6,155.5L295.6,154 M303.1,151.1L302.1,149.6 M309.7,146.8L308.7,145.3 M316.4,142.6L314.5,139.5 M323.1,138.5L322.1,137 M329.8,134.5L328.9,132.9 M336.7,130.6L335.8,129 M343.6,126.8L342.7,125.2 M350.5,123.1L348.8,119.9 M357.5,119.5L356.7,117.9 M364.5,116L363.8,114.4 M371.6,112.6L370.9,111 M378.8,109.3L378,107.7 M386,106.1L384.5,102.8 M393.2,103L392.5,101.4 M400.5,100.1L399.8,98.4 M407.8,97.2L407.2,95.5 M415.2,94.4L414.6,92.8 M422.6,91.8L421.4,88.4 M430.1,89.3L429.5,87.6 M437.5,86.8L437,85.1 M445.1,84.5L444.5,82.8 M452.6,82.3L452.1,80.6 M460.2,80.2L459.2,76.7 M467.8,78.2L467.4,76.5 M475.4,76.4L475,74.6 M483.1,74.6L482.7,72.8 M490.8,73L490.4,71.2 M498.5,71.4L497.8,67.9 M506.2,70L505.9,68.2 M514,68.7L513.7,66.9 M521.8,67.5L521.5,65.7 M529.6,66.4L529.3,64.6 M537.4,65.5L537,61.9 M545.2,64.6L545,62.8 M553,63.9L552.9,62.1 M560.9,63.3L560.7,61.5 M568.7,62.8L568.6,61 M576.6,62.4L576.4,58.8 M112.5,373.9L109.2,372.4 M113.9,370.8L112.3,370.1 M115.4,367.7L113.8,366.9 M116.9,364.6L115.3,363.8 M118.4,361.5L116.8,360.7 M119.9,358.4L116.7,356.8 M121.5,355.3L119.9,354.5 M123,352.2L121.4,351.4 M124.6,349.2L123,348.3 M126.2,346.1L124.6,345.3 M127.9,343.1L124.7,341.4 M129.5,340.1L127.9,339.2 M131.2,337L129.6,336.2 M132.9,334L131.3,333.2 M134.6,331L133,330.1 M136.3,328.1L133.2,326.2 M138,325.1L136.5,324.2 M139.8,322.1L138.2,321.2 M141.6,319.2L140,318.2 M143.4,316.2L141.8,315.3 M145.2,313.3L142.1,311.4 M147,310.4L145.5,309.4 M148.9,307.5L147.4,306.5 M150.8,304.6L149.3,303.6 M152.7,301.7L151.2,300.7 M154.6,298.8L151.6,296.8 M156.5,296L155,295 M158.4,293.1L157,292.1 M160.4,290.3L158.9,289.3 M162.4,287.5L160.9,286.4 M164.4,284.7L161.5,282.6 M166.4,281.9L165,280.8 M168.5,279.1L167,278 M170.5,276.3L169.1,275.3 M172.6,273.6L171.2,272.5 M174.7,270.8L171.8,268.7 M176.8,268.1L175.4,267 M178.9,265.4L177.5,264.3 M181.1,262.7L179.7,261.6 M183.2,260L181.8,258.9 M185.4,257.4L182.6,255.1 M187.6,254.7L186.2,253.5 M189.8,252.1L188.5,250.9 M192.1,249.4L190.7,248.3 M194.3,246.8L192.9,245.6 M196.6,244.2L193.9,241.8 M198.9,241.6L197.5,240.4 M201.2,239.1L199.8,237.9 M203.5,236.5L202.1,235.3 M205.8,234L204.5,232.7 M208.1,231.4L205.5,229 M74.2,491.8L70.7,491.1 M76.3,481.9L72.7,481.2 M78.5,472.2L75,471.3 M80.9,462.4L77.5,461.5 M83.6,452.7L80.1,451.8 M86.4,443.1L82.9,442.1 M89.3,433.5L85.9,432.4 M92.5,424L89.1,422.8 M95.8,414.5L92.4,413.3 M99.3,405.1L96,403.8 M103,395.8L99.7,394.5 M64.4,568.9L60.9,568.7 M64.8,563.4L61.2,563.1 M65.1,557.8L61.6,557.6 M65.6,552.3L62,552 M66.1,546.8L62.5,546.5 M66.6,541.3L63,540.9 M67.2,535.8L63.7,535.4 M67.9,530.3L64.3,529.8 M68.6,524.8L65.1,524.3 M69.4,519.3L65.8,518.8 M70.2,513.8L66.7,513.3 M89,759.7L85.5,760.8 M87.9,756.4L86.2,757 M86.9,753.2L85.2,753.7 M86,750L84.2,750.5 M85,746.7L83.3,747.2 M84.1,743.5L80.6,744.4 M83.2,740.2L81.4,740.7 M82.3,736.9L80.5,737.4 M81.4,733.6L79.6,734.1 M80.5,730.4L78.8,730.8 M79.7,727.1L76.2,728 M78.9,723.8L77.1,724.2 M78.1,720.5L76.3,720.9 M77.3,717.2L75.6,717.6 M76.6,713.9L74.8,714.3 M75.8,710.6L72.3,711.3 M75.1,707.3L73.4,707.6 M74.5,703.9L72.7,704.3 M73.8,700.6L72,701 M73.1,697.3L71.4,697.6 M72.5,694L69,694.6 M71.9,690.6L70.1,690.9 M71.3,687.3L69.6,687.6 M70.8,683.9L69,684.2 M70.2,680.6L68.5,680.9 M69.7,677.2L66.2,677.8 M69.2,673.9L67.4,674.2 M68.7,670.5L67,670.8 M68.3,667.2L66.5,667.4 M67.9,663.8L66.1,664 M67.5,660.5L63.9,660.9 M67.1,657.1L65.3,657.3 M66.7,653.7L64.9,653.9 M66.3,650.3L64.6,650.5 M66,647L64.2,647.1 M65.7,643.6L62.1,643.9 M65.4,640.2L63.6,640.4 M65.2,636.8L63.4,637 M64.9,633.5L63.1,633.6 M64.7,630.1L62.9,630.2 M64.5,626.7L60.9,626.9 M64.3,623.3L62.5,623.4 M64.2,619.9L62.4,620 M64,616.5L62.3,616.6 M63.9,613.1L62.1,613.2 M63.8,609.8L60.2,609.8 M63.8,606.4L62,606.4 M63.7,603L61.9,603 M63.7,599.6L61.9,599.6 M63.7,596.2L61.9,596.2 M63.7,592.8L60.1,592.8 M312.7,1049.5L310.8,1052.6 M306.8,1045.7L305.9,1047.3 M301,1041.9L300,1043.4 M295.2,1038L294.2,1039.4 M289.5,1034L288.5,1035.4 M283.8,1029.9L281.7,1032.8 M278.2,1025.7L277.1,1027.2 M272.6,1021.5L271.5,1022.9 M267.1,1017.2L266,1018.6 M261.7,1012.8L260.5,1014.2 M256.3,1008.4L254,1011.2 M250.9,1003.9L249.8,1005.2 M245.6,999.3L244.5,1000.7 M240.4,994.7L239.2,996 M235.3,989.9L234,991.3 M230.2,985.2L227.7,987.8 M225.1,980.3L223.9,981.6 M220.2,975.4L218.9,976.7 M215.3,970.4L214,971.7 M210.4,965.4L209.1,966.6 M205.6,960.3L203,962.7 M200.9,955.1L199.6,956.3 M196.3,949.9L194.9,951 M191.7,944.6L190.4,945.7 M187.2,939.2L185.8,940.4 M182.8,933.8L180,936.1 M178.4,928.4L177,929.5 M174.1,922.8L172.7,923.9 M169.9,917.3L168.5,918.3 M165.8,911.6L164.3,912.7 M161.7,905.9L158.8,908 M157.7,900.2L156.2,901.2 M153.8,894.4L152.3,895.4 M150,888.6L148.4,889.6 M146.2,882.7L144.7,883.7 M142.5,876.8L139.4,878.6 M138.9,870.8L137.3,871.7 M135.4,864.7L133.8,865.6 M131.9,858.7L130.3,859.5 M128.5,852.5L126.9,853.4 M125.2,846.4L122,848.1 M122,840.2L120.4,841 M118.9,833.9L117.3,834.7 M115.8,827.6L114.2,828.4 M112.9,821.3L111.2,822.1 M110,814.9L106.7,816.4 M107.2,808.5L105.5,809.2 M104.5,802.1L102.8,802.8 M101.8,795.6L100.2,796.3 M99.3,789.1L97.6,789.8 M96.8,782.6L93.4,783.8 M587.4,1132.4L587.3,1136 M582.1,1132.2L582.1,1134 M576.8,1132L576.7,1133.8 M571.5,1131.8L571.4,1133.6 M566.2,1131.5L566.1,1133.3 M561,1131.1L560.7,1134.7 M555.7,1130.7L555.5,1132.5 M550.4,1130.3L550.2,1132.1 M545.1,1129.8L544.9,1131.6 M539.8,1129.2L539.6,1131 M534.6,1128.6L534.1,1132.2 M529.3,1127.9L529.1,1129.7 M524.1,1127.2L523.8,1129 M518.8,1126.5L518.6,1128.2 M513.6,1125.6L513.3,1127.4 M508.4,1124.8L507.8,1128.3 M503.1,1123.8L502.8,1125.6 M497.9,1122.9L497.6,1124.6 M492.7,1121.8L492.4,1123.6 M487.6,1120.8L487.2,1122.5 M482.4,1119.6L481.6,1123.2 M477.2,1118.5L476.8,1120.2 M472.1,1117.2L471.6,1119 M466.9,1115.9L466.5,1117.7 M461.8,1114.6L461.3,1116.4 M456.7,1113.2L455.7,1116.7 M451.6,1111.8L451.1,1113.5 M446.5,1110.3L446,1112 M441.4,1108.8L440.9,1110.5 M436.4,1107.2L435.8,1108.9 M431.3,1105.6L430.2,1109 M426.3,1103.9L425.7,1105.6 M421.3,1102.1L420.7,1103.8 M416.3,1100.4L415.7,1102 M411.3,1098.5L410.7,1100.2 M406.4,1096.6L405.1,1100 M401.4,1094.7L400.8,1096.4 M396.5,1092.7L395.8,1094.4 M391.6,1090.7L390.9,1092.4 M386.7,1088.6L386,1090.3 M381.9,1086.5L380.4,1089.8 M377.1,1084.3L376.3,1086 M372.2,1082.1L371.5,1083.7 M367.5,1079.8L366.7,1081.5 M362.7,1077.5L361.9,1079.1 M357.9,1075.2L356.3,1078.4 M353.2,1072.7L352.4,1074.3 M348.5,1070.3L347.7,1071.9 M343.9,1067.8L343,1069.4 M339.2,1065.2L338.3,1066.8 M334.6,1062.6L332.8,1065.8 M822.1,1083.8L823.6,1087.1 M818.1,1085.6L818.8,1087.2 M814.1,1087.4L814.8,1089 M810.1,1089.1L810.8,1090.8 M806,1090.8L806.7,1092.5 M802,1092.5L803.4,1095.8 M797.9,1094.2L798.6,1095.8 M793.9,1095.8L794.5,1097.5 M789.8,1097.4L790.4,1099 M785.7,1098.9L786.3,1100.6 M781.6,1100.4L782.8,1103.8 M777.4,1101.9L778,1103.6 M773.3,1103.3L773.9,1105 M769.1,1104.7L769.7,1106.4 M765,1106.1L765.5,1107.8 M760.8,1107.5L761.9,1110.9 M756.6,1108.8L757.2,1110.5 M752.4,1110L753,1111.8 M748.2,1111.3L748.7,1113 M744,1112.5L744.5,1114.2 M739.8,1113.7L740.7,1117.1 M735.6,1114.8L736,1116.5 M731.3,1115.9L731.8,1117.6 M727.1,1117L727.5,1118.7 M722.8,1118L723.2,1119.7 M718.6,1119L719.4,1122.5 M714.3,1119.9L714.7,1121.7 M710,1120.9L710.4,1122.6 M705.7,1121.8L706.1,1123.5 M701.4,1122.6L701.8,1124.4 M697.1,1123.4L697.8,1127 M692.8,1124.2L693.1,1126 M688.5,1125L688.8,1126.7 M684.2,1125.7L684.4,1127.5 M679.8,1126.4L680.1,1128.1 M675.5,1127L676,1130.6 M671.1,1127.6L671.4,1129.4 M666.8,1128.2L667,1130 M662.5,1128.7L662.7,1130.5 M658.1,1129.2L658.3,1131 M653.7,1129.7L654.1,1133.3 M649.4,1130.1L649.6,1131.9 M645,1130.5L645.2,1132.3 M640.7,1130.9L640.8,1132.7 M636.3,1131.2L636.4,1133 M631.9,1131.5L632.1,1135.1 M627.5,1131.7L627.6,1133.5 M623.2,1132L623.2,1133.8 M618.8,1132.1L618.8,1133.9 M614.4,1132.3L614.5,1134.1 M610,1132.4L610.1,1136 M1008.7,941.7L1011.5,944 M1006,945L1007.3,946.1 M1003.2,948.2L1004.5,949.4 M1000.4,951.4L1001.7,952.6 M997.6,954.5L998.9,955.7 M994.7,957.7L997.4,960.1 M991.8,960.8L993.2,962 M988.9,963.9L990.3,965.2 M986,967L987.3,968.3 M983.1,970.1L984.4,971.3 M980.1,973.1L982.7,975.6 M977.1,976.1L978.4,977.4 M974.1,979.1L975.4,980.4 M971.1,982.1L972.3,983.4 M968,985L969.2,986.3 M964.9,987.9L967.4,990.5 M961.8,990.8L963,992.1 M958.7,993.7L959.9,995 M955.5,996.5L956.7,997.9 M952.3,999.3L953.5,1000.7 M949.1,1002.1L951.5,1004.8 M945.9,1004.9L947.1,1006.3 M942.6,1007.6L943.8,1009 M939.4,1010.3L940.5,1011.7 M936.1,1013L937.2,1014.4 M932.8,1015.7L935,1018.5 M929.4,1018.3L930.6,1019.7 M926.1,1020.9L927.2,1022.4 M922.7,1023.5L923.8,1025 M919.3,1026.1L920.4,1027.5 M915.9,1028.6L918.1,1031.5 M912.5,1031.1L913.5,1032.6 M909,1033.6L910.1,1035 M905.6,1036L906.6,1037.5 M902.1,1038.4L903.1,1039.9 M898.6,1040.8L900.6,1043.8 M895,1043.2L896,1044.7 M891.5,1045.5L892.5,1047 M887.9,1047.8L888.9,1049.4 M884.3,1050.1L885.3,1051.6 M880.7,1052.4L882.6,1055.4 M877.1,1054.6L878,1056.1 M873.5,1056.8L874.4,1058.3 M869.8,1058.9L870.7,1060.5 M866.1,1061.1L867,1062.6 M862.5,1063.2L864.2,1066.3 M858.8,1065.3L859.6,1066.8 M855,1067.3L855.9,1068.9 M851.3,1069.3L852.1,1070.9 M847.5,1071.3L848.4,1072.9 M843.8,1073.3L845.4,1076.5 M1103.3,776.7L1106.7,777.9 M1102.2,779.8L1103.9,780.4 M1101,782.9L1102.7,783.6 M1099.9,786.1L1101.6,786.7 M1098.7,789.2L1100.4,789.8 M1097.5,792.3L1100.8,793.6 M1096.3,795.4L1097.9,796 M1095,798.5L1096.7,799.1 M1093.8,801.5L1095.4,802.2 M1092.5,804.6L1094.1,805.3 M1091.2,807.7L1094.5,809.1 M1089.9,810.7L1091.5,811.5 M1088.5,813.8L1090.2,814.5 M1087.2,816.8L1088.8,817.6 M1085.8,819.9L1087.4,820.6 M1084.4,822.9L1087.7,824.4 M1083,825.9L1084.6,826.7 M1081.6,828.9L1083.2,829.7 M1080.1,831.9L1081.7,832.7 M1078.6,834.9L1080.2,835.7 M1077.1,837.9L1080.4,839.5 M1075.6,840.8L1077.2,841.7 M1074.1,843.8L1075.7,844.6 M1072.6,846.8L1074.2,847.6 M1071,849.7L1072.6,850.5 M1069.4,852.6L1072.6,854.3 M1067.8,855.5L1069.4,856.4 M1066.2,858.5L1067.8,859.3 M1064.6,861.4L1066.1,862.2 M1062.9,864.2L1064.5,865.1 M1061.3,867.1L1064.4,868.9 M1059.6,870L1061.1,870.9 M1057.9,872.9L1059.4,873.8 M1056.1,875.7L1057.7,876.6 M1054.4,878.5L1055.9,879.5 M1052.6,881.4L1055.7,883.3 M1050.9,884.2L1052.4,885.2 M1049.1,887L1050.6,888 M1047.3,889.8L1048.8,890.8 M1045.4,892.6L1046.9,893.6 M1043.6,895.3L1046.6,897.3 M1041.7,898.1L1043.2,899.1 M1039.8,900.8L1041.3,901.9 M1037.9,903.6L1039.4,904.6 M1036,906.3L1037.5,907.4 M1034.1,909L1037,911.1 M1032.2,911.7L1033.6,912.8 M1030.2,914.4L1031.6,915.5 M1028.2,917.1L1029.6,918.2 M1026.2,919.8L1027.6,920.8 M1024.2,922.4L1027.1,924.6 M1134,580.7L1137.6,580.6 M1134.1,584.2L1135.9,584.2 M1134.2,587.7L1136,587.7 M1134.3,591.3L1136.1,591.2 M1134.3,594.8L1136.1,594.8 M1134.3,598.3L1137.9,598.3 M1134.3,601.8L1136.1,601.9 M1134.2,605.4L1136,605.4 M1134.2,608.9L1136,608.9 M1134.1,612.4L1135.9,612.5 M1134,616L1137.6,616.1 M1133.8,619.5L1135.6,619.6 M1133.7,623L1135.5,623.1 M1133.5,626.5L1135.3,626.6 M1133.3,630.1L1135.1,630.2 M1133.1,633.6L1136.7,633.8 M1132.8,637.1L1134.6,637.2 M1132.5,640.6L1134.3,640.8 M1132.2,644.1L1134,644.3 M1131.9,647.7L1133.7,647.8 M1131.6,651.2L1135.2,651.5 M1131.2,654.7L1133,654.9 M1130.8,658.2L1132.6,658.4 M1130.4,661.7L1132.2,661.9 M1130,665.2L1131.7,665.4 M1129.5,668.7L1133.1,669.2 M1129,672.2L1130.8,672.4 M1128.5,675.7L1130.3,675.9 M1128,679.2L1129.8,679.4 M1127.4,682.7L1129.2,682.9 M1126.9,686.1L1130.4,686.7 M1126.3,689.6L1128,689.9 M1125.6,693.1L1127.4,693.4 M1125,696.6L1126.8,696.9 M1124.3,700L1126.1,700.4 M1123.6,703.5L1127.2,704.2 M1122.9,706.9L1124.7,707.3 M1122.2,710.4L1124,710.8 M1121.4,713.8L1123.2,714.2 M1120.7,717.3L1122.4,717.7 M1119.9,720.7L1123.4,721.6 M1119,724.2L1120.8,724.6 M1118.2,727.6L1119.9,728 M1117.3,731L1119,731.5 M1116.4,734.4L1118.2,734.9 M1115.5,737.8L1119,738.8 M1114.6,741.2L1116.3,741.7 M1113.6,744.6L1115.3,745.1 M1112.6,748L1114.3,748.5 M1111.6,751.4L1113.3,751.9 M1110.6,754.8L1114,755.8 M1098.8,405.5L1102.2,404.3 M1099.9,408.5L1101.6,407.8 M1101,411.4L1102.7,410.8 M1102.1,414.3L1103.8,413.7 M1103.1,417.2L1104.8,416.6 M1104.2,420.2L1107.6,419 M1105.2,423.1L1106.9,422.5 M1106.2,426.1L1107.9,425.5 M1107.2,429L1108.9,428.5 M1108.2,432L1109.9,431.4 M1109.1,435L1112.6,433.9 M1110.1,437.9L1111.8,437.4 M1111,440.9L1112.7,440.4 M1111.9,443.9L1113.6,443.4 M1112.8,446.9L1114.5,446.4 M1113.6,449.9L1117.1,448.9 M1114.5,452.9L1116.2,452.4 M1115.3,455.9L1117.1,455.4 M1116.1,458.9L1117.9,458.4 M1116.9,461.9L1118.7,461.5 M1117.7,464.9L1121.2,464.1 M1118.5,468L1120.2,467.5 M1119.2,471L1121,470.6 M1119.9,474L1121.7,473.6 M1120.6,477.1L1122.4,476.7 M1121.3,480.1L1124.8,479.3 M1122,483.2L1123.8,482.8 M1122.7,486.2L1124.4,485.8 M1123.3,489.3L1125.1,488.9 M1123.9,492.3L1125.7,492 M1124.5,495.4L1128.1,494.7 M1125.1,498.4L1126.9,498.1 M1125.7,501.5L1127.4,501.2 M1126.2,504.6L1128,504.3 M1126.8,507.6L1128.5,507.3 M1127.3,510.7L1130.8,510.1 M1127.8,513.8L1129.5,513.5 M1128.2,516.9L1130,516.6 M1128.7,520L1130.5,519.7 M1129.1,523.1L1130.9,522.8 M1129.6,526.1L1133.1,525.7 M1130,529.2L1131.8,529 M1130.4,532.3L1132.1,532.1 M1130.7,535.4L1132.5,535.2 M1131.1,538.5L1132.9,538.3 M1131.4,541.6L1135,541.3 M1131.7,544.7L1133.5,544.6 M1132,547.8L1133.8,547.7 M1132.3,550.9L1134.1,550.8 M1132.6,554L1134.4,553.9 M1132.8,557.2L1136.4,556.9 M976,217.2L978.5,214.6 M978.8,220L980.1,218.7 M981.6,222.9L982.9,221.6 M984.4,225.7L985.7,224.5 M987.2,228.6L988.5,227.4 M990,231.6L992.6,229.1 M992.7,234.5L994,233.3 M995.4,237.5L996.7,236.2 M998.1,240.4L999.4,239.2 M1000.7,243.4L1002.1,242.2 M1003.4,246.4L1006.1,244.1 M1006,249.5L1007.4,248.3 M1008.6,252.5L1010,251.4 M1011.2,255.6L1012.5,254.5 M1013.7,258.7L1015.1,257.6 M1016.2,261.8L1019,259.6 M1018.7,265L1020.1,263.9 M1021.2,268.1L1022.6,267 M1023.7,271.3L1025.1,270.2 M1026.1,274.5L1027.5,273.4 M1028.5,277.7L1031.4,275.5 M1030.9,280.9L1032.3,279.9 M1033.2,284.2L1034.7,283.1 M1035.6,287.4L1037,286.4 M1037.9,290.7L1039.3,289.7 M1040.2,294L1043.1,292 M1042.4,297.3L1043.9,296.3 M1044.6,300.6L1046.1,299.6 M1046.9,304L1048.4,303 M1049,307.4L1050.6,306.4 M1051.2,310.7L1054.2,308.8 M1053.3,314.1L1054.9,313.2 M1055.4,317.5L1057,316.6 M1057.5,321L1059.1,320 M1059.6,324.4L1061.1,323.5 M1061.6,327.9L1064.7,326.1 M1063.6,331.3L1065.2,330.4 M1065.6,334.8L1067.2,333.9 M1067.5,338.3L1069.1,337.5 M1069.5,341.8L1071.1,341 M1071.4,345.4L1074.5,343.7 M1073.2,348.9L1074.8,348.1 M1075.1,352.5L1076.7,351.7 M1076.9,356.1L1078.5,355.2 M1078.7,359.6L1080.3,358.8 M1080.5,363.2L1083.7,361.7 M1082.2,366.9L1083.8,366.1 M1083.9,370.5L1085.5,369.7 M1085.6,374.1L1087.2,373.4 M1087.3,377.8L1088.9,377 M1088.9,381.4L1092.2,380 M812.8,106.4L814.2,103.1 M816,107.8L816.7,106.2 M819.1,109.2L819.8,107.6 M822.2,110.7L823,109 M825.4,112.1L826.1,110.5 M828.5,113.6L830.1,110.3 M831.6,115.1L832.4,113.5 M834.7,116.6L835.5,115 M837.8,118.1L838.6,116.5 M840.9,119.7L841.7,118.1 M844,121.2L845.6,118 M847,122.8L847.9,121.2 M850.1,124.4L850.9,122.9 M853.1,126.1L854,124.5 M856.2,127.7L857,126.1 M859.2,129.4L861,126.3 M862.2,131.1L863.1,129.5 M865.2,132.8L866.1,131.2 M868.2,134.5L869.1,133 M871.2,136.3L872.1,134.7 M874.2,138L876,134.9 M877.1,139.8L878,138.3 M880.1,141.6L881,140.1 M883,143.4L883.9,141.9 M885.9,145.3L886.9,143.8 M888.8,147.1L890.8,144.1 M891.7,149L892.7,147.5 M894.6,150.9L895.6,149.4 M897.5,152.8L898.5,151.3 M900.3,154.8L901.3,153.3 M903.2,156.7L905.2,153.8 M906,158.7L907,157.2 M908.8,160.7L909.9,159.2 M911.6,162.7L912.7,161.2 M914.4,164.7L915.5,163.3 M917.2,166.8L919.4,163.9 M920,168.8L921.1,167.4 M922.8,170.9L923.8,169.5 M925.5,173L926.6,171.6 M928.2,175.1L929.3,173.7 M930.9,177.2L933.2,174.4 M933.6,179.4L934.8,178 M936.3,181.6L937.5,180.2 M939,183.8L940.2,182.4 M941.7,186L942.8,184.6 M944.3,188.2L946.6,185.4 M946.9,190.4L948.1,189 M949.6,192.7L950.7,191.3 M952.2,194.9L953.4,193.6 M954.8,197.2L955.9,195.9 M957.3,199.5L959.7,196.8 M599.2,61.9L599.2,58.3 M603.1,61.9L603.1,60.1 M607.1,62L607.1,60.2 M611,62L611.1,60.2 M615,62.1L615,60.3 M618.9,62.3L619,58.7 M622.9,62.4L622.9,60.6 M626.8,62.6L626.9,60.8 M630.7,62.8L630.8,61 M634.7,63.1L634.8,61.3 M638.6,63.4L638.9,59.8 M642.5,63.7L642.7,61.9 M646.5,64L646.6,62.2 M650.4,64.4L650.6,62.6 M654.3,64.8L654.5,63 M658.3,65.2L658.7,61.6 M662.2,65.6L662.4,63.9 M666.1,66.1L666.3,64.3 M670,66.6L670.3,64.8 M673.9,67.2L674.2,65.4 M677.8,67.7L678.4,64.2 M681.7,68.3L682,66.6 M685.6,69L685.9,67.2 M689.5,69.6L689.8,67.8 M693.4,70.3L693.7,68.5 M697.3,71L697.9,67.5 M701.2,71.7L701.5,70 M705,72.5L705.4,70.7 M708.9,73.3L709.3,71.5 M712.8,74.1L713.1,72.4 M716.6,75L717.4,71.5 M720.5,75.9L720.9,74.1 M724.3,76.8L724.7,75 M728.1,77.7L728.6,76 M732,78.7L732.4,76.9 M735.8,79.7L736.7,76.2 M739.6,80.7L740.1,79 M743.4,81.7L743.9,80 M747.2,82.8L747.7,81.1 M751,83.9L751.5,82.2 M754.8,85.1L755.8,81.6 M758.5,86.2L759.1,84.5 M762.3,87.4L762.8,85.7 M766,88.6L766.6,86.9 M769.8,89.9L770.4,88.2 M773.5,91.1L774.7,87.7 M777.2,92.4L777.8,90.8 M781,93.8L781.6,92.1 M784.7,95.1L785.3,93.4 M788.4,96.5L789,94.8 M792.1,97.9L793.4,94.6" stroke="#111" stroke-width="1.3" fill="none"/>
<g font-family="DejaVu Sans, Liberation Sans, sans-serif">
<text x="273.4" y="265.9" transform="rotate(45.5 273.4 265.9)" text-anchor="end" dominant-baseline="central" font-size="10.5" fill="#505050">0</text>
<text x="310.7" y="233" transform="rotate(51.6 310.7 233)" text-anchor="end" dominant-baseline="central" font-size="10.5" fill="#505050">100</text>
<text x="351.3" y="204.2" transform="rotate(57.8 351.3 204.2)" text-anchor="end" dominant-baseline="central" font-size="10.5" fill="#505050">200</text>
<text x="394.8" y="180" transform="rotate(63.9 394.8 180)" text-anchor="end" dominant-baseline="central" font-size="10.5" fill="#505050">300</text>
<text x="440.6" y="160.5" transform="rotate(70.1 440.6 160.5)" text-anchor="end" dominant-baseline="central" font-size="10.5" fill="#505050">400</text>
<text x="488.2" y="146.1" transform="rotate(76.2 488.2 146.1)" text-anchor="end" dominant-baseline="central" font-size="10.5" fill="#505050">500</text>
<text x="537.1" y="136.8" transform="rotate(82.3 537.1 136.8)" text-anchor="end" dominant-baseline="central" font-size="10.5" fill="#505050">600</text>
<text x="176.8" y="403.5" transform="rotate(24.7 176.8 403.5)" text-anchor="end" dominant-baseline="central" font-size="10.5" fill="#505050">0</text>
<text x="200" y="359.4" transform="rotate(30.8 200 359.4)" text-anchor="end" dominant-baseline="central" font-size="10.5" fill="#505050">100</text>
<text x="227.7" y="318.1" transform="rotate(36.9 227.7 318.1)" text-anchor="end" dominant-baseline="central" font-size="10.5" fill="#505050">200</text>
<text x="259.7" y="280" transform="rotate(43.1 259.7 280)" text-anchor="end" dominant-baseline="central" font-size="10.5" fill="#505050">300</text>
<text x="143.6" y="505.7" transform="rotate(11.4 143.6 505.7)" text-anchor="end" dominant-baseline="central" font-size="10.5" fill="#505050">0</text>
<text x="156" y="457.5" transform="rotate(17.5 156 457.5)" text-anchor="end" dominant-baseline="central" font-size="10.5" fill="#505050">100</text>
<text x="135.1" y="572.6" transform="rotate(3 135.1 572.6)" text-anchor="end" dominant-baseline="central" font-size="10.5" fill="#505050">0</text>
<text x="156.4" y="738.2" transform="rotate(-17.7 156.4 738.2)" text-anchor="end" dominant-baseline="central" font-size="10.5" fill="#505050">0</text>
<text x="143.9" y="690" transform="rotate(-11.5 143.9 690)" text-anchor="end" dominant-baseline="central" font-size="10.5" fill="#505050">100</text>
<text x="136.6" y="640.8" transform="rotate(-5.4 136.6 640.8)" text-anchor="end" dominant-baseline="central" font-size="10.5" fill="#505050">200</text>
<text x="350.6" y="989.7" transform="rotate(-57.7 350.6 989.7)" text-anchor="end" dominant-baseline="central" font-size="10.5" fill="#505050">0</text>
<text x="310" y="960.9" transform="rotate(-51.5 310 960.9)" text-anchor="end" dominant-baseline="central" font-size="10.5" fill="#505050">100</text>
<text x="272.8" y="927.9" transform="rotate(-45.4 272.8 927.9)" text-anchor="end" dominant-baseline="central" font-size="10.5" fill="#505050">200</text>
<text x="239.3" y="891.1" transform="rotate(-39.2 239.3 891.1)" text-anchor="end" dominant-baseline="central" font-size="10.5" fill="#505050">300</text>
<text x="209.9" y="850.9" transform="rotate(-33.1 209.9 850.9)" text-anchor="end" dominant-baseline="central" font-size="10.5" fill="#505050">400</text>
<text x="185" y="807.9" transform="rotate(-27 185 807.9)" text-anchor="end" dominant-baseline="central" font-size="10.5" fill="#505050">500</text>
<text x="164.9" y="762.4" transform="rotate(-20.8 164.9 762.4)" text-anchor="end" dominant-baseline="central" font-size="10.5" fill="#505050">600</text>
<text x="588.9" y="1061.6" transform="rotate(-88.8 588.9 1061.6)" text-anchor="end" dominant-baseline="central" font-size="10.5" fill="#505050">0</text>
<text x="539.3" y="1057.9" transform="rotate(-82.6 539.3 1057.9)" text-anchor="end" dominant-baseline="central" font-size="10.5" fill="#505050">100</text>
<text x="490.4" y="1048.8" transform="rotate(-76.5 490.4 1048.8)" text-anchor="end" dominant-baseline="central" font-size="10.5" fill="#505050">200</text>
<text x="442.7" y="1034.6" transform="rotate(-70.3 442.7 1034.6)" text-anchor="end" dominant-baseline="central" font-size="10.5" fill="#505050">300</text>
<text x="396.8" y="1015.4" transform="rotate(-64.2 396.8 1015.4)" text-anchor="end" dominant-baseline="central" font-size="10.5" fill="#505050">400</text>
<text x="792.6" y="1019.4" transform="rotate(65.4 792.6 1019.4)" text-anchor="start" dominant-baseline="central" font-size="10.5" fill="#505050">0</text>
<text x="746.3" y="1037.7" transform="rotate(71.5 746.3 1037.7)" text-anchor="start" dominant-baseline="central" font-size="10.5" fill="#505050">100</text>
<text x="698.3" y="1051" transform="rotate(77.6 698.3 1051)" text-anchor="start" dominant-baseline="central" font-size="10.5" fill="#505050">200</text>
<text x="649.2" y="1059" transform="rotate(83.8 649.2 1059)" text-anchor="start" dominant-baseline="central" font-size="10.5" fill="#505050">300</text>
<text x="954.5" y="896.1" transform="rotate(40.1 954.5 896.1)" text-anchor="start" dominant-baseline="central" font-size="10.5" fill="#505050">0</text>
<text x="920.5" y="932.5" transform="rotate(46.2 920.5 932.5)" text-anchor="start" dominant-baseline="central" font-size="10.5" fill="#505050">100</text>
<text x="882.8" y="964.9" transform="rotate(52.3 882.8 964.9)" text-anchor="start" dominant-baseline="central" font-size="10.5" fill="#505050">200</text>
<text x="841.8" y="993.2" transform="rotate(58.5 841.8 993.2)" text-anchor="start" dominant-baseline="central" font-size="10.5" fill="#505050">300</text>
<text x="1036.6" y="752.9" transform="rotate(19.6 1036.6 752.9)" text-anchor="start" dominant-baseline="central" font-size="10.5" fill="#505050">0</text>
<text x="1017.4" y="798.9" transform="rotate(25.7 1017.4 798.9)" text-anchor="start" dominant-baseline="central" font-size="10.5" fill="#505050">100</text>
<text x="993.5" y="842.5" transform="rotate(31.9 993.5 842.5)" text-anchor="start" dominant-baseline="central" font-size="10.5" fill="#505050">200</text>
<text x="1063.3" y="582.9" transform="rotate(-1.8 1063.3 582.9)" text-anchor="start" dominant-baseline="central" font-size="10.5" fill="#505050">0</text>
<text x="1062.1" y="632.6" transform="rotate(4.4 1062.1 632.6)" text-anchor="start" dominant-baseline="central" font-size="10.5" fill="#505050">100</text>
<text x="1055.7" y="681.9" transform="rotate(10.5 1055.7 681.9)" text-anchor="start" dominant-baseline="central" font-size="10.5" fill="#505050">200</text>
<text x="1044" y="730.3" transform="rotate(16.6 1044 730.3)" text-anchor="start" dominant-baseline="central" font-size="10.5" fill="#505050">300</text>
<text x="1032.7" y="430.9" transform="rotate(-21 1032.7 430.9)" text-anchor="start" dominant-baseline="central" font-size="10.5" fill="#505050">0</text>
<text x="1048" y="478.2" transform="rotate(-14.8 1048 478.2)" text-anchor="start" dominant-baseline="central" font-size="10.5" fill="#505050">100</text>
<text x="1058.2" y="526.9" transform="rotate(-8.7 1058.2 526.9)" text-anchor="start" dominant-baseline="central" font-size="10.5" fill="#505050">200</text>
<text x="926.1" y="267.4" transform="rotate(-45.2 926.1 267.4)" text-anchor="start" dominant-baseline="central" font-size="10.5" fill="#505050">0</text>
<text x="959.5" y="304.3" transform="rotate(-39.1 959.5 304.3)" text-anchor="start" dominant-baseline="central" font-size="10.5" fill="#505050">100</text>
<text x="988.8" y="344.6" transform="rotate(-32.9 988.8 344.6)" text-anchor="start" dominant-baseline="central" font-size="10.5" fill="#505050">200</text>
<text x="1013.6" y="387.7" transform="rotate(-26.8 1013.6 387.7)" text-anchor="start" dominant-baseline="central" font-size="10.5" fill="#505050">300</text>
<text x="784.5" y="171.4" transform="rotate(-66.5 784.5 171.4)" text-anchor="start" dominant-baseline="central" font-size="10.5" fill="#505050">0</text>
<text x="829" y="193.6" transform="rotate(-60.3 829 193.6)" text-anchor="start" dominant-baseline="central" font-size="10.5" fill="#505050">100</text>
<text x="870.8" y="220.6" transform="rotate(-54.2 870.8 220.6)" text-anchor="start" dominant-baseline="central" font-size="10.5" fill="#505050">200</text>
<text x="909.6" y="251.8" transform="rotate(-48 909.6 251.8)" text-anchor="start" dominant-baseline="central" font-size="10.5" fill="#505050">300</text>
<text x="599.2" y="132.7" transform="rotate(-90 599.2 132.7)" text-anchor="start" dominant-baseline="central" font-size="10.5" fill="#505050">0</text>
<text x="648.8" y="135.4" transform="rotate(-83.8 648.8 135.4)" text-anchor="start" dominant-baseline="central" font-size="10.5" fill="#505050">100</text>
<text x="698" y="143.4" transform="rotate(-77.7 698 143.4)" text-anchor="start" dominant-baseline="central" font-size="10.5" fill="#505050">200</text>
<text x="745.9" y="156.5" transform="rotate(-71.6 745.9 156.5)" text-anchor="start" dominant-baseline="central" font-size="10.5" fill="#505050">300</text>
<text x="219.9" y="211.5" transform="rotate(45.5 219.9 211.5)" text-anchor="end" dominant-baseline="central" font-size="10.8" fill="#505050">0%</text>
<text x="249.3" y="184.7" transform="rotate(49.7 249.3 184.7)" text-anchor="end" dominant-baseline="central" font-size="10.8" fill="#505050">10%</text>
<text x="280.5" y="160.1" transform="rotate(53.9 280.5 160.1)" text-anchor="end" dominant-baseline="central" font-size="10.8" fill="#505050">20%</text>
<text x="313.5" y="137.9" transform="rotate(58.1 313.5 137.9)" text-anchor="end" dominant-baseline="central" font-size="10.8" fill="#505050">30%</text>
<text x="347.9" y="118.2" transform="rotate(62.3 347.9 118.2)" text-anchor="end" dominant-baseline="central" font-size="10.8" fill="#505050">40%</text>
<text x="383.8" y="101.1" transform="rotate(66.6 383.8 101.1)" text-anchor="end" dominant-baseline="central" font-size="10.8" fill="#505050">50%</text>
<text x="420.8" y="86.6" transform="rotate(70.8 420.8 86.6)" text-anchor="end" dominant-baseline="central" font-size="10.8" fill="#505050">60%</text>
<text x="458.8" y="74.9" transform="rotate(75 458.8 74.9)" text-anchor="end" dominant-baseline="central" font-size="10.8" fill="#505050">70%</text>
<text x="497.5" y="66" transform="rotate(79.2 497.5 66)" text-anchor="end" dominant-baseline="central" font-size="10.8" fill="#505050">80%</text>
<text x="536.7" y="60" transform="rotate(83.4 536.7 60)" text-anchor="end" dominant-baseline="central" font-size="10.8" fill="#505050">90%</text>
<text x="576.4" y="56.9" transform="rotate(87.6 576.4 56.9)" text-anchor="end" dominant-baseline="central" font-size="10.8" fill="#505050">100%</text>
<text x="107.5" y="371.6" transform="rotate(24.7 107.5 371.6)" text-anchor="end" dominant-baseline="central" font-size="10.8" fill="#505050">0%</text>
<text x="115" y="355.9" transform="rotate(26.5 115 355.9)" text-anchor="end" dominant-baseline="central" font-size="10.8" fill="#505050">10%</text>
<text x="123" y="340.5" transform="rotate(28.3 123 340.5)" text-anchor="end" dominant-baseline="central" font-size="10.8" fill="#505050">20%</text>
<text x="131.5" y="325.3" transform="rotate(30.2 131.5 325.3)" text-anchor="end" dominant-baseline="central" font-size="10.8" fill="#505050">30%</text>
<text x="140.5" y="310.4" transform="rotate(32 140.5 310.4)" text-anchor="end" dominant-baseline="central" font-size="10.8" fill="#505050">40%</text>
<text x="150" y="295.8" transform="rotate(33.9 150 295.8)" text-anchor="end" dominant-baseline="central" font-size="10.8" fill="#505050">50%</text>
<text x="159.9" y="281.5" transform="rotate(35.7 159.9 281.5)" text-anchor="end" dominant-baseline="central" font-size="10.8" fill="#505050">60%</text>
<text x="170.3" y="267.5" transform="rotate(37.6 170.3 267.5)" text-anchor="end" dominant-baseline="central" font-size="10.8" fill="#505050">70%</text>
<text x="181.2" y="253.9" transform="rotate(39.4 181.2 253.9)" text-anchor="end" dominant-baseline="central" font-size="10.8" fill="#505050">80%</text>
<text x="192.4" y="240.6" transform="rotate(41.3 192.4 240.6)" text-anchor="end" dominant-baseline="central" font-size="10.8" fill="#505050">90%</text>
<text x="204.1" y="227.7" transform="rotate(43.1 204.1 227.7)" text-anchor="end" dominant-baseline="central" font-size="10.8" fill="#505050">100%</text>
<text x="68.8" y="490.7" transform="rotate(11.4 68.8 490.7)" text-anchor="end" dominant-baseline="central" font-size="10.8" fill="#505050">0%</text>
<text x="73.2" y="470.9" transform="rotate(13.5 73.2 470.9)" text-anchor="end" dominant-baseline="central" font-size="10.8" fill="#505050">20%</text>
<text x="78.3" y="451.3" transform="rotate(15.7 78.3 451.3)" text-anchor="end" dominant-baseline="central" font-size="10.8" fill="#505050">40%</text>
<text x="84.1" y="431.8" transform="rotate(17.8 84.1 431.8)" text-anchor="end" dominant-baseline="central" font-size="10.8" fill="#505050">60%</text>
<text x="90.7" y="412.7" transform="rotate(20 90.7 412.7)" text-anchor="end" dominant-baseline="central" font-size="10.8" fill="#505050">80%</text>
<text x="97.9" y="393.7" transform="rotate(22.1 97.9 393.7)" text-anchor="end" dominant-baseline="central" font-size="10.8" fill="#505050">100%</text>
<text x="83.7" y="761.4" transform="rotate(-17.7 83.7 761.4)" text-anchor="end" dominant-baseline="central" font-size="10.8" fill="#505050">0%</text>
<text x="78.8" y="745" transform="rotate(-15.9 78.8 745)" text-anchor="end" dominant-baseline="central" font-size="10.8" fill="#505050">10%</text>
<text x="74.4" y="728.4" transform="rotate(-14 74.4 728.4)" text-anchor="end" dominant-baseline="central" font-size="10.8" fill="#505050">20%</text>
<text x="70.5" y="711.7" transform="rotate(-12.2 70.5 711.7)" text-anchor="end" dominant-baseline="central" font-size="10.8" fill="#505050">30%</text>
<text x="67.1" y="695" transform="rotate(-10.4 67.1 695)" text-anchor="end" dominant-baseline="central" font-size="10.8" fill="#505050">40%</text>
<text x="64.3" y="678.1" transform="rotate(-8.6 64.3 678.1)" text-anchor="end" dominant-baseline="central" font-size="10.8" fill="#505050">50%</text>
<text x="62" y="661.1" transform="rotate(-6.8 62 661.1)" text-anchor="end" dominant-baseline="central" font-size="10.8" fill="#505050">60%</text>
<text x="60.2" y="644.1" transform="rotate(-5 60.2 644.1)" text-anchor="end" dominant-baseline="central" font-size="10.8" fill="#505050">70%</text>
<text x="59" y="627" transform="rotate(-3.2 59 627)" text-anchor="end" dominant-baseline="central" font-size="10.8" fill="#505050">80%</text>
<text x="58.3" y="609.9" transform="rotate(-1.3 58.3 609.9)" text-anchor="end" dominant-baseline="central" font-size="10.8" fill="#505050">90%</text>
<text x="58.2" y="592.8" transform="rotate(0.5 58.2 592.8)" text-anchor="end" dominant-baseline="central" font-size="10.8" fill="#505050">100%</text>
<text x="309.8" y="1054.2" transform="rotate(-57.7 309.8 1054.2)" text-anchor="end" dominant-baseline="central" font-size="10.8" fill="#505050">0%</text>
<text x="280.6" y="1034.3" transform="rotate(-53.9 280.6 1034.3)" text-anchor="end" dominant-baseline="central" font-size="10.8" fill="#505050">10%</text>
<text x="252.7" y="1012.6" transform="rotate(-50.2 252.7 1012.6)" text-anchor="end" dominant-baseline="central" font-size="10.8" fill="#505050">20%</text>
<text x="226.4" y="989.1" transform="rotate(-46.4 226.4 989.1)" text-anchor="end" dominant-baseline="central" font-size="10.8" fill="#505050">30%</text>
<text x="201.6" y="964" transform="rotate(-42.7 201.6 964)" text-anchor="end" dominant-baseline="central" font-size="10.8" fill="#505050">40%</text>
<text x="178.5" y="937.3" transform="rotate(-39 178.5 937.3)" text-anchor="end" dominant-baseline="central" font-size="10.8" fill="#505050">50%</text>
<text x="157.2" y="909.1" transform="rotate(-35.2 157.2 909.1)" text-anchor="end" dominant-baseline="central" font-size="10.8" fill="#505050">60%</text>
<text x="137.8" y="879.6" transform="rotate(-31.5 137.8 879.6)" text-anchor="end" dominant-baseline="central" font-size="10.8" fill="#505050">70%</text>
<text x="120.4" y="848.9" transform="rotate(-27.7 120.4 848.9)" text-anchor="end" dominant-baseline="central" font-size="10.8" fill="#505050">80%</text>
<text x="105" y="817.2" transform="rotate(-24 105 817.2)" text-anchor="end" dominant-baseline="central" font-size="10.8" fill="#505050">90%</text>
<text x="91.7" y="784.5" transform="rotate(-20.3 91.7 784.5)" text-anchor="end" dominant-baseline="central" font-size="10.8" fill="#505050">100%</text>
<text x="587.3" y="1137.9" transform="rotate(-88.8 587.3 1137.9)" text-anchor="end" dominant-baseline="central" font-size="10.8" fill="#505050">0%</text>
<text x="560.6" y="1136.6" transform="rotate(-85.9 560.6 1136.6)" text-anchor="end" dominant-baseline="central" font-size="10.8" fill="#505050">10%</text>
<text x="533.9" y="1134.1" transform="rotate(-83.1 533.9 1134.1)" text-anchor="end" dominant-baseline="central" font-size="10.8" fill="#505050">20%</text>
<text x="507.4" y="1130.2" transform="rotate(-80.3 507.4 1130.2)" text-anchor="end" dominant-baseline="central" font-size="10.8" fill="#505050">30%</text>
<text x="481.2" y="1125" transform="rotate(-77.4 481.2 1125)" text-anchor="end" dominant-baseline="central" font-size="10.8" fill="#505050">40%</text>
<text x="455.2" y="1118.5" transform="rotate(-74.6 455.2 1118.5)" text-anchor="end" dominant-baseline="central" font-size="10.8" fill="#505050">50%</text>
<text x="429.6" y="1110.8" transform="rotate(-71.7 429.6 1110.8)" text-anchor="end" dominant-baseline="central" font-size="10.8" fill="#505050">60%</text>
<text x="404.4" y="1101.8" transform="rotate(-68.9 404.4 1101.8)" text-anchor="end" dominant-baseline="central" font-size="10.8" fill="#505050">70%</text>
<text x="379.7" y="1091.5" transform="rotate(-66.1 379.7 1091.5)" text-anchor="end" dominant-baseline="central" font-size="10.8" fill="#505050">80%</text>
<text x="355.5" y="1080.1" transform="rotate(-63.2 355.5 1080.1)" text-anchor="end" dominant-baseline="central" font-size="10.8" fill="#505050">90%</text>
<text x="331.9" y="1067.4" transform="rotate(-60.4 331.9 1067.4)" text-anchor="end" dominant-baseline="central" font-size="10.8" fill="#505050">100%</text>
<text x="824.4" y="1088.8" transform="rotate(65.4 824.4 1088.8)" text-anchor="start" dominant-baseline="central" font-size="10.8" fill="#505050">0%</text>
<text x="804.1" y="1097.6" transform="rotate(67.7 804.1 1097.6)" text-anchor="start" dominant-baseline="central" font-size="10.8" fill="#505050">10%</text>
<text x="783.4" y="1105.6" transform="rotate(70.1 783.4 1105.6)" text-anchor="start" dominant-baseline="central" font-size="10.8" fill="#505050">20%</text>
<text x="762.5" y="1112.7" transform="rotate(72.4 762.5 1112.7)" text-anchor="start" dominant-baseline="central" font-size="10.8" fill="#505050">30%</text>
<text x="741.2" y="1119" transform="rotate(74.8 741.2 1119)" text-anchor="start" dominant-baseline="central" font-size="10.8" fill="#505050">40%</text>
<text x="719.8" y="1124.3" transform="rotate(77.1 719.8 1124.3)" text-anchor="start" dominant-baseline="central" font-size="10.8" fill="#505050">50%</text>
<text x="698.1" y="1128.8" transform="rotate(79.4 698.1 1128.8)" text-anchor="start" dominant-baseline="central" font-size="10.8" fill="#505050">60%</text>
<text x="676.3" y="1132.5" transform="rotate(81.8 676.3 1132.5)" text-anchor="start" dominant-baseline="central" font-size="10.8" fill="#505050">70%</text>
<text x="654.3" y="1135.2" transform="rotate(84.1 654.3 1135.2)" text-anchor="start" dominant-baseline="central" font-size="10.8" fill="#505050">80%</text>
<text x="632.3" y="1137" transform="rotate(86.5 632.3 1137)" text-anchor="start" dominant-baseline="central" font-size="10.8" fill="#505050">90%</text>
<text x="610.1" y="1137.9" transform="rotate(88.8 610.1 1137.9)" text-anchor="start" dominant-baseline="central" font-size="10.8" fill="#505050">100%</text>
<text x="1012.9" y="945.3" transform="rotate(40.1 1012.9 945.3)" text-anchor="start" dominant-baseline="central" font-size="10.8" fill="#505050">0%</text>
<text x="998.8" y="961.4" transform="rotate(42.3 998.8 961.4)" text-anchor="start" dominant-baseline="central" font-size="10.8" fill="#505050">10%</text>
<text x="984" y="977" transform="rotate(44.6 984 977)" text-anchor="start" dominant-baseline="central" font-size="10.8" fill="#505050">20%</text>
<text x="968.7" y="991.9" transform="rotate(46.9 968.7 991.9)" text-anchor="start" dominant-baseline="central" font-size="10.8" fill="#505050">30%</text>
<text x="952.7" y="1006.3" transform="rotate(49.2 952.7 1006.3)" text-anchor="start" dominant-baseline="central" font-size="10.8" fill="#505050">40%</text>
<text x="936.2" y="1020" transform="rotate(51.4 936.2 1020)" text-anchor="start" dominant-baseline="central" font-size="10.8" fill="#505050">50%</text>
<text x="919.2" y="1033" transform="rotate(53.7 919.2 1033)" text-anchor="start" dominant-baseline="central" font-size="10.8" fill="#505050">60%</text>
<text x="901.6" y="1045.4" transform="rotate(56 901.6 1045.4)" text-anchor="start" dominant-baseline="central" font-size="10.8" fill="#505050">70%</text>
<text x="883.6" y="1057" transform="rotate(58.2 883.6 1057)" text-anchor="start" dominant-baseline="central" font-size="10.8" fill="#505050">80%</text>
<text x="865.2" y="1068" transform="rotate(60.5 865.2 1068)" text-anchor="start" dominant-baseline="central" font-size="10.8" fill="#505050">90%</text>
<text x="846.3" y="1078.2" transform="rotate(62.8 846.3 1078.2)" text-anchor="start" dominant-baseline="central" font-size="10.8" fill="#505050">100%</text>
<text x="1108.5" y="778.5" transform="rotate(19.6 1108.5 778.5)" text-anchor="start" dominant-baseline="central" font-size="10.8" fill="#505050">0%</text>
<text x="1102.6" y="794.3" transform="rotate(21.4 1102.6 794.3)" text-anchor="start" dominant-baseline="central" font-size="10.8" fill="#505050">10%</text>
<text x="1096.2" y="809.8" transform="rotate(23.2 1096.2 809.8)" text-anchor="start" dominant-baseline="central" font-size="10.8" fill="#505050">20%</text>
<text x="1089.4" y="825.2" transform="rotate(24.9 1089.4 825.2)" text-anchor="start" dominant-baseline="central" font-size="10.8" fill="#505050">30%</text>
<text x="1082.1" y="840.3" transform="rotate(26.7 1082.1 840.3)" text-anchor="start" dominant-baseline="central" font-size="10.8" fill="#505050">40%</text>
<text x="1074.3" y="855.2" transform="rotate(28.5 1074.3 855.2)" text-anchor="start" dominant-baseline="central" font-size="10.8" fill="#505050">50%</text>
<text x="1066" y="869.9" transform="rotate(30.3 1066 869.9)" text-anchor="start" dominant-baseline="central" font-size="10.8" fill="#505050">60%</text>
<text x="1057.3" y="884.3" transform="rotate(32.1 1057.3 884.3)" text-anchor="start" dominant-baseline="central" font-size="10.8" fill="#505050">70%</text>
<text x="1048.2" y="898.4" transform="rotate(33.8 1048.2 898.4)" text-anchor="start" dominant-baseline="central" font-size="10.8" fill="#505050">80%</text>
<text x="1038.6" y="912.2" transform="rotate(35.6 1038.6 912.2)" text-anchor="start" dominant-baseline="central" font-size="10.8" fill="#505050">90%</text>
<text x="1028.6" y="925.7" transform="rotate(37.4 1028.6 925.7)" text-anchor="start" dominant-baseline="central" font-size="10.8" fill="#505050">100%</text>
<text x="1139.5" y="580.5" transform="rotate(-1.8 1139.5 580.5)" text-anchor="start" dominant-baseline="central" font-size="10.8" fill="#505050">0%</text>
<text x="1139.8" y="598.3" transform="rotate(0.1 1139.8 598.3)" text-anchor="start" dominant-baseline="central" font-size="10.8" fill="#505050">10%</text>
<text x="1139.5" y="616.1" transform="rotate(2 1139.5 616.1)" text-anchor="start" dominant-baseline="central" font-size="10.8" fill="#505050">20%</text>
<text x="1138.5" y="634" transform="rotate(3.9 1138.5 634)" text-anchor="start" dominant-baseline="central" font-size="10.8" fill="#505050">30%</text>
<text x="1137" y="651.7" transform="rotate(5.8 1137 651.7)" text-anchor="start" dominant-baseline="central" font-size="10.8" fill="#505050">40%</text>
<text x="1135" y="669.4" transform="rotate(7.7 1135 669.4)" text-anchor="start" dominant-baseline="central" font-size="10.8" fill="#505050">50%</text>
<text x="1132.3" y="687.1" transform="rotate(9.6 1132.3 687.1)" text-anchor="start" dominant-baseline="central" font-size="10.8" fill="#505050">60%</text>
<text x="1129" y="704.6" transform="rotate(11.5 1129 704.6)" text-anchor="start" dominant-baseline="central" font-size="10.8" fill="#505050">70%</text>
<text x="1125.2" y="722" transform="rotate(13.3 1125.2 722)" text-anchor="start" dominant-baseline="central" font-size="10.8" fill="#505050">80%</text>
<text x="1120.8" y="739.3" transform="rotate(15.2 1120.8 739.3)" text-anchor="start" dominant-baseline="central" font-size="10.8" fill="#505050">90%</text>
<text x="1115.8" y="756.4" transform="rotate(17.1 1115.8 756.4)" text-anchor="start" dominant-baseline="central" font-size="10.8" fill="#505050">100%</text>
<text x="1103.9" y="403.6" transform="rotate(-21 1103.9 403.6)" text-anchor="start" dominant-baseline="central" font-size="10.8" fill="#505050">0%</text>
<text x="1109.4" y="418.4" transform="rotate(-19.3 1109.4 418.4)" text-anchor="start" dominant-baseline="central" font-size="10.8" fill="#505050">10%</text>
<text x="1114.4" y="433.3" transform="rotate(-17.6 1114.4 433.3)" text-anchor="start" dominant-baseline="central" font-size="10.8" fill="#505050">20%</text>
<text x="1118.9" y="448.4" transform="rotate(-16 1118.9 448.4)" text-anchor="start" dominant-baseline="central" font-size="10.8" fill="#505050">30%</text>
<text x="1123" y="463.6" transform="rotate(-14.3 1123 463.6)" text-anchor="start" dominant-baseline="central" font-size="10.8" fill="#505050">40%</text>
<text x="1126.7" y="478.9" transform="rotate(-12.6 1126.7 478.9)" text-anchor="start" dominant-baseline="central" font-size="10.8" fill="#505050">50%</text>
<text x="1129.9" y="494.3" transform="rotate(-11 1129.9 494.3)" text-anchor="start" dominant-baseline="central" font-size="10.8" fill="#505050">60%</text>
<text x="1132.7" y="509.8" transform="rotate(-9.3 1132.7 509.8)" text-anchor="start" dominant-baseline="central" font-size="10.8" fill="#505050">70%</text>
<text x="1135" y="525.4" transform="rotate(-7.6 1135 525.4)" text-anchor="start" dominant-baseline="central" font-size="10.8" fill="#505050">80%</text>
<text x="1136.9" y="541.1" transform="rotate(-6 1136.9 541.1)" text-anchor="start" dominant-baseline="central" font-size="10.8" fill="#505050">90%</text>
<text x="1138.3" y="556.7" transform="rotate(-4.3 1138.3 556.7)" text-anchor="start" dominant-baseline="central" font-size="10.8" fill="#505050">100%</text>
<text x="979.9" y="213.3" transform="rotate(-45.2 979.9 213.3)" text-anchor="start" dominant-baseline="central" font-size="10.8" fill="#505050">0%</text>
<text x="994" y="227.8" transform="rotate(-43.1 994 227.8)" text-anchor="start" dominant-baseline="central" font-size="10.8" fill="#505050">10%</text>
<text x="1007.5" y="242.8" transform="rotate(-40.9 1007.5 242.8)" text-anchor="start" dominant-baseline="central" font-size="10.8" fill="#505050">20%</text>
<text x="1020.5" y="258.4" transform="rotate(-38.8 1020.5 258.4)" text-anchor="start" dominant-baseline="central" font-size="10.8" fill="#505050">30%</text>
<text x="1032.9" y="274.4" transform="rotate(-36.6 1032.9 274.4)" text-anchor="start" dominant-baseline="central" font-size="10.8" fill="#505050">40%</text>
<text x="1044.7" y="290.9" transform="rotate(-34.5 1044.7 290.9)" text-anchor="start" dominant-baseline="central" font-size="10.8" fill="#505050">50%</text>
<text x="1055.8" y="307.8" transform="rotate(-32.4 1055.8 307.8)" text-anchor="start" dominant-baseline="central" font-size="10.8" fill="#505050">60%</text>
<text x="1066.4" y="325.1" transform="rotate(-30.2 1066.4 325.1)" text-anchor="start" dominant-baseline="central" font-size="10.8" fill="#505050">70%</text>
<text x="1076.2" y="342.8" transform="rotate(-28.1 1076.2 342.8)" text-anchor="start" dominant-baseline="central" font-size="10.8" fill="#505050">80%</text>
<text x="1085.4" y="360.8" transform="rotate(-25.9 1085.4 360.8)" text-anchor="start" dominant-baseline="central" font-size="10.8" fill="#505050">90%</text>
<text x="1093.9" y="379.2" transform="rotate(-23.8 1093.9 379.2)" text-anchor="start" dominant-baseline="central" font-size="10.8" fill="#505050">100%</text>
<text x="815" y="101.4" transform="rotate(-66.5 815 101.4)" text-anchor="start" dominant-baseline="central" font-size="10.8" fill="#505050">0%</text>
<text x="830.9" y="108.6" transform="rotate(-64.6 830.9 108.6)" text-anchor="start" dominant-baseline="central" font-size="10.8" fill="#505050">10%</text>
<text x="846.5" y="116.4" transform="rotate(-62.8 846.5 116.4)" text-anchor="start" dominant-baseline="central" font-size="10.8" fill="#505050">20%</text>
<text x="861.9" y="124.6" transform="rotate(-60.9 861.9 124.6)" text-anchor="start" dominant-baseline="central" font-size="10.8" fill="#505050">30%</text>
<text x="877" y="133.3" transform="rotate(-59.1 877 133.3)" text-anchor="start" dominant-baseline="central" font-size="10.8" fill="#505050">40%</text>
<text x="891.8" y="142.5" transform="rotate(-57.2 891.8 142.5)" text-anchor="start" dominant-baseline="central" font-size="10.8" fill="#505050">50%</text>
<text x="906.3" y="152.2" transform="rotate(-55.4 906.3 152.2)" text-anchor="start" dominant-baseline="central" font-size="10.8" fill="#505050">60%</text>
<text x="920.5" y="162.3" transform="rotate(-53.5 920.5 162.3)" text-anchor="start" dominant-baseline="central" font-size="10.8" fill="#505050">70%</text>
<text x="934.4" y="172.9" transform="rotate(-51.7 934.4 172.9)" text-anchor="start" dominant-baseline="central" font-size="10.8" fill="#505050">80%</text>
<text x="947.9" y="184" transform="rotate(-49.8 947.9 184)" text-anchor="start" dominant-baseline="central" font-size="10.8" fill="#505050">90%</text>
<text x="961" y="195.4" transform="rotate(-48 961 195.4)" text-anchor="start" dominant-baseline="central" font-size="10.8" fill="#505050">100%</text>
<text x="599.2" y="56.4" transform="rotate(-90 599.2 56.4)" text-anchor="start" dominant-baseline="central" font-size="10.8" fill="#505050">0%</text>
<text x="619.1" y="56.8" transform="rotate(-87.9 619.1 56.8)" text-anchor="start" dominant-baseline="central" font-size="10.8" fill="#505050">10%</text>
<text x="639" y="57.9" transform="rotate(-85.8 639 57.9)" text-anchor="start" dominant-baseline="central" font-size="10.8" fill="#505050">20%</text>
<text x="658.9" y="59.7" transform="rotate(-83.6 658.9 59.7)" text-anchor="start" dominant-baseline="central" font-size="10.8" fill="#505050">30%</text>
<text x="678.6" y="62.3" transform="rotate(-81.5 678.6 62.3)" text-anchor="start" dominant-baseline="central" font-size="10.8" fill="#505050">40%</text>
<text x="698.3" y="65.6" transform="rotate(-79.4 698.3 65.6)" text-anchor="start" dominant-baseline="central" font-size="10.8" fill="#505050">50%</text>
<text x="717.8" y="69.6" transform="rotate(-77.3 717.8 69.6)" text-anchor="start" dominant-baseline="central" font-size="10.8" fill="#505050">60%</text>
<text x="737.2" y="74.4" transform="rotate(-75.2 737.2 74.4)" text-anchor="start" dominant-baseline="central" font-size="10.8" fill="#505050">70%</text>
<text x="756.4" y="79.8" transform="rotate(-73.1 756.4 79.8)" text-anchor="start" dominant-baseline="central" font-size="10.8" fill="#505050">80%</text>
<text x="775.3" y="85.9" transform="rotate(-71 775.3 85.9)" text-anchor="start" dominant-baseline="central" font-size="10.8" fill="#505050">90%</text>
<text x="794" y="92.8" transform="rotate(-68.9 794 92.8)" text-anchor="start" dominant-baseline="central" font-size="10.8" fill="#505050">100%</text>
<text x="364.2" y="55.9" transform="rotate(-23.4 364.2 55.9)" text-anchor="middle" dominant-baseline="central" font-size="18" fill="#333">BUSI</text>
<text x="109.1" y="268.3" transform="rotate(-56.1 109.1 268.3)" text-anchor="middle" dominant-baseline="central" font-size="18" fill="#333">COMP</text>
<text x="34" y="427.4" transform="rotate(-73.3 34 427.4)" text-anchor="middle" dominant-baseline="central" font-size="18" fill="#333">DECI</text>
<text x="12.2" y="535.6" transform="rotate(-84 12.2 535.6)" text-anchor="middle" dominant-baseline="central" font-size="18" fill="#333">ECON</text>
<text x="15.6" y="685.4" transform="rotate(81.4 15.6 685.4)" text-anchor="middle" dominant-baseline="central" font-size="18" fill="#333">ENGI</text>
<text x="140.3" y="968.2" transform="rotate(51 140.3 968.2)" text-anchor="middle" dominant-baseline="central" font-size="18" fill="#333">Other</text>
<text x="442.1" y="1166" transform="rotate(15.4 442.1 1166)" text-anchor="middle" dominant-baseline="central" font-size="18" fill="#333">SOCI</text>
<text x="730.8" y="1172.3" transform="rotate(-12.9 730.8 1172.3)" text-anchor="middle" dominant-baseline="central" font-size="18" fill="#333">Topic-1</text>
<text x="966.9" y="1058.5" transform="rotate(-38.6 966.9 1058.5)" text-anchor="middle" dominant-baseline="central" font-size="18" fill="#333">Topic-2</text>
<text x="1117.5" y="878.7" transform="rotate(-61.5 1117.5 878.7)" text-anchor="middle" dominant-baseline="central" font-size="18" fill="#333">Topic-3</text>
<text x="1183.7" y="676" transform="rotate(-82.3 1183.7 676)" text-anchor="middle" dominant-baseline="central" font-size="18" fill="#333">Topic-4</text>
<text x="1174.7" y="468.1" transform="rotate(77.4 1174.7 468.1)" text-anchor="middle" dominant-baseline="central" font-size="18" fill="#333">Topic-5</text>
<text x="1085.2" y="263" transform="rotate(55.5 1085.2 263)" text-anchor="middle" dominant-baseline="central" font-size="18" fill="#333">Topic-6</text>
<text x="918.4" y="101.2" transform="rotate(32.8 918.4 101.2)" text-anchor="middle" dominant-baseline="central" font-size="18" fill="#333">Topic-7</text>
<text x="707.3" y="17.2" transform="rotate(10.6 707.3 17.2)" text-anchor="middle" dominant-baseline="central" font-size="18" fill="#333">Topic-8</text>
</g>
</svg>
</body></html>
